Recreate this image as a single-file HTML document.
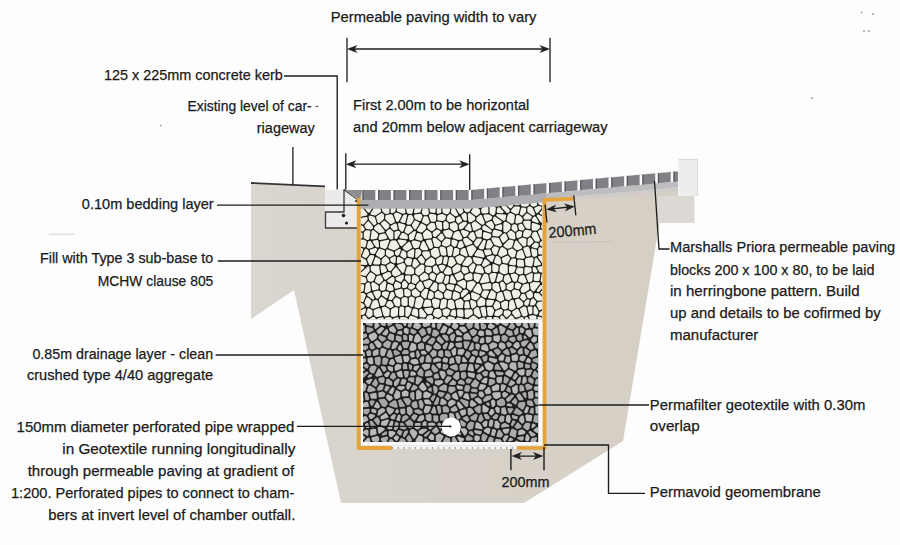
<!DOCTYPE html><html><head><meta charset="utf-8"><style>html,body{margin:0;padding:0;background:#fff;width:900px;height:545px;overflow:hidden}</style></head><body><svg width="900" height="545" viewBox="0 0 900 545" style="display:block"><defs><linearGradient id="gstone" x1="0" y1="0" x2="0.3" y2="1"><stop offset="0" stop-color="#c4c4c4"/><stop offset="1" stop-color="#9c9c9c"/></linearGradient><linearGradient id="gground" gradientUnits="userSpaceOnUse" x1="250" y1="0" x2="700" y2="0"><stop offset="0" stop-color="#dad6d0"/><stop offset="0.3" stop-color="#d8d3cb"/><stop offset="1" stop-color="#d5cec3"/></linearGradient></defs><rect width="900" height="545" fill="#fdfdfd"/><polygon fill="url(#gground)" points="251,183 325,186.3 325,190 362,190 470,190 678,171 678,196 694,196 694,223 659.5,223 623,441 524,503 341,503 294,290 251,319"/><polyline points="251,183 325,186.3" stroke="#333" stroke-width="1.8" fill="none"/><rect x="325" y="190" width="34" height="38" fill="#ecebea"/><polyline points="345.8,190 344,190 344,212 325.5,212 325.5,228 358,228" stroke="#3a3a3a" stroke-width="1.3" fill="none"/><polygon points="344,190 362,190 360,200" fill="#8d8d90"/><polyline points="344,190 358,200" stroke="#333" stroke-width="1" fill="none"/><circle cx="343.5" cy="215.5" r="1.8" fill="#222"/><circle cx="346.5" cy="223" r="1.6" fill="#222"/><circle cx="356.5" cy="201" r="1.3" fill="#222"/><clipPath id="csb"><rect x="361" y="199" width="181" height="120.5"/></clipPath><g clip-path="url(#csb)"><rect x="361" y="199" width="181" height="120.5" fill="#1e1e1e"/><path fill="#f1f0e6" d="M366.3 194.4 365.8 193.8 365.1 193.6 359.4 193.6 358.6 193.9 358.2 194.8 358.2 195.9 358.4 196.7 359 197.1 363.1 198.3 364.2 198.1 366.2 196.6 366.6 196 366.6 195.2ZM369.7 193.6 368.9 193.9 368.5 194.7 368.7 195.5 369.5 196 370.3 196.1 370.9 196.1 371.4 195.9 372.1 195.4 372.2 194.6 371.8 193.9 371 193.6ZM373.9 194.6 374 195.5 374.7 196.1 377.2 196.9 378.2 196.8 379.8 195.8 380.3 195 380 194 379.1 193.6 375.1 193.6 374.3 193.9 373.9 194.5ZM387.7 195 387.6 195.8 387.9 196.5 388.6 196.8 393.2 197.3 394.1 197 394.4 196.8 394.8 196 394.9 194.9 394.6 194 393.7 193.6 389.2 193.6 388.2 194.2ZM403.7 194.4 403.3 193.8 402.6 193.6 397.3 193.6 396.5 193.9 396.1 194.7 396.1 195.3 396.3 196.1 397 196.6 400.2 197.3 400.7 197.3 403.2 196.8 404 196.1 404.1 195.1ZM407.5 197.3 408.6 197.2 411 195.8 411.6 195 411.3 194 410.4 193.6 406.5 193.6 405.5 194.1 405.4 195.2 405.7 196 406.3 196.7ZM415.6 193.6 414.8 193.9 414.4 194.6 414.6 195.4 415.2 195.9 415.7 196.1 416.5 196.2 417.4 196 418.1 195.5 418.3 194.7 417.9 193.9 417.1 193.6ZM424 193.6 423.2 193.9 422.8 194.7 423.1 195.6 423.9 196 424 196 424.9 195.7 425.3 194.8 425.3 194.8 425 193.9 424.1 193.6ZM432.9 195.3 433 194.5 432.5 193.9 431.8 193.6 427.7 193.6 426.9 194 426.5 194.8 426.5 195.1 426.8 195.7 427.4 196.2 430 197 430.6 197.1 431.6 196.9 432.4 196.2ZM433.7 196.3 433.6 197.1 434.1 197.7 437.9 200.7 438.6 201 439.3 200.8 441.9 199.1 442.3 198.6 442.6 197.9 442.5 196.9 440.8 194.2 439.8 193.6 435.8 193.6 434.7 194.3ZM443 195.5 443.8 196.1 444.7 195.9 444.8 195.8 445.4 195 445.2 194 444.2 193.6 444 193.6 443.2 193.9 442.8 194.6 443 195.4ZM452 193.6 451.3 193.9 450.9 194.6 451 195.4 453.1 199.1 454 199.7 454.9 199.4 459 195.7 459.4 194.8 459.1 194 458.2 193.6ZM467.9 198.5 468.8 198.9 469.6 198.5 471.2 196.8 471.4 195.5 471 194.4 470.6 193.8 469.9 193.6 467.5 193.6 466.6 194 465.8 194.9 465.5 195.8 465.9 196.6ZM475.3 193.6 474.5 193.9 474.1 194.8 474.4 195.6 475.2 196 476.3 196.1 477.1 195.8 477.6 195 477.6 195 477.3 194 476.4 193.6ZM478.6 196.1 478.8 197 479.5 197.4 483.1 198.4 483.8 198.3 484.4 197.8 485.8 195.4 485.9 194.6 485.5 193.9 484.8 193.6 480 193.6 479.2 193.9 478.8 194.6ZM493.4 196.7 494.7 196.9 496.8 196.1 497.4 195.6 497.6 194.8 497.2 194.1 497 193.9 496.2 193.6 493.2 193.6 492.3 194 492 194.8 492.4 195.7ZM501.3 194.7 501.3 195.6 501.8 196.3 506.7 198.9 507.7 199 508.9 198.6 509.5 198.1 509.7 197.3 509.2 194.6 508.8 193.9 508.1 193.6 502.6 193.6 501.5 194.3ZM510.9 197.5 511.6 198.3 512.6 198.4 516.8 196.4 517.4 195.8 517.4 195 517.3 194.5 516.8 193.8 516.1 193.6 511.7 193.6 510.8 194 510.5 195ZM518.8 195.3 519.4 196.1 520.5 196.6 521.3 196.7 524.2 196 525 195.5 525.2 194.7 524.8 193.9 524 193.6 519.9 193.6 518.9 194.1 518.7 195.1ZM526.8 195.1 527.3 196.2 529.5 197.6 530.5 197.7 531.3 197.1 532.1 195.3 532.2 194.5 531.8 193.9 531 193.6 528 193.6 527.2 193.9 526.8 194.8ZM532.8 196.7 532.8 197.8 533.8 198.4 535.4 198.6 535.9 198.5 539.4 197.4 540 196.9 540.2 196.2 540.2 194.8 539.9 194 539 193.6 535 193.6 534 194.3ZM541.4 196.6 541.9 197.6 544 199.2 544.9 199.5 545.7 199 547.1 197.3 547.4 196.5 547.4 194.8 547 194 546.2 193.6 542.6 193.6 541.8 193.9 541.4 194.8ZM358.1 198.1 357.2 198.2 357 198.3 356.4 199.4 356.5 204.1 357.1 205.1 359.8 206.8 360.8 206.9 362 206.5 362.7 206 363 205.4 363.2 204.8 363.2 200.5 363 199.7 362.3 199.3ZM364.9 199 364.4 200 364.4 203.5 364.7 204.3 365.6 204.7 369.7 204.6 370.6 204.2 370.9 203.3 370.2 198.2 369.9 197.5 369.3 197.2 368.2 197 367.3 197.2ZM372.3 204.5 372.6 205.2 373.5 206.1 374.5 206.5 377.3 206.2 378.2 205.7 378.4 204.8 377.4 198.9 376.6 198 373.2 196.9 372.5 196.9 372.3 196.9 371.6 197.4 371.4 198.2ZM379.8 205.5 380.1 206.2 380.9 206.5 381.6 206.2 384.7 204.1 385.2 203.4 386.5 198 386.2 197 386.2 196.9 385.7 196.6 383.3 195.6 382.2 195.7 379.1 197.6 378.7 198.2 378.6 198.8ZM386.6 202.7 386.7 203.6 387.4 204.1 389.4 204.8 390.1 204.8 392.9 204.1 393.5 203.6 393.7 202.8 393.4 199.5 393.1 198.8 392.4 198.4 388.8 198 388 198.2 387.5 199ZM396 197.6 395 197.8 395 197.9 394.6 198.9 395 203.5 395.4 204.3 396.5 205.4 397.7 205.7 398.4 205.5 399.2 204.5 399.7 199.5 399.5 198.7 398.8 198.2ZM401.8 198.3 401.2 198.7 400.9 199.3 400.5 203.9 400.7 204.8 401.6 205.2 404.1 205.4 405.1 205 407 202.6 407.3 201.9 407.4 199.4 406.8 198.3 405.7 197.7 404.9 197.6ZM408.5 201.5 409 202.6 413.8 205.8 415 205.9 416.5 205.1 417 204.6 417.1 203.8 415.7 198 415 197.1 413.2 196.4 412.2 196.5 409.2 198.3 408.6 199.3ZM423.8 198.6 423.7 197.6 422.8 197.1 419.8 196.7 419.3 196.7 417.9 197.1 417.2 197.6 417.1 198.5 418.3 203.8 419.2 204.7 420.5 205.1 421.4 205 421.9 204.3ZM423 204.9 423.1 205.9 424 206.5 427.1 207 428 206.7 428.5 205.9 429.5 199.2 429.3 198.3 428.6 197.8 426.8 197.2 425.9 197.3 425.3 198ZM437.9 202.9 437.5 201.9 432.8 198.3 431.9 198 431.7 198.1 431 198.4 430.7 199.1 429.8 205.1 430.1 206.1 431.1 206.5 435.8 205.9 436.5 205.6 437.5 204.5 437.9 203.7ZM441.5 206.3 442.3 206.6 448.3 206.6 449.2 206.1 449.5 205.2 449 204.4 443.3 200.5 442 200.5 439.7 202 439.1 203 439.1 203.6 439.5 204.6ZM444.3 197.5 443.8 198.2 443.7 198.2 443.7 199 444.2 199.6 450.9 204.2 451.7 204.4 452.4 204.1 452.8 203.4 453 201.9 452.9 201.1 449.8 195.7 449.1 195.2 448.2 195.3ZM454 203.6 454.2 204.5 455 205 460 205.4 461 205.1 461.3 204.2 461.2 198 460.8 197.2 460 196.9 459.2 197.2 454.6 201.4 454.2 202.1ZM462.5 203.6 462.8 204.3 463.5 204.7 464.3 204.6 467.8 202.5 468.3 202 468.4 201.3 468.3 200.9 468 200.2 464.4 196.8 463.5 196.5 462.7 196.8 462.4 197.7ZM469.6 201.6 470.1 202.4 473.2 204.5 474.2 204.6 475 204 477.3 199 477.2 197.9 476.3 197.3 473.2 197 472.2 197.4 469.8 200 469.5 201ZM479.6 207.8 480.3 207.9 481 207.6 484.9 204.4 485.3 203.7 485.2 203 484 200.4 483.3 199.7 479.8 198.8 478.9 198.8 478.4 199.4 476.1 204.4 476 205.2 476.6 205.9ZM489.4 194.5 488.4 194.2 487.5 194.8 485.2 198.8 485.2 199.9 486.5 202.9 487.3 203.6 488.6 203.9 489.1 203.9 490.7 203.6 491.7 202.8 492.9 198.8 492.6 197.6ZM498.2 206.1 499 205.1 500 198.1 499.8 197.3 499.1 196.8 498.3 196.8 494.9 198.2 494.2 198.9 492.9 202.9 492.9 203.7 493.4 204.3 496.3 206.3 497.4 206.4ZM500.4 203.6 500.5 204.4 501.1 204.9 501.9 205 504.6 204.2 505.4 203.4 506.1 201.1 506.1 200.3 505.6 199.7 502.8 198.2 501.7 198.1 501 199ZM510.9 199.4 510.1 199.4 508.2 200.1 507.4 200.9 506.6 203.7 506.8 204.9 509.6 208 510.5 208.4 511.4 208 513 206.2 513.2 205 511.8 200.3 511.1 199.5ZM514.3 204.4 514.7 205 515.4 205.2 518.5 205.3 519.4 205 519.8 204.2 520.1 198.6 519.9 197.9 519.4 197.4 518.9 197.2 517.9 197.2 513.8 199.1 513.2 199.7 513.2 200.5ZM520.9 204.9 521.2 205.8 522 206.2 526 206.7 526.9 206.5 528.7 205.2 529.2 204.4 529.8 200 529.3 198.9 526.5 197.1 525.6 196.9 522.2 197.7 521.6 198.1 521.3 198.8ZM532.3 199.5 531.4 199.7 531 200.5 530.4 204.2 530.9 205.4 532.6 206.6 533.8 206.7 536.6 205.5 537.3 204.8 537.2 203.9 535.6 200.4 534.6 199.7ZM544.6 201.5 544.1 200.8 541.2 198.6 540.1 198.4 537.8 199.1 537.1 199.8 537.1 200.8 538.7 204.3 539.5 205 543.4 206 544.1 205.9 544.3 205.9 544.8 205.5 544.9 205.3 545.2 204.3ZM355.6 210.5 356 211.4 357.1 211.7 357.9 211 358.9 208.9 359 208 358.5 207.4 357.4 206.7 356.6 206.5 355.9 206.9 355.6 207.7ZM363.1 208.3 362.5 207.9 361.8 207.8 361.1 208.1 360.4 208.7 357.8 213.9 357.7 214.7 358.2 215.4 360 216.6 360.9 216.7 366.5 215.6 367.2 215.2 367.5 214.5 367.3 213.7ZM365.2 205.9 364.4 206.2 364 207 364.3 207.8 367.7 212.3 368.7 212.8 369.7 212.2 372.4 208 372.6 207.3 372.2 206.5 371.8 206.2 371 205.8ZM374.6 215.6 375.5 215.4 380.6 212.2 381.1 211.6 381.1 210.9 380.4 208.4 379.9 207.7 379.5 207.5 378.8 207.3 374.6 207.6 373.7 208.2 370.7 212.9 370.5 214 371.4 214.7ZM388.6 213.4 389.3 212.9 389.5 212.1 389.2 206.8 389 206.1 388.4 205.7 386.3 205 385.3 205.2 382.2 207.3 381.8 207.9 381.7 208.6 382.5 211.4 382.9 211.9 384.7 213.6 385.7 213.9ZM395.1 211.5 395.5 210.8 396.1 207.4 395.8 206.4 394.8 205.4 393.7 205.1 391.3 205.7 390.6 206.2 390.4 207 390.7 212.1 391.1 212.9 391.8 213.3 392.3 213.3 393.2 213.1ZM402.6 213.7 403.4 213.7 404.6 213.3 405.3 212.8 405.5 212 404.7 207.6 404.3 206.9 403.6 206.6 400 206.3 399.5 206.4 398.1 206.8 397.3 207.8 396.8 210.3 396.9 211.1 397.5 211.6ZM411.3 213.9 412.1 213.6 412.5 212.9 413.5 208 413 206.7 408.9 204 408 203.8 407.3 204.2 406 205.8 405.7 206.8 406.8 212.5 407.4 213.3 407.9 213.6 408.5 213.8ZM421.7 207.9 421.6 207 420.9 206.4 418.5 205.8 417.6 205.9 415.4 207.1 414.7 207.9 414 211.9 414.3 213 415.3 213.3 419.7 212.6 420.6 211.7ZM421.7 212.2 422 213.3 423.2 214.7 424.2 215.2 427.1 214.9 428 214.4 428.7 213.4 428.9 212.4 428.1 209.1 427.8 208.5 427.1 208.2 424.1 207.7 423.3 207.9 422.7 208.6ZM430.4 207.8 429.6 208.3 429.4 209.2 430 211.7 430.3 212.3 431 212.6 434.2 213.1 435.1 212.8 435.5 212 435.7 208.6 435.4 207.6 434.4 207.3ZM436.7 212.5 437.1 213.5 438.2 213.7 440.5 213 441.2 212.5 441.4 211.8 441.1 208 440.7 207.2 439.3 206 438.5 205.7 437.7 206.1 437.4 206.4 437 207.2ZM446.1 214.3 447.4 214.2 449 213 449.5 212.2 450.2 209.2 449.9 208.2 449 207.8 443.6 207.8 442.7 208.2 442.4 209.1 442.6 212 443.3 213.1ZM454.1 207.1 453.5 206.5 452.7 206.5 452.1 207 451.9 207.2 451.7 207.6 450.8 212 451.2 213.2 455.2 216.2 456.4 216.3 457.5 215.7 458.2 215 458 214ZM459.1 213.5 460 214.1 460.9 213.9 462.9 212.2 463.3 211.6 463.3 210.9 462.1 207.5 461.1 206.7 457.3 206.4 456.4 206.6 456 207.3 456.1 208.2ZM469.7 203.6 468.5 203.5 464 206.2 463.4 206.8 463.4 207.6 464.6 210.9 465.3 211.6 466.7 212.3 467.5 212.3 469 211.9 469.7 211.3 472.5 206.8 472.6 205.9 472.1 205.2ZM475.4 206.6 474.5 206.5 473.8 207 471.2 211.2 471.1 212 471.5 212.8 475.5 215.8 476.2 216 477 215.8 479.8 213.6 480.3 212.4 479.9 209.9 479.3 209ZM481.5 212.3 481.9 213.1 482.7 213.4 487.2 213.3 488 212.9 488.4 212 488.3 206 488 205.2 487.3 204.8 487.1 204.8 486 205 481.5 208.8 481.1 209.8ZM492.7 215.2 493.6 215.3 494.3 214.8 495.1 213.4 495.3 213 495.9 208.3 495.4 207.1 492.2 204.9 491.3 204.7 490.5 204.9 489.8 205.3 489.5 206.1 489.6 212.8 490.2 213.8ZM499.8 207.5 498.5 207.2 497.9 207.5 497.1 208.4 496.7 211.5 496.9 212.5 497.8 212.9 502.4 213.2 503.2 212.9 503.6 212 503.3 211.2ZM502.5 206 501.8 206.5 501.6 207.3 501.9 208 506.5 212.8 507.3 213.1 508.1 212.9 509.2 212 509.7 211.2 509.8 210.7 509.5 209.7 506 205.8 504.8 205.4ZM511.3 209.9 511 210.5 511 210.9 511.1 211.6 511.6 212.1 515.5 214.1 516.2 214.2 517.6 214 518.6 213.1 520 208 519.8 207 518.8 206.5 514.9 206.4 514 206.8ZM526.1 208.9 525.8 208.1 525 207.7 522.4 207.4 521.6 207.6 521.1 208.3 519.8 213.3 519.8 214.1 520.3 214.7 521.5 215.5 522.3 215.6 523 215.3 525.9 212.3 526.2 211.4ZM532.7 208.3 532.3 207.8 530.4 206.4 529.7 206.2 529 206.4 527.8 207.3 527.3 208.3 527.4 211.2 527.9 212.2 532.5 215.4 533.8 215.5 534.5 215.1 535.1 214.4 535 213.5ZM535.9 212.5 536.4 213.1 537.2 213.2 537.9 212.8 541.5 208.5 541.8 207.8 541.6 207 540.9 206.6 539 206.1 538.2 206.1 535 207.5 534.4 208.1 534.4 209ZM545.1 209 544.6 208.3 543.8 208.1 543 208.6 539.9 212.4 539.6 213.4 540.3 214.2 543.7 215.8 544.9 215.7 545.9 215 546.4 214.4 546.4 213.7ZM357.4 216.3 356.6 216.2 355.9 216.6 355.6 217.4 355.6 221.9 356 222.8 357.6 224.1 358.9 224.2 359 224.1 359.7 223.1 359.7 218.4 359.1 217.4ZM361.9 217.8 361.2 218.2 360.9 218.9 360.9 223.1 361.6 224.1 362.4 224.5 363.1 224.6 363.8 224.2 367.4 219.9 367.7 219 367.5 218 367 217.1 366.1 216.9ZM370.1 215.6 369.3 215.7 368.7 216.2 368.6 216.9 368.9 219.1 369.1 219.7 373.2 224.8 374 225.2 374.9 225 376.1 224.1 376.5 223.5 376.5 222.8 374.9 217.5 374 216.7ZM383.5 219.5 383.9 218.7 384.2 215.5 383.9 214.5 382.7 213.4 382 213.1 381.2 213.3 376.7 216.1 376.2 216.7 376.1 217.5 377.5 222.1 378 222.8 378.8 223 379 223 379.7 222.7ZM394.2 222.6 394.8 221.9 394.8 221.1 392.8 215.3 391.8 214.5 390.5 214.3 390.1 214.3 386.4 215 385.7 215.4 385.4 216.1 385.1 218.6 385.5 219.6 390 223.8 390.6 224.1 391.4 224ZM396.1 221.1 396.7 221.8 397.6 221.9 398 221.8 398.7 221.2 401.5 215.9 401.5 215 400.9 214.3 396.7 212.5 395.5 212.7 394.3 213.7 393.9 214.3 394 215ZM400.5 220.5 400.4 221.5 401.2 222.2 404 223 404.9 222.9 405.5 222.1 407 215.8 406.9 214.9 406.4 214.4 405.5 214.3 403.8 214.8 403.1 215.4ZM406.5 223 406.7 224 407.5 224.5 409.8 224.8 411 224.2 413.6 219.9 413.7 218.9 412.6 215.9 411.5 215.1 409.5 215 408.7 215.2 408.2 215.9ZM414.9 214.6 414.1 215.2 414 216.2 414.8 218.5 415.5 219.2 419.4 220.9 420.4 220.9 421 220.2 422.4 216.6 422.2 215.4 421.1 214.1 420 213.7ZM422 220.9 422 221.8 422.6 222.4 426 224.3 426.6 224.5 427.3 224.2 429.2 222.7 429.6 222.1 429.5 221.4 427.9 216.9 427.4 216.4 426.7 216.2 424.5 216.3 423.5 217.1ZM430.7 213.8 429.5 214.3 429 215 428.9 216.1 430.7 221 431.1 221.6 431.8 221.8 434.3 221.8 435 221.5 435.8 220.9 436.2 220 436.2 215.6 435.9 214.8 435.2 214.4ZM437.4 219.3 437.7 220 438.4 220.5 442.1 221.1 442.8 220.9 444.8 220 445.5 219.1 446 216.6 445.9 215.8 445.3 215.3 442.4 214 441.6 213.9 438.3 215 437.7 215.4 437.4 216.1ZM450.7 214.3 449.9 214.1 449.2 214.3 447.8 215.4 447.3 216.1 446.7 219.2 447 220.4 449 222.1 450.1 222.3 454 221.2 454.6 220.8 454.9 220.2 455 218.2 454.5 217.2ZM456.9 217.4 456.2 218.4 456 220.8 456.3 221.6 457.5 223 458.3 223.4 459.1 223.2 461.6 221.5 462.1 220.8 462 220 460.3 216.9 459.6 216.4 458.7 216.4ZM463.4 220 464.3 220.6 465.6 220.8 466.6 220.5 467 219.5 466.6 214.2 465.8 213.2 465.1 212.9 463.8 213 461.7 214.8 461.3 215.5 461.4 216.3ZM474.4 220.3 474.9 219.6 475.3 218.1 475.3 217.4 474.9 216.8 470.2 213.3 469.1 213.1 468.7 213.2 468 213.7 467.8 214.5 468.3 220.9 468.7 221.7 468.8 221.8 469.3 222.1 470.1 222.3 471 222.2ZM481.9 215.4 481.1 214.7 480.1 214.9 477.1 217.2 476.7 217.8 476.2 219.4 476.6 220.7 481.4 224.6 482.1 224.8 482.8 224.7 483.9 224 484.4 223.5 484.6 223.1 484.6 222.1ZM491.1 219.5 491.7 218.8 492.2 217.5 492.2 216.6 491.6 216 489.1 214.6 488.5 214.4 484.6 214.5 483.6 215.1 483.5 216.2 485.3 220.7 486 221.4 487 221.3ZM495.3 216.8 494.2 216.6 493.5 217.4 492.8 219.2 492.9 220.1 494.8 223.9 495.4 224.5 496.3 224.5 500.9 222.9 501.6 222.3 501.7 221.5 501.2 220.8ZM497.4 214.1 496.5 214.5 496.2 215.4 496.7 216.3 503.2 220.7 504.3 220.8 504.7 220.6 505.4 219.8 506.2 216 506 215.1 505.1 214.6ZM511 223.6 512.1 223.7 513.2 223.3 514 222.4 514.9 216.1 514.8 215.4 514.3 214.8 510.9 213.1 509.6 213.2 508.1 214.3 507.7 215 506.6 219.7 506.7 220.4 507.1 221ZM522.7 220.5 522.8 219.6 522 217.5 521.6 217 519.1 215.3 518.3 215.1 517.1 215.3 516.4 215.6 516.1 216.3 515.3 222.1 515.4 222.9 516.1 223.4 517 223.6 517.7 223.6 521.4 222.4 522 221.8ZM529.8 219.6 530.8 219 531.7 217.7 531.8 216.8 531.3 216.1 527.7 213.5 526.9 213.3 526.2 213.7 523.6 216.4 523.3 217.6 523.8 218.7 524.2 219.3 524.9 219.5ZM531.9 219.6 531.8 220.6 532.5 221.3 537.2 222.9 538.1 222.9 538.7 222.1 538.6 221.2 535.9 217 535.1 216.5 534.3 216.6 533.8 216.8 533.3 217.3ZM538.4 214.6 537.4 214.6 536.8 215.4 536.9 216.4 540.7 222.2 541.4 222.7 542.4 222.5 542.8 222.2 543.3 221.3 543.6 218 543.5 217.3 542.9 216.8ZM545.4 216.8 544.9 217.7 544.6 220.5 544.8 221.4 545.6 221.9 546 221.9 547 221.6 547.4 220.7 547.4 217.7 547.1 216.9 546.3 216.5 545.5 216.7ZM356.3 229.2 356.1 230 356.5 230.7 357.2 231 362.4 231.4 363.4 231.1 364.3 230.1 364.7 229.4 364.5 228.6 363.1 226.4 362.6 225.9 360.8 225.1 359.8 225.1 358.8 225.6 358.3 226ZM372.2 228.9 372.7 228.2 373 227.3 372.8 226.2 369.3 221.8 368.3 221.3 367.4 221.7 364.7 225 364.4 225.7 364.5 226.4 365.8 228.4 366.7 229 370.7 229.4 371.5 229.3ZM379.8 224.6 378.7 224.2 378 224.3 377.4 224.6 374.7 226.7 374.3 227.3 374 228 374 228.8 374.4 229.4 378.7 232.8 379.7 233.1 383.7 232.3 384.4 231.9 384.7 231.1 384.4 230.4ZM385.2 221 384.4 220.7 383.6 220.9 381.4 222.8 381 223.6 381.2 224.5 385.1 229.3 385.9 229.7 386.8 229.4 388.9 227.5 389.2 227.1 389.5 226 389.2 224.8ZM390.6 226.7 390.6 227.4 390.9 228 393.5 230.2 394.6 230.4 396.9 229.8 397.6 229.2 397.7 228.3 396.7 224.3 396.1 223.5 395 223.5 391.4 225.3 390.8 226ZM399.5 222.9 398.7 223 398.1 223.5 398 224.4 399.2 229.2 399.5 229.8 401.2 231.5 402.3 231.8 402.4 231.7 403.3 231 405.3 226 405.3 225 404.6 224.4ZM412.5 230.8 413 230 412.8 229.1 410.9 226.5 410 226 407.7 225.8 406.9 225.9 406.4 226.5 404.6 231 404.6 231.8 405.1 232.4 407.3 233.8 408 234 408.7 233.7ZM414.1 228.9 414.7 229.4 415.5 229.4 416.1 228.9 419.3 223.6 419.4 222.6 418.7 221.9 415.7 220.6 414.9 220.6 414.2 221.1 412 224.8 412.1 226.1ZM417.1 229.6 417 230.6 417.7 231.3 421 232.6 422.3 232.3 425.7 228.9 426.1 228 426.1 226.5 425.5 225.4 422.1 223.5 421.2 223.4 420.5 223.9ZM431.1 231.1 431.8 231.3 432.5 231 435.3 228.7 435.7 227.5 434.7 223.9 434.3 223.3 433.5 223 431.2 223 430.4 223.3 427.8 225.4 427.3 226.3 427.3 227.8 427.8 228.8ZM442 223.2 441.7 222.5 441 222.1 437.5 221.5 436.5 221.8 436.2 222.1 435.8 223.4 436.9 227.5 437.5 228.3 440.5 229.8 441.3 229.9 442 229.4 442.2 228.7ZM448.7 224 448.3 223.1 446.4 221.4 445.7 221.1 445.1 221.2 443.9 221.8 443.2 222.9 443.4 228.1 443.9 229.1 444.9 229.3 447.8 228.5 448.4 228.1 448.7 227.3ZM453.2 230.8 454.4 231 457.1 229.9 457.6 229.4 457.8 228.7 457.6 225.2 457.3 224.5 455.7 222.7 454.4 222.3 450.8 223.4 450.1 223.8 449.9 224.5 449.9 227.8 450.4 228.8ZM459 228.3 459.5 229.3 460.5 229.4 462.5 228.8 463 228.4 466.7 224 467 223.2 466.7 222.4 465.9 222 463.9 221.8 463.1 222 459.3 224.5 458.8 225.6ZM470.4 224.5 469.9 223.8 469 223.6 468.3 224 465.2 227.7 465 228.7 465.7 229.6 470 231.2 470.9 231.2 471.1 231.1 471.7 230.5 471.8 229.7ZM473 229.9 473.7 230.7 474.7 230.7 480.3 228.1 480.9 227.3 481.1 226.8 481.1 226.1 480.7 225.5 475.9 221.7 475.2 221.4 474.5 221.6 472.1 222.9 471.6 223.5 471.6 224.3ZM482.9 226 482.4 226.7 482.1 227.7 482.2 228.7 482.8 229.8 483.5 230.3 490.1 232.5 491 232.4 491.6 231.7 491.7 231.3 491.7 230.6 491.3 230.1 485.3 225.5 484.6 225.2 483.9 225.4ZM486.7 222.8 486.1 223.4 486 224.2 486.4 224.8 491.7 228.9 492.8 229.1 493.6 228.3 494.2 226.1 494.1 225.2 492.2 221.5 491.6 220.9 490.7 221ZM500.6 230.1 501.7 229.8 502.1 228.9 502.2 225.4 501.7 224.4 500.6 224.3 496.1 225.8 495.3 226.6 495.1 227.3 495.2 228.3 496 228.8ZM509.8 229.5 510.2 228.7 510.7 225.6 510.1 224.4 506.2 221.8 505.1 221.7 504.4 222.1 503.9 222.5 503.6 222.8 503.4 223.4 503.3 230.7 503.5 231.4 503.6 231.6 504.4 232.1 505.6 232.4 506.7 232.2ZM514.6 231.5 515.4 231.7 516.1 231.4 517.3 230.4 517.7 229.2 517 225.5 516.1 224.6 514.8 224.3 514.1 224.3 512.7 224.8 511.8 225.7 511.5 228.5 511.9 229.6ZM519.1 224.4 518.4 224.9 518.3 225.8 518.9 229 519.7 229.9 522.1 230.6 523.2 230.4 524.2 229.6 524.6 228.9 524.4 228.1 522.4 224.3 521.8 223.8 521 223.8ZM525.8 228 526.7 228.6 529.1 229 530 228.7 530.4 227.8 530.7 222 530.3 221.1 529.5 220.8 524.7 220.7 523.6 221.4 523.2 222.1 523.2 223.3ZM531.6 229.1 532 230 532.4 230.4 533.3 230.8 536.3 230.6 537 230.4 539.4 228.6 539.8 227.8 540 226.2 539.9 225.4 539.3 224.9 533.4 222.9 532.3 223.1 531.8 224ZM544.4 222.9 543.5 223.1 541.9 224.3 541.5 224.8 541.5 224.9 541.4 225.2 541.1 227.3 541.2 228.1 541.8 228.6 545.7 230.4 546.5 230.5 547.1 230 547.4 229.3 547.4 224.4 547.1 223.6 546.4 223.2ZM355.8 237 356.6 237.9 359.5 238.7 360.1 238.7 361.6 238.4 362.3 238 362.5 237.2 362.6 233.8 362.3 232.9 361.5 232.5 356.9 232.2 356 232.5 355.6 233.4 355.6 236.2 355.6 236.4ZM370.4 231.9 370.1 230.9 369.3 230.5 366.6 230.2 365.6 230.5 364.1 232 363.8 232.8 363.7 237.5 364.4 238.6 367.1 240 368.2 240 368.6 239.8 369.3 238.9ZM370.6 238.2 371 239.2 372 239.5 376.5 238.7 377.4 237.8 378.2 234.8 377.7 233.6 373.6 230.3 372.9 230 372.1 230.3 371.7 231.1ZM378.5 238.4 378.7 239.4 379 239.7 380.2 240.1 386.3 238.8 387.1 238.2 387.1 237.1 385.4 234 384.9 233.5 384.1 233.4 380.3 234.2 379.3 235.1ZM386.6 231.3 386.3 231.7 386.1 232 386.2 233 389.1 238.3 389.4 238.7 390 239.2 391 239.5 392.4 239.3 393.1 238.9 393.4 238.1 393.3 232.1 392.9 231.2 390.4 229.2 389.6 228.9 388.8 229.2ZM394.6 238 394.9 238.8 395.7 239.1 396.5 238.9 397.1 238.4 397.3 238.1 400.2 233.5 400.4 232.7 400 232 399 231 397.9 230.7 395.4 231.5 394.7 231.9 394.5 232.6ZM407.6 235.9 407.1 235 403.8 233 402.9 232.9 402.4 233 401.6 233.5 399.7 236.6 399.5 237.4 399.8 238.1 400.5 238.5 406.6 239.2 407.6 238.8 407.9 237.8ZM409.4 239.3 410 240.2 411 240.3 413.2 239.4 413.9 238.7 415.9 232.6 415.9 231.6 415.1 231 415 231 413.9 231.2 409.3 234.8 408.8 235.9ZM422.4 240 422.8 238.7 421.6 234.6 420.8 233.8 418.4 232.9 417.5 232.9 416.9 233.6 415.3 238 415.4 239 416.2 239.6 420.7 240.8 421.8 240.5ZM423.9 238.2 424.4 238.9 425.2 239.1 430.9 238.3 431.7 237.9 431.8 237.8 432.1 236.8 431.4 233.2 430.9 232.4 427.6 230.1 426.8 229.9 426 230.3 423.1 233.2 422.8 234.4ZM435.3 236.9 436.1 236.5 440.1 232.7 440.5 231.7 439.8 230.8 437.3 229.5 436 229.7 433.1 232.1 432.6 233.3 433.1 235.9 433.6 236.6 434.4 236.9ZM440.6 240.6 441.4 240.8 442.3 240.4 444.2 238.3 444.5 237.6 444.3 236.9 442.6 234 441.8 233.4 440.8 233.7 437.9 236.5 437.5 237.4 437.9 238.3ZM443.9 230.8 443.1 231.5 443.2 232.5 445.6 236.7 446.5 237.3 450 237.7 450.8 237.5 451.3 236.9 452.7 233 452.7 232.2 452.2 231.6 449.6 229.7 448.6 229.5ZM459.3 231.5 458.6 230.9 457.8 230.9 454.7 232.2 454 232.9 452.6 236.8 452.6 237.7 453.3 238.3 458.5 240.1 459.2 240.1 461.3 239.6 462.1 238.9 462.3 238.4 462.3 237.4ZM461.6 230.3 460.9 231 460.9 232 463.1 236.3 463.7 236.9 464.5 237 466.3 236.5 467 236.1 468.7 233.6 468.9 232.6 468.2 231.8 463.5 230 462.7 230ZM471.2 232.4 470.7 232.8 468.5 236 468.3 236.8 468.7 237.6 472.3 240.6 473.3 240.9 474.1 240.4 475.5 238.3 475.7 237.2 473.9 232.6 473.2 231.9 472.2 231.9ZM475.9 231.4 475.3 232.1 475.3 232.9 476.7 236.5 477.8 237.3 480.4 237.3 481.3 237 481.7 236.2 482 231.2 481.9 230.5 481.6 230 480.9 229.5 480 229.5ZM484.7 232 483.6 232.1 483.1 233 482.8 237 483.3 238.1 483.5 238.3 483.9 238.4 486.6 239.3 487.3 239.3 489.6 238.6 490.3 238 491.1 236.6 491.3 235.9 491.2 234.8 490.3 233.8ZM501.8 233.4 502.1 232.7 501.9 231.9 501.2 231.5 494.9 229.8 493.7 230.1 493.4 230.4 493.1 230.9 492.3 233.4 492.3 233.9 492.4 234.9 492.7 235.7 493.4 236 498.2 236.5 499.2 236.1ZM507.6 239.2 507.9 238.6 507.8 237.9 506.2 234.3 505.4 233.6 504.4 233.3 503.2 233.7 500.4 236.7 500 237.3 500.2 238 502.3 242.3 503.1 242.9 504.2 242.6ZM509.1 237.7 509.9 238.4 514.1 239.4 515.2 239.1 515.5 238 514.9 233.6 514.4 232.8 511.5 230.8 510.8 230.5 510 230.8 507.8 232.8 507.4 233.5 507.5 234.2ZM516.6 237.2 517.3 238.1 518.4 238.1 521.1 236.7 521.7 235.8 522.1 232.9 521.9 232.1 521.3 231.6 519.3 231 518.2 231.2 516.6 232.6 516.2 233.7ZM523.8 231.5 523.4 232.2 523 235.4 523.2 236.2 523.8 236.7 526.5 237.6 527.5 237.5 529.9 236 530.4 235.5 531.6 232.3 531.3 231 531 230.7 530.3 230.4 526.4 229.8 525.4 230.1ZM531.6 235.5 531.8 236.7 534.8 240.9 535.7 241.4 538.3 241.7 539.3 241.4 539.7 240.9 539.9 239.6 536.9 232.6 536.4 232 535.7 231.8 533.8 231.9 532.7 232.7ZM541.1 229.6 539.8 229.7 538.4 230.8 538 231.4 538 232.2 541 239 541.5 239.6 542.2 239.7 543.9 239.5 544.8 238.8 547.2 233.7 547.3 232.8 546.7 232.1ZM357.1 239.3 356.1 239.5 355.6 240.5 355.6 245.7 356.1 246.7 357.1 246.8 358.2 246.5 358.8 246.1 359.1 245.4 359.1 240.8 358.9 240.1 358.3 239.6ZM363.5 239.5 362.6 239.4 361.3 239.7 360.6 240.1 360.3 240.8 360.3 245.4 360.5 246.1 361.1 246.6 364 247.5 364.9 247.4 365.5 246.7 366.7 242.2 366.6 241.4 366.1 240.8ZM368.6 241.1 368 241.9 366.8 246.7 366.8 247.4 367.3 247.9 368.1 248.5 369.2 248.7 373 247.4 373.7 246.7 373.6 245.6 370.8 241.3 370.1 240.8 369.3 240.9ZM375.5 246.5 376.2 246.9 377.4 247.4 378.2 247.4 378.8 246.9 379 246.1 378.6 241.5 378.4 240.9 377.9 240.3 376.8 239.9 373.6 240.4 372.7 241.2 372.8 242.3ZM380.9 241.2 380.1 241.7 379.9 242.5 380.2 246.7 380.5 247.4 381.1 247.8 384.8 248.9 385.8 248.7 386.3 248.3 386.8 247.8 389.2 241.3 389.2 240.5 388.7 239.8 387.9 239.7ZM391.4 240.7 390.5 241.4 388.3 247.1 388.4 248 389 248.6 393.4 250.3 394.5 250.2 398.8 247.8 399.4 247 399.3 246.1 396.2 240.9 395.3 240.4 394.2 240.2 393.8 240.2ZM399 239.5 398.1 239.7 397.6 240.4 397.8 241.3 400.4 245.7 401.3 246.3 402.2 246 406.2 242.4 406.6 241.6 406.4 240.7 405.6 240.3ZM403 246.9 402.6 247.9 403.1 248.8 406 250.7 407.3 250.8 411.4 248.4 412 247.8 412 246.9 410.2 242.6 409.4 241.8 408.3 242.1ZM420.3 243.2 420.2 242.3 419.4 241.7 414.6 240.4 413.8 240.4 412.2 241.1 411.6 241.7 411.6 242.6 413.3 247.2 414 247.9 414.8 248.2 415.4 248.2 418 247.8 419 247ZM424.5 241.7 423.7 241.1 422.7 241.4 422.2 241.7 421.9 242.3 420.1 247.3 420.4 248.6 421.9 250 422.8 250.3 427 250.2 427.7 249.9 428.1 249.2 428 248.4ZM432.7 247.6 433.1 246.3 431.5 240.5 431 239.8 430.2 239.6 426.8 240.1 425.9 240.7 425.9 241.8 429.3 248.4 430.1 249 431.1 248.8ZM433.7 238.1 432.7 238.6 432.5 239.6 434.2 245.9 434.6 246.5 435.3 246.8 437.9 246.9 438.7 246.7 440.3 245.5 440.8 244.6 440.9 243 440.5 242 436.1 238.3 435.3 238.1ZM445.7 246.4 446.6 246.4 449.6 245 450.2 244 450.5 240.1 450.3 239.3 449.5 238.9 446.4 238.5 445.4 238.8 442.4 242 442.1 242.8 442 244.2 442.2 244.9 442.8 245.4ZM453.3 239.6 452.2 239.7 451.7 240.6 451.4 244.2 451.9 245.2 453.6 246.6 454.5 246.8 455.2 246.7 456.2 246 457.6 242.4 457.5 241.4 456.8 240.8ZM462.4 241.6 461.8 241 461 240.9 459.9 241.2 459 241.9 457.5 245.9 457.5 246.8 458.1 247.4 459.6 248.2 460.7 248.2 463.4 246.8 464 246.2 463.9 245.3ZM465.1 245 465.8 245.7 466.6 245.7 471.7 244 472.4 243.5 472.5 242.7 472.1 242 467.4 238 466.3 237.8 464.2 238.3 463.4 238.9 463.2 239.4 463.2 240.4ZM477.5 238.5 476.5 239 474.3 242.3 474 242.9 474 243.4 474.3 244.3 476.1 246.4 477.1 246.8 478 246.3 481.7 240.4 481.9 239.6 481.5 238.9 480.8 238.5ZM478.9 247.1 478.8 248.2 479.6 248.9 482.3 249.5 483.4 249.2 483.7 249 484 248.4 485.9 241.6 485.8 240.7 485.1 240.1 484.5 239.9 483.7 239.9 483.1 240.4ZM492.7 245.8 493 245.1 492.9 244.4 490.6 240.5 490 240 489.2 239.9 488.1 240.3 487.3 241.1 485.7 246.9 485.9 248 486.9 248.4 489.9 248.4 490.8 248ZM499 238.3 498 237.7 493 237.2 491.8 237.7 491.5 238.3 491.5 239.5 494.2 244.4 494.9 244.9 499.6 246.5 500.5 246.5 501.4 246 502 245.3 502 244.4ZM503.8 244.7 503.4 245.6 503.9 246.5 506.8 248.6 508 248.8 511.5 247.5 512.2 246.7 513.7 241.8 513.6 240.9 512.9 240.3 509.7 239.6 508.6 239.9ZM517.2 241.1 516.4 240.6 515.6 240.8 515.1 241.5 513.4 246.7 513.5 247.4 513.9 248 516.6 250.1 517.8 250.2 521.4 248.7 522.1 247.9 521.9 246.8ZM522.8 237.6 521.8 237.7 519 239.1 518.4 240 518.6 241 522.8 246 523.4 246.4 524.2 246.4 525.6 245.8 526.3 244.7 526.5 239.8 526.3 239.1 525.7 238.6ZM528.2 238.5 527.7 239.5 527.5 244.4 527.8 245.2 528.4 245.6 528.7 245.7 529.8 245.5 533.2 242.6 533.6 241.8 533.4 241 531.2 238 530.5 237.5 529.6 237.6ZM532 245.2 531.6 245.9 531.8 246.7 532.4 247.2 536.2 248.4 537 248.3 537.6 247.8 538.6 246 538.7 245.3 538.6 244 538.3 243.2 537.5 242.9 535.5 242.6 534.6 242.9ZM545.1 241 544.2 240.7 541.7 241 540.9 241.4 540.1 242.3 539.8 243.2 539.9 244.8 540.5 245.7 544.4 247.9 545.1 248 545.8 247.7 547 246.5 547.4 245.7 547.4 243.6 547 242.7ZM356.6 248.3 355.9 248.8 355.7 249.6 356.6 255 357.3 255.9 358 256.2 358.7 256.3 359.9 256.1 360.8 255.4 363.1 249.9 363.1 248.9 362.4 248.3 360 247.5 359.3 247.5ZM366.4 248.8 365.4 248.7 364.7 249.4 362.2 255.2 362.1 256.1 362.7 256.7 365.2 258 366 258.1 366.6 257.7 369.1 254.6 369.3 253.4 368.1 250.3 367.7 249.7ZM370.5 253 371.4 253.7 373.8 254.1 374.5 254 375 253.5 377 250 377.1 249 376.3 248.3 375.8 248.1 375 248.1 370.5 249.5 369.8 250.1 369.7 251.1ZM376.1 254 376 254.9 376.6 255.6 380.3 257.9 381.1 258.1 381.8 257.7 384.4 255.2 384.8 254.4 384.8 251 384.6 250.3 383.9 249.9 380.1 248.8 379.3 248.8 378.7 249.3ZM388.6 257 389.2 257.3 389.9 257.2 393.4 255.3 393.9 254.7 394 254 393.6 252.2 392.9 251.4 387.8 249.4 386.7 249.6 386.5 249.7 386 250.6 386 254.3 386.4 255.2ZM400.8 250.5 400.8 249.5 400.1 248.9 399.1 249 395.5 251 395 251.6 394.9 252.3 395.3 254.4 395.7 255.1 396.3 255.6 397.4 255.8 398.1 255.6 398.9 254.9ZM403.9 258.3 404.7 258.4 405.4 258.1 406.2 257.2 406.5 256.3 406.1 252.7 405.6 251.9 403.6 250.6 402.6 250.4 401.8 251.1 400.3 254.8 400.3 255.6 400.8 256.3ZM407.7 255.8 408 256.4 408.6 256.8 412.4 257.8 413.4 257.6 413.9 256.7 414.3 250.3 414.1 249.5 413.4 249 412.5 249.2 408 251.8 407.4 252.9ZM415.1 256.6 415.4 257.4 416.3 257.8 417.2 257.5 420.6 254.2 421 253.5 421.3 251.8 420.9 250.7 419.4 249.3 418.4 249 416.5 249.2 415.8 249.6 415.5 250.4ZM425.2 258.4 426 258.9 426.9 258.7 429.8 256.5 430.3 255.2 429.5 252.2 429.1 251.6 428.3 251.3 423.5 251.5 422.8 251.8 422.4 252.5 422.2 253.5 422.4 254.4ZM431 250.4 430.6 251.6 431.5 255.4 432.1 256.1 434.8 257.8 436 257.8 439.1 255.9 439.6 255.3 439.7 254.6 438.3 249 437.9 248.4 437.2 248.1 434.6 247.9 433.8 248.2ZM445.4 255.6 446.2 255.1 446.5 254.2 445.7 248.4 445 247.4 442.1 246.4 440.9 246.5 439.8 247.4 439.4 247.9 439.4 248.6 440.9 254.5 441.8 255.3 443.4 255.7 443.7 255.7ZM448.6 255.9 449.2 256.1 450.7 255.9 451.4 255.6 451.8 255 453 248.5 452.6 247.3 451.3 246.2 450 246.1 447.6 247.2 447.1 247.7 447 248.5 447.8 255 448.5 255.9ZM453 255 453.1 255.9 453.9 256.4 454.7 256.3 458.5 254.2 459.1 253.3 459.4 250.3 459.3 249.6 458.8 249.1 456.6 248 455.9 247.9 455.2 247.9 454.5 248.3 454.1 248.9ZM461.3 249.3 460.7 250.2 460.3 253.1 460.5 253.8 461 254.3 465.8 256.4 466.6 256.5 466.9 256.4 467.6 255.8 467.6 254.9 465.5 248.6 464.8 247.9 463.8 248ZM469 255.3 469.9 256.1 470.8 256.3 471.9 256 472.1 255.9 472.3 255.6 476.2 249.7 476.3 249 476.1 248.3 473.7 245.4 473.1 245.1 472.4 245.1 467.4 246.7 466.7 247.3 466.6 248.2ZM482.9 251.4 482 250.7 478.4 249.8 477.7 249.9 477.2 250.3 474.6 254.2 474.4 255 474.7 255.7 475.4 256.1 483.1 257.5 483.9 257.4 484.4 256.7 484.5 255.9ZM485.2 249.7 484.2 250.2 484.1 251.3 485.3 254.7 485.9 255.4 486.7 255.5 490.8 254.4 491.6 253.8 491.6 252.8 490.6 250.3 490.2 249.8 489.5 249.6ZM495.2 254.7 496 254.7 496.2 254.7 496.9 254 498.8 248.8 498.8 247.9 498.1 247.3 495 246.2 493.7 246.5 491.9 248.5 491.7 249.8 493.2 253.5 493.9 254.2ZM503 247.3 501.8 247.2 501 247.6 500.3 248.2 498.2 253.9 498.2 254.7 498.7 255.3 500.5 256.7 501.7 256.8 506.4 254.6 507 254.1 507.1 253.3 506.8 250.5 506.3 249.7ZM508.4 253.9 508.7 254.6 511 257 511.9 257.4 514 257.2 514.6 256.9 515 256.3 516.2 252.2 516.2 251.5 515.7 250.9 512.9 248.8 511.8 248.6 508.8 249.7 508.2 250.2 508 251ZM516.7 258 517.3 258.3 523.3 258.7 524.3 258.3 524.7 257.9 524.9 256.7 522.6 250.8 522 250.1 521 250.1 518.1 251.4 517.4 252.2 516.2 256.7 516.6 258ZM524 247.7 523.4 248.3 523.4 248.4 523.3 249.4 525.9 255.9 526.4 256.5 527.2 256.7 529.8 256.3 530.6 255.8 530.8 254.9 529.4 247.9 528.6 246.9 527.3 246.6 526.6 246.7ZM532.6 248.5 531.8 248.6 531.2 249.1 531.1 249.9 532.1 255.5 532.9 256.4 534.1 256.7 534.8 256.7 536.1 256.3 536.6 256 537 255.6 537.3 254.7 537 250.6 536.7 250 536.1 249.6ZM538.4 253.4 538.9 254.3 539.8 254.5 543.3 254 543.9 253.6 544.3 252.9 544.5 250.2 544.4 249.5 543.9 249 540.7 247.2 539.7 247.1 539 247.7 538.2 249.2 538.1 249.8ZM366.1 265 366.9 264.7 367.3 264.1 367.3 263.3 365.9 260 365.3 259.4 361.2 257.3 360.5 257.2 359.8 257.3 359.1 257.7 358.8 258.4 358.6 263.6 358.9 264.4 359.7 264.8ZM369 264.3 369.6 265 370.5 265 370.7 264.9 371.4 264.2 374.2 256.8 374.1 255.8 373.2 255.2 371.2 254.9 370.1 255.3 367.3 258.7 367.2 259.9ZM378.9 264.5 379.7 264.2 380.1 263.5 380.5 260.2 379.9 259.1 376.8 257.2 375.8 257.1 375.1 257.8 373.2 263 373.3 264.1 374.3 264.6ZM384.8 264.6 385.6 264.4 388.9 262.6 389.5 261.9 389.5 261.1 388.7 259 388.4 258.4 386.2 256.6 385.4 256.3 384.6 256.7 382.1 259.1 381.8 259.8 381.4 262.7 381.6 263.6 382.3 264.1ZM393.8 263.2 394.9 263.2 395.5 262.3 395.9 257.5 395.5 256.5 395.4 256.4 394.7 256.2 394 256.3 390.8 258.1 390.2 258.7 390.2 259.5 390.8 261.4 391.5 262.1ZM403.8 260.7 403.8 259.9 403.3 259.3 399.5 256.9 398.6 256.8 398 256.9 397.4 257.3 397.1 258 396.7 262.2 396.9 262.9 397.5 263.4 398.3 263.4 402.9 261.9 403.7 261.1ZM406.6 264.8 407.6 265.3 410 265.3 410.7 265.1 411.2 264.4 412.1 260.2 412 259.3 411.3 258.8 408.1 257.9 406.9 258.2 405.6 259.6 405.3 260.1 404.9 261.5 405 262.5ZM414.9 259 414 259.1 413.4 259.9 412.3 265 412.6 266.2 414 267.4 414.8 267.7 415.6 267.4 418.9 264.6 419.3 263.8 419 263 416.5 259.7 415.9 259.3ZM418.2 258.2 417.8 259 418.1 259.8 420.6 263 421.4 263.4 422.7 263.6 423.5 263.4 424 262.9 424.8 260.9 424.7 259.7 422.2 256.2 421.3 255.7 420.4 256ZM425 263.6 425.1 264.8 425.2 264.9 426 265.4 431.6 266 432.3 265.8 434.7 264.3 435.2 263.2 434.9 259.8 434.3 258.9 431.9 257.4 431.2 257.2 430.5 257.5 426.5 260.4 426.2 260.9ZM437 264.2 437.9 264.4 440.9 263.7 441.8 262.7 442.6 257.9 442.4 257.1 441.7 256.6 441.1 256.4 440.3 256.6 436.7 258.8 436.1 259.9 436.4 263.3 437 264.2ZM445.3 264.4 446.3 264.3 446.9 263.5 447.9 258.1 447.6 257 446.6 256.7 444.9 256.8 444.2 257.1 443.9 257.8 443 262.5 443.2 263.4 443.8 263.9ZM447.9 264.4 448 265.2 448.6 265.7 450.8 266.7 452 266.5 455.5 263.8 455.9 263.1 455.8 262.3 453.9 258.2 453.3 257.6 452.3 257.1 451.7 257 450.2 257.2 449.5 257.5 449.1 258.1ZM460.1 255.2 459.1 255.3 455.9 257 455.3 257.7 455.4 258.6 457.2 262.5 457.8 263.1 459.8 263.9 460.7 263.9 461.3 263.5 464.5 258.7 464.6 257.7 464 256.9ZM462.6 263.7 462.4 264.5 462.7 265.2 463.4 265.6 467.1 266.1 468.1 265.9 472 262.5 472.4 261.9 472.3 261.2 471.3 258.2 470.5 257.4 469.1 257.1 468.5 257.1 466.9 257.6 466.3 258.1ZM474.1 257.1 473.3 257.2 472.8 257.8 472.7 258.6 473.7 261.5 474.1 262 476.4 264 477.1 264.2 479.8 264.3 481 263.7 482.7 260.2 482.7 259.1 481.9 258.5ZM486.1 259.4 485.1 259.1 484.3 259.8 482.1 264.2 481.9 264.8 482.2 265.5 483 266.4 483.7 266.8 484.5 266.7 489.2 264 489.9 263 489.4 262ZM487.5 256.5 486.8 257 486.7 257.9 487.1 258.6 491.1 261.8 492.1 262 492.9 261.2 494.4 257 494.4 256.1 493.7 255.5 493.2 255.3 492.5 255.2ZM497.7 256.1 496.6 255.9 495.8 256.6 494.1 261.4 494.2 262.3 494.8 262.9 498.5 264.6 499.8 264.5 500.9 263.5 501.3 262.4 500.6 258.6 500.1 257.8ZM508.3 255.9 507.7 255.6 506.9 255.7 502.5 257.7 502 258.3 501.9 259 502.5 262 502.8 262.6 503.4 262.9 506.6 263.5 507.3 263.4 507.8 262.9 510 258.9 510.1 258.1 509.8 257.5ZM509.1 263.1 509.1 264.2 510 264.8 514.5 265.4 515.5 265.1 515.9 264.2 516.1 259.8 515.6 258.8 515.4 258.6 514.6 258.4 512.2 258.5 511.2 259.2ZM517 265.1 517.3 266 518.2 266.4 523 266.7 523.9 266.3 524.2 265.4 523.7 260.9 523.4 260.2 522.6 259.9 518.5 259.6 517.6 259.9 517.2 260.7ZM531.1 266.4 532 266.2 532.1 266.1 532.5 265.3 533.6 258.9 533.4 258.1 532.8 257.6 531.9 257.3 531.4 257.3 526.6 258 525.9 258.4 525.1 259.2 524.9 260.1 525.4 264.8 525.7 265.5 526.4 265.8ZM537 258.2 536.4 257.7 535.7 257.7 535.7 257.7 534.8 258.7 533.9 264.5 534.1 265.4 534.8 265.9 535.3 266 535.8 266 540 265.1 540.7 264.7 541 264 540.7 263.2ZM539 255.9 538.3 256.2 538 257 538.2 257.8 543.1 264.4 543.5 264.8 543.6 264.8 544.9 264.7 546.5 263.5 546.9 262.8 547.4 260.1 547.4 259.9 547.4 257.3 546.8 256.3 545 255.2 544.2 255ZM358.3 271.8 359.2 272.2 360 271.9 364 268.2 364.4 267.3 364 266.5 363.2 266.1 358.7 266 357.8 266.4 356.4 267.8 356.1 269.1 356.4 269.7 356.6 270.1ZM360.7 272.9 360.4 273.6 360.5 274.4 361.2 274.9 365 276 365.7 276 366.3 275.6 369.5 271.2 369.7 270.4 369.4 267.4 369 266.6 368.2 266.3 367.4 266.7ZM372 265.8 371.6 265.9 371.4 266 370.8 266.5 370.6 267.2 370.9 270.2 371.4 271 376.1 274.5 377.1 274.7 379.2 274.2 379.9 273.7 380.1 272.9 379.2 266.8 378.8 266 378 265.7ZM381.2 272.2 381.8 273.1 382.9 273.1 386.3 271.4 386.9 270.7 386.8 269.8 385.2 266.4 384.3 265.7 381.8 265.2 380.8 265.5 380.4 266.5ZM388.3 270.2 389.1 270.8 389.9 271 390.6 271 391.2 270.6 394.4 266.5 394.6 265.4 393.9 264.6 391.1 263.3 390 263.3 387.1 265 386.5 265.7 386.6 266.6ZM392 271.5 391.8 272.7 392.6 275 393.1 275.6 394.4 276.3 395.5 276.4 400.1 274.4 400.7 273.5 400.5 272.5 396.8 267.7 395.8 267.3 394.9 267.8ZM398 264.8 397.2 265.6 397.5 266.7 402 272.5 402.8 272.9 403.6 272.8 404.1 272.1 405.8 266.5 405.6 265.5 404.3 263.6 403.7 263.1 402.9 263.1ZM405.2 272.7 405.3 273.7 406.3 274.2 411.3 274.5 411.8 274.4 413.3 273.9 413.9 273.4 414.1 272.8 414.2 269.7 413.8 268.7 411.5 266.8 410.8 266.5 408 266.5 407.3 266.7 406.8 267.3ZM415.8 268.8 415.4 269.7 415.3 273 415.9 274 417.9 275.3 418.6 275.4 419.3 275.2 423.6 271.8 424 271 424.5 266.5 424.3 265.7 424 265.3 423.1 264.8 421.3 264.6 420.4 264.9ZM426.9 266.7 426 266.9 425.6 267.8 425.3 270.8 425.8 271.9 427.8 273.2 429.2 273.2 431.3 271.8 431.8 270.7 431.6 268.2 431.3 267.5 430.6 267.1ZM433.3 266.6 432.8 267.7 433 270.8 433.5 271.7 436.2 273.6 436.9 273.8 437.5 273.6 439 272.5 439.5 271.8 439.5 271 437 265.9 436.6 265.4 436.6 265.3 435.3 265.4ZM440.8 271 441.4 271.6 442.2 271.6 442.9 271.1 445.4 267.2 445.5 266.2 444.7 265.5 442.5 264.7 441.8 264.7 439.6 265.2 438.8 265.8 438.8 266.9ZM449.8 274.7 450.2 274.6 451 274.3 451.7 273.8 451.8 273 451.1 268.8 450.4 267.9 448.3 266.9 447.4 266.8 446.8 267.3 444 271.6 443.8 272.4 444.1 273.1 445.2 274.2 446 274.6ZM453 272.4 453.6 273.2 454.6 273.3 459.7 270.9 460.4 270 460.8 266.5 460.6 265.8 460 265.3 457.7 264.3 456.5 264.5 452.8 267.5 452.3 268.6ZM463.2 266.8 462.3 267 461.8 267.8 461.5 270.3 461.8 271.3 463.7 273.4 464.3 273.8 465.1 273.8 468.1 272.5 468.7 271.8 468.7 270.9 467.6 268.1 466.7 267.3ZM472 272.4 472.9 272.3 473.5 271.6 475.5 265.8 475.5 265.1 475.1 264.5 474.1 263.6 473.3 263.3 472.5 263.6 469.2 266.5 468.8 267.1 468.8 267.8 470.1 271.3 470.9 272ZM483 268.4 482.8 268 481 266 480.2 265.5 477.8 265.5 477.1 265.7 476.6 266.3 475 270.9 475.1 271.9 476 272.4 482.2 273.6 483.1 273.4 483.6 273.1 484 272.5 484 271.7ZM491.2 266.3 490.9 265.6 490.2 265.1 489.4 265.3 485 267.7 484.5 268.3 484.5 269.1 485.3 271.8 486 272.6 488 273.2 489 273.2 490.4 272.4 491.1 271.4ZM494.1 263.9 493.4 263.8 492.7 264.2 492.4 265 492.3 270.7 492.7 271.5 493.5 271.9 497 271.9 497.8 271.6 498.2 270.8 498.6 266.9 498.4 266.2 497.9 265.7ZM507.7 265.9 507.4 265.1 506.7 264.7 502.8 264.1 501.9 264.3 500.3 265.6 499.8 266.5 499.4 271.1 500 272.2 503.6 274.2 504.6 274.3 507 273.5 507.6 273.1 507.8 272.4ZM509 272 509.5 272.9 510.5 273.2 513.7 272.4 514.5 271.6 515.8 268.2 515.7 267.1 514.8 266.6 510.2 266.1 509.3 266.4 508.9 267.3ZM515.8 271.5 515.9 272.4 516.4 273 518.8 274.3 519.6 274.5 522.1 273.9 522.8 273.5 523.1 272.8 523.3 269.1 523 268.3 522.2 267.9 518.2 267.6 517.5 267.8 517 268.4ZM524.3 273.1 524.5 273.9 525.2 274.3 526 274.2 530.9 271.9 531.5 271.4 531.6 270.7 531.4 268.6 531 267.9 530.3 267.5 525.9 267 525 267.2 524.6 268.1ZM534 266.9 532.9 267.2 532.5 268.3 532.9 271.2 533.2 271.9 533.5 272.2 534.5 272.6 536.4 272.5 537.1 272.2 537.5 271.4 537.3 270.6 535.5 267.6 534.7 267.1ZM543.2 271.1 543.7 270.2 543.7 267.1 543.3 266.1 542.3 265.9 538.2 266.7 537.4 267.5 537.4 268.6 539.6 272 540.3 272.5 540.5 272.6 541.5 272.4ZM547.4 266.7 547.1 265.9 546.3 265.6 545.5 265.8 545.4 265.9 544.9 266.8 544.9 270.1 545.5 271.1 545.6 271.2 546.4 271.3 547.1 270.9 547.4 270.1ZM355.6 276.3 356 277.3 357 277.5 357.8 277 358.8 275.5 358.9 274.4 358.7 274.1 358.5 273.7 357.7 272.9 356.8 272.5 356 272.9 355.6 273.7ZM356.8 280.9 356.6 281.7 357 282.4 357.7 282.7 364.3 283.2 365.2 282.9 366.3 281.8 366.7 280.6 365.8 278.1 365 277.3 360.9 276 360.1 276.1 359.5 276.5ZM367.1 276.6 366.9 277.7 367.9 280.4 368.6 281.2 370.1 281.7 370.8 281.7 372.9 281.2 373.7 280.5 375.3 276.6 375.4 275.8 374.9 275.1 371.5 272.6 370.6 272.4 369.8 272.8ZM377.4 275.9 376.6 276.6 375 280.4 375 281.2 375.4 281.9 378.2 283.8 379 284 379.7 283.7 382.8 280.7 383.2 280 383.1 279.2 381.2 275.9 380.6 275.3 379.9 275.3ZM384.4 279.2 385.1 279.8 385.2 279.8 386.2 279.6 390.8 276.1 391.3 275.5 391.3 274.7 390.7 273 389.8 272.3 388.6 271.9 387.8 272 383.1 274.3 382.5 275 382.6 275.9ZM391.8 283.8 392.7 283.8 393.3 283.2 394.5 280.7 394.6 280 394.4 278.2 393.8 277.3 393 276.9 391.7 277 387.6 280 387.1 280.8 387.3 281.7 387.4 281.7 387.9 282.1ZM403.8 275.9 403.6 275.2 402.9 274.7 402.1 274.8 396.4 277.3 395.8 277.8 395.6 278.5 395.8 279.4 396.5 280.3 400.3 282 401.1 282.1 401.7 281.6 403.4 279.1 403.7 278.5ZM404.9 278.3 405.2 279.2 408.3 282.6 409 282.9 409.7 282.9 409.8 282.8 410.5 281.8 410.9 276.9 410.6 276 409.8 275.6 406.2 275.4 405.4 275.8 405 276.6ZM412.9 275.3 412.2 276.3 411.7 281.7 411.9 282.4 412.5 282.9 414.9 283.9 416.2 283.6 418.9 280.8 419.2 279.6 418.3 277.2 417.8 276.6 415.1 275 414.1 274.9ZM425.3 273 424.6 272.8 423.9 273.1 420.1 276.1 419.7 276.7 419.7 277.4 420.4 279.6 421 280.2 421.8 280.7 422.7 280.7 427.8 279.1 428.5 278.6 428.6 277.7 428.1 275.2 427.6 274.5ZM429.9 274.2 429.4 274.7 429.3 275.4 429.9 278.2 430.6 279 433.1 280.3 434.1 280.4 434.8 279.6 435.9 275.8 435.9 275.1 435.4 274.5 433.2 272.9 432.5 272.7 431.8 272.9ZM435.9 280.2 435.9 281 436.4 281.6 438 282.6 438.8 282.8 441.4 282.5 442.4 281.7 444.4 276 444.1 274.8 442.7 273.3 442 273 441.3 272.9 440.4 273.1 437.7 274.9 437.2 275.5ZM443.7 281.8 443.7 282.6 444.2 283.2 445.1 283.8 446.1 283.9 447.7 283.3 448.4 282.4 449.2 277.2 448.9 276.2 448 275.8 446.6 275.8 445.9 276 445.4 276.6ZM449.7 281.8 450 282.7 450.8 283.2 454.7 283.7 455.5 283.6 456 282.9 456.3 282.2 456.2 281.2 453.2 275.9 452.6 275.3 451.8 275.3 451.3 275.5 450.5 276.5ZM456.9 280 457.5 280.5 458.4 280.5 462.5 278.8 463.3 277.8 463.4 275.5 463.2 274.7 461.3 272.5 460.6 272.1 459.9 272.2 455.2 274.3 454.6 275 454.7 276ZM472.4 274.6 472.2 273.9 471.6 273.5 470.3 273.1 469.5 273.2 465.3 274.9 464.6 276 464.5 278.1 464.9 279.1 466.4 280.3 467.5 280.6 471.6 279.7 472.3 279.2 472.6 278.5ZM475 273.5 474 273.8 473.6 274.7 473.8 279.1 474.3 280 476.9 282.1 477.6 282.3 477.7 282.3 478.8 281.6 481.3 276.2 481.3 275.1 480.5 274.5ZM480.1 281.5 480.1 282.4 480.6 283.1 481.4 283.2 488.5 282 489.3 281.4 489.4 280.5 488.2 275.2 487.4 274.3 485.7 273.7 484.6 273.8 483.6 274.5 483.2 275ZM490.1 274 489.5 274.5 489.4 275.3 490.9 281.5 491.3 282.1 491.5 282.3 492.7 282.6 494 282.1 494.7 281.3 496.6 274.6 496.4 273.6 495.5 273.1 492.1 273.1 491.6 273.2ZM496.3 280.4 496.4 281.4 497.3 281.9 498.4 282 499 281.8 501.8 280.3 502.4 279.5 503.2 276.3 503.1 275.6 502.6 275 499.7 273.5 498.7 273.4 498 274.2ZM505.6 283.1 506.3 283.6 507.2 283.4 510.6 281.6 511.2 280.9 511.1 280.1 509.2 275.2 508.6 274.6 507.7 274.6 505.2 275.4 504.4 276.3 503.6 279.8 503.8 280.8ZM512.7 280.6 513.1 281.1 514.1 281.7 515.2 281.8 516.1 281.5 516.9 280.7 518.1 276.4 518.1 275.6 517.5 275 515.1 273.6 514.2 273.5 511.5 274.1 510.7 274.8 510.7 275.8ZM518.2 280.4 518.3 281.2 518.9 281.8 522.4 283.3 523.2 283.4 525.9 282.6 526.6 282 526.7 281 524.5 276 524.2 275.6 523.9 275.3 522.9 275 520.3 275.6 519.4 276.4ZM528.2 281.7 528.9 282.3 529.9 282.3 531.7 281.4 532.3 280.4 533 274.3 532.8 273.5 532.1 273 531.3 273.1 526.7 275.2 526.1 275.8 526.2 276.7ZM540.3 274.9 540 273.9 539.1 273.5 535.3 273.8 534.5 274.1 534.1 274.8 533.6 279.6 533.9 280.5 534.8 280.9 538.3 281 539.1 280.7 539.5 280ZM541.4 282.2 542.6 282.4 546.1 281.2 546.9 280.2 547.4 277 547.4 276.8 547.4 274.3 546.8 273.3 545 272.2 543.7 272.3 542.1 273.4 541.6 274.2 540.6 280.7 541 281.8ZM362.4 291.8 363.2 291.5 363.6 290.7 364.2 285.6 364 284.7 363.1 284.3 357.9 283.9 356.9 284.3 356.6 285.3 357.4 290 358.1 291 359.9 291.7 360.3 291.8ZM368.4 282.4 367.2 282.6 366 283.8 365.6 284.6 364.7 291.4 365.3 292.5 365.7 292.8 366.8 292.9 370.3 291.3 370.8 290.8 370.9 290.1 370 283.6 369.2 282.6ZM372.1 289.4 372.5 290.2 373.5 290.4 377.8 289.6 378.5 289.1 378.8 288.3 378.6 286 378.1 285.2 374.2 282.5 373.2 282.3 372.1 282.6 371.4 283.1 371.2 283.9ZM385.7 281.5 384.9 281 383.9 281.3 380.1 285 379.8 285.9 380.1 289.1 380.4 289.9 381.1 290.5 382.2 290.8 384.5 290.2 385.4 289.3 386.4 283.1 386.3 282.2ZM386.6 288.9 386.8 289.8 387.6 290.3 390 290.9 390.5 290.9 392.7 290.5 393.5 289.9 393.6 289 392.8 286 392.1 285.3 389 283.9 388 284 387.4 284.8ZM394.6 288 395.2 288.7 396.1 288.8 400 287.8 400.6 287.3 400.8 286.6 400.8 284.3 400.1 283.3 396.7 281.7 395.7 281.7 395.1 282.3 394 284.7 393.9 285.5ZM403 288.1 403.9 288.2 406 287.7 406.8 287 407.8 284.7 407.5 283.5 405.3 281.1 404.3 280.7 403.4 281.2 402.2 283 402 283.7 402.1 286.9 402.7 287.9ZM415.1 286.2 414.9 285.4 414.3 284.9 411.5 283.8 410.6 283.8 409.7 284.2 409 284.8 408.2 286.9 408.2 287.7 408.7 288.4 410.4 289.5 411.7 289.5 414.5 287.7 415 286.8ZM421.9 282.4 421.4 281.8 421 281.6 420.3 281.5 419.6 281.8 416.7 284.8 416.4 285.5 416.2 286.9 416.6 287.9 419.7 290.9 420.6 291.2 421.4 290.9 423.7 288.4 423.9 287.1ZM424.3 281.5 423.5 282.1 423.5 283.1 425.1 286.8 426 287.5 427.8 287.9 429 287.4 432.3 282.8 432.5 281.8 431.9 281 429.9 280.1 429 280ZM430.3 287.7 430.1 288.6 430.6 289.4 433.6 291.3 434.3 291.5 434.9 291.3 436.8 289.9 437.3 289 437.6 284.5 437 283.4 435.5 282.4 434.6 282.2 433.8 282.7ZM442.9 283.8 442.1 283.6 439.8 283.9 439.1 284.3 438.7 285 438.5 288.9 439 289.9 442.2 292 443.1 292.2 443.8 291.7 445.4 289.5 445.6 288.6 445.1 285.7 444.5 284.9ZM451.9 290.3 452.8 290.2 453.4 289.5 454.4 286.3 454.3 285.3 453.4 284.8 449.3 284.2 448.7 284.2 447.1 284.8 446.5 285.3 446.4 286.1 446.7 288.1 447.6 289ZM457.6 285.5 456.5 285.3 455.7 286.1 454.8 289.1 454.9 289.9 455.5 290.5 459.2 292.1 460 292.2 460.6 291.8 461.9 290.3 462.1 289.3 461.6 288.5ZM464.3 280.1 463.1 279.9 458.1 281.9 457.4 282.6 457.3 282.8 457.3 283.5 457.8 284.2 463.3 288.2 464.2 288.5 464.7 288.4 465.4 288 465.7 287.3 466.1 282.2 465.6 281.2ZM469.8 290.5 470.7 290.7 471.5 290.2 475.6 284 475.8 283.1 475.3 282.4 473.5 280.9 472.5 280.7 468.2 281.7 467.5 282 467.2 282.7 466.9 287.8 467.4 288.8ZM473.3 289.6 473.1 290.6 473.8 291.4 479.1 293.7 480 293.7 480.7 293.1 481.8 290.5 481.9 289.6 480 284.7 479.6 284.2 479 283.7 478.2 283.5 478 283.5 477 284ZM482.8 288.6 483.2 289.2 484 289.4 490.1 289.2 490.9 288.9 491.3 288 491.3 284.3 490.9 283.4 490.7 283.3 489.7 283 482.6 284.2 481.8 284.8 481.7 285.8ZM492.5 288.3 493 289.3 496.3 291.8 497.4 292 499.4 291.3 500.1 290.7 500.2 289.9 498.6 284 498.2 283.4 497.5 283.1 495.4 283 494.9 283 493.3 283.7 492.7 284.1 492.5 284.8ZM500.4 282.5 499.9 283 499.8 283.8 501.4 289.7 502.1 290.5 503.1 290.4 504.8 289.6 505.5 288.5 505.5 285.3 505.2 284.6 503.3 282 502.6 281.6 501.8 281.7ZM506.7 288.3 506.9 289 507.5 289.5 510 290.3 511.2 290.2 513.1 288.7 513.5 287.8 513.9 283.8 513.3 282.7 512.9 282.4 511.7 282.4 507.3 284.7 506.7 285.8ZM515.8 282.9 515.1 283.9 514.8 287.2 515 288 515.7 288.5 518.3 289.2 519.1 289.2 519.7 288.6 521.3 285.6 521.4 284.6 520.7 283.9 517.6 282.6 516.7 282.5ZM528.8 284.5 528.3 283.6 527.3 283.5 523.6 284.5 522.9 285.1 520.5 289.7 520.6 290.8 521.3 292.1 522.5 292.7 524.6 292.5 525.1 292.3 528.9 289.8 529.4 288.6ZM532.9 291.2 533.8 291.5 534.6 291 539.8 284.1 540.1 283.3 539.7 282.5 538.9 282.2 533.3 282.1 532.7 282.2 530.7 283.2 530.1 283.8 530 284.5 530.7 288.9 531.1 289.7ZM538.4 292 539.3 291.6 542.4 288.1 542.7 286.9 542.3 285.9 541.8 285.3 540.9 285.1 540.2 285.6 536.9 290 536.6 290.8 537 291.6 537.8 291.9ZM547.4 283.7 546.9 282.7 545.8 282.5 543.9 283.2 543.2 283.8 543.2 284.8 544 287.1 544.4 287.6 545.4 288.5 546.3 288.7 547.1 288.4 547.4 287.5ZM355.6 299.5 355.9 300.3 356.7 300.7 357.5 300.5 358 299.8 359.1 293.7 359 292.9 358.4 292.4 357.5 292 356.5 292.1 356.2 292.3 355.6 293.3ZM365.7 294.7 365.2 293.9 364.1 293.2 363.5 293 361.5 293 360.7 293.3 360.3 294 359.1 300.3 359.3 301.2 360.1 301.7 362.3 302 363.1 301.9 363.6 301.3 365.7 296 365.8 295.3ZM367.8 293.8 367.2 294.4 367.1 295.2 367.6 295.8 372.1 299.3 373.2 299.5 373.6 299.4 374.3 298.7 374.3 297.7 372 293.1 371.3 292.5 370.4 292.6ZM375.9 298.1 376.8 298.8 377 298.8 378.1 298.4 380.4 295.6 380.6 294.9 380.8 292.4 380.4 291.5 379.8 290.9 378.7 290.6 374.2 291.5 373.4 292.1 373.4 293.2ZM382.9 291.9 382.2 292.3 382 293 381.9 294.6 382.4 295.6 385.8 298.1 386.8 298.2 387.6 297.5 389 293.2 389 292.3 388.2 291.7 386 291.2 385.5 291.2ZM388.6 298.3 388.7 299.4 389.6 299.9 391.1 300 392.1 299.6 394.6 296.6 394.8 295.4 393.8 292.5 393.3 291.9 392.5 291.7 391.4 291.9 390.5 292.7ZM395.6 290.2 394.9 290.8 394.8 291.7 396.1 295.3 396.7 296 399.9 297.6 401.2 297.6 402.9 296.4 403.4 295.3 402.8 290 402.2 289 401.8 288.8 400.9 288.7ZM407.7 296.5 408.5 296.4 410.1 295.7 410.6 295.2 410.7 294.5 410.5 291.5 410 290.6 407.4 289 406.5 288.8 405 289.2 404.3 289.7 404.1 290.5 404.5 294.9 404.8 295.6 405.4 296ZM419 295.7 419.8 294.7 419.9 293.4 419.6 292.4 416.1 289.2 415.4 288.8 414.7 289 412.3 290.5 411.7 291.6 412 294.6 412.7 295.6 415.1 296.7 416 296.8ZM428.2 290.5 428.1 289.5 427.3 289 425.8 288.7 424.7 289.1 421.5 292.5 421.1 293.3 421 295 421.5 296 424.2 298.3 425.1 298.5 425.5 298.5 426.1 298.2 426.5 297.6ZM430.4 299 431.3 298.9 433 297.8 433.6 296.8 433.7 293.5 433.1 292.4 431 291.1 429.9 291 429.2 291.8 427.8 297.2 427.9 298.1 428.7 298.7ZM435.4 292.4 434.9 293.4 434.8 296.4 435 297.2 435.7 297.6 440.2 298.8 441 298.7 442.4 298 442.9 297.6 443 296.9 442.8 294.4 442.3 293.5 438.5 291.1 437.8 290.9 437.2 291.1ZM447.4 290.2 446.7 290.2 446.1 290.6 444.2 293.2 444 294.1 444.2 296.9 445 297.9 447.4 298.8 448 298.9 450.2 298.5 450.9 298.2 451.2 297.5 452 292.7 451.8 291.9 451.2 291.4ZM454.9 291.6 453.8 291.6 453.2 292.5 452.4 297.8 452.5 298.5 453 299 454 299.6 455.1 299.7 459.1 298.1 459.6 297.6 459.8 296.9 459.7 294.3 458.9 293.3ZM461 296.1 461.3 296.9 462.1 297.3 463 297 468 292.5 468.4 291.6 467.9 290.7 466.5 289.7 465.6 289.4 464.3 289.7 463.6 290.1 461.1 293 460.9 293.8ZM470 295 469.6 294.2 468.8 293.9 468 294.2 463.7 297.9 463.3 298.8 463.6 299.7 464.1 300.1 465.1 300.5 468.6 300 469.3 299.7 469.8 299.2 470.2 298.3ZM472.8 292.3 472 292.2 471.3 292.7 471.1 293.4 471.4 297.9 472.2 299 475.6 300.2 476.3 300.3 476.9 299.9 479.6 296.9 479.8 295.9 479.2 295ZM481.3 295.5 481.8 296.2 484.9 297.9 485.8 298 486.5 297.3 488.9 292.2 489 291.4 488.6 290.7 487.8 290.5 483.8 290.6 482.8 291.3 481.3 294.6 481.2 295.4ZM492.7 290.5 491.6 290.3 490.8 291 488.1 296.8 488.1 298 489.1 298.5 494 298.9 494.8 298.6 495.3 297.9 495.9 293.8 495.5 292.7ZM496.4 298.5 496.5 299.2 496.9 299.7 499.7 301.4 500.9 301.5 503.6 300.1 504.2 299.5 504.3 298.7 502.4 292.9 501.8 292.1 500.9 292.1 497.9 293.1 497.1 294ZM510.4 292.3 509.7 291.5 506.6 290.4 505.6 290.5 504.2 291.2 503.6 291.8 503.6 292.7 505.6 298.8 506.5 299.6 508.3 300 509.1 299.9 511.2 298.8 511.8 298.2 511.8 297.4ZM513.1 297.4 513.6 298.2 514.5 298.3 518.2 297.4 518.9 296.8 520.4 294 520.3 292.9 519.4 291.2 518.7 290.6 514.8 289.5 513.7 289.7 512.1 291 511.7 292.2ZM525 294.6 524.5 294 523.8 293.8 522.4 293.9 521.4 294.6 520.2 296.8 520.1 297.6 520.5 298.3 522.7 300.4 523.5 300.8 524.3 300.5 525.9 299.1 526.3 298.5 526.2 297.8ZM530.8 291 530.1 290.7 529.4 290.9 526.6 292.8 526.1 293.4 526.2 294.2 527.4 297.4 527.8 297.9 528.5 298.2 530.3 298.2 530.9 298.1 532.2 297.4 532.9 296.4 532.9 293.4 532.5 292.5ZM535.4 293 534.5 293.4 534.1 294.2 534.1 296.8 534.4 297.6 537 300.4 538 300.8 542.8 300.3 543.5 299.9 543.8 299.1 543.5 298.3 539.2 293.6 538.4 293.2ZM544.1 297.1 544.9 297.5 545.8 297.2 546.2 296.4 546.3 291.4 545.9 290.4 544.5 289.3 543.7 289 542.9 289.4 540.7 291.8 540.4 292.6 540.7 293.4ZM363.6 303.9 362.7 303.3 358.5 302.6 357.9 302.7 356.5 303.1 355.8 303.6 355.6 304.3 355.6 307.4 355.9 308.2 357.5 309.8 358.1 310.2 358.9 310.1 364.1 307.3 364.7 306.5 364.6 305.6ZM367.3 306.9 367.9 307 368.2 307 368.9 306.8 369.3 306.3 371.4 301.4 371.5 300.6 371 300 368 297.6 366.9 297.4 366.1 298.2 364.5 302.2 364.6 303.3 366.4 306.2 366.8 306.6ZM373.5 300.6 372.8 301.3 370.6 306.4 370.6 307.3 371.1 307.9 372.5 308.7 373.5 308.8 378.5 307 379.2 306.4 379.2 305.5 377.7 300.8 376.7 300 376.1 299.9 375.6 300ZM380.4 305.4 381 306.1 381.9 306.1 384 305.5 384.7 304.9 386.5 301.3 386.6 300.5 386.1 299.8 382.2 297 381.4 296.8 380.6 297.2 379 299.2 378.8 300.3ZM386.2 304.6 386.1 305.5 386.7 306.2 389.7 308 390.9 308 393.1 306.7 393.6 306 393.6 305.1 391.9 301.9 390.9 301.2 388.8 301 388.1 301.2 387.6 301.7ZM396.7 297.4 396 297.3 395.3 297.7 393.2 300.1 393.1 301.4 395 305.3 395.8 306 398.2 306.4 399.1 306.2 399.8 305.7 400.3 304.7 400.1 299.7 399.4 298.7ZM401.5 304.3 401.8 305 402.5 305.4 404.6 305.9 405 305.9 406.7 305.7 407.4 305.3 407.7 304.5 407.6 298.6 407.3 297.9 406.7 297.5 404.7 297 403.7 297.2 401.8 298.6 401.3 299.6ZM411.7 306.9 412.8 306.8 413.4 306 414.7 298.9 414.6 298.1 414 297.6 411.9 296.6 410.9 296.6 409.5 297.3 408.8 298.4 409 305 409.7 306.1ZM420.8 297 419.6 296.8 416.7 297.8 415.9 298.7 414.6 306.2 414.7 307 415.5 307.5 418.1 308.2 418.8 308.2 420.8 307.6 421.6 306.8 423.5 300.2 423.1 298.9ZM423.2 305.6 423.4 306.7 424.5 307.1 430.5 306.5 431.3 306 431.5 305.1 430.7 301.1 429.8 300.1 426.9 299.5 426.5 299.5 425.6 299.7 424.7 300.5ZM433 306.3 433.3 306.8 434 307.6 435.1 308 437.7 307.6 438.4 307.3 438.7 306.7 439.8 301.1 439.6 300.3 438.9 299.7 434.8 298.6 433.8 298.7 432.4 299.6 431.9 300.2 431.9 300.9ZM439.9 307 440.4 308.2 441 308.7 442.2 308.8 445.5 307.4 446.2 306.4 446.9 300.9 446.7 300.1 446.1 299.6 444.3 298.9 443.3 298.9 441.7 299.7 441.1 300.6ZM454.3 308.3 454.9 307.8 455 306.9 454 301.5 453.5 300.7 451.9 299.8 451.1 299.6 449.1 299.9 448.4 300.3 448.1 301 447.4 306.4 447.6 307.1 448.1 307.6 450.8 309.1 451.8 309.2ZM456.3 307.1 456.7 307.8 457.4 308.1 461.8 308.2 462.6 307.9 463 307.1 463.6 302 463.2 301 461.7 299.4 461.3 299.1 460.9 299 460 299 456.1 300.6 455.5 301.1 455.3 301.9ZM464.2 307.1 464.5 308.1 465.5 308.4 468.8 308.2 469.7 307.8 469.9 306.8 469 302.3 468.5 301.6 467.7 301.3 465.7 301.6 465 302 464.7 302.7ZM471.7 300 470.5 300.3 470.4 300.3 470.1 301.4 471.3 307.6 472 308.5 472.1 308.5 473.3 308.4 475.9 306.4 476.4 305.3 476 302.4 475.3 301.4ZM485.3 300.3 484.7 299.2 481.8 297.6 481.1 297.5 480.4 297.8 477.5 301 477.2 301.9 477.5 305 478.4 306.1 479.1 306.3 479.6 306.3 484.1 305.6 484.8 305.2 485.1 304.5ZM486.3 304.5 486.6 305.4 487.5 305.8 491.3 305.7 492.3 305 493.9 301.7 493.9 300.6 492.9 300 487.8 299.7 486.9 300 486.5 300.8ZM499.5 308.1 500.1 307.6 500.2 306.8 499.8 303.4 499.2 302.5 497 301.2 496 301.1 495.3 301.7 493.4 305.6 493.4 306.8 494.8 308.9 495.4 309.4 496.2 309.4ZM508.1 302.3 507.8 301.4 507.1 301 505.8 300.7 505 300.8 501.7 302.4 501.2 302.9 501 303.7 501.5 307.3 502 308.1 503.5 309.2 504.3 309.4 506.6 309.1 507.3 308.7 507.7 308ZM513.7 300.5 513 299.7 512 299.7 510 300.8 509.3 301.8 508.8 308.4 509.4 309.6 510.8 310.3 512 310.3 515.1 308.5 515.6 307.9 515.6 307.1ZM516.9 307.1 517.8 307.9 518.3 308 519.1 307.8 522.7 305.5 523.2 305 523.3 304.3 523 302.7 522.6 302 519.4 298.9 518.3 298.6 515.9 299.2 515.1 299.8 515 300.7ZM529.6 300.9 529.4 299.8 528.4 299.4 527.9 299.3 527.1 299.6 524.6 301.8 524.2 302.9 524.5 304.4 525.2 305.3 526.3 305.8 527.2 305.8 527.8 305.6 528.5 304.8ZM531.8 299 531.1 299.8 530 303.8 530.2 304.9 531.1 305.4 532.7 305.4 533.2 305.3 534.6 304.7 535.2 304.1 536.1 302.3 536.2 301.7 535.9 301 534 298.9 533.3 298.5 532.5 298.6ZM538.2 302 537.2 302.7 536.4 304.4 536.5 305.5 539 309.7 539.7 310.3 540.6 310.1 543.2 308.5 543.8 307.4 543.5 302.7 543.1 301.9 542.2 301.6ZM547.4 301.2 547 300.3 546.2 300 545.3 300.3 545 300.7 544.7 301.6 545 307 545.4 307.8 546.2 308.1 547.1 307.8 547.4 306.9ZM359.3 311.2 358.6 312.3 358.7 312.9 359.3 313.9 361 314.8 361.8 314.9 364 314.4 364.9 313.6 366 310 366 309 365.3 308.5 364.3 308.5ZM366 314 366.3 315.1 368.1 317.2 368.8 317.6 369.6 317.4 372.2 315.8 372.7 314.7 372.4 310.6 371.8 309.7 369.5 308.4 368.9 308.2 368.8 308.2 368 308.5 367.6 309.1ZM374.4 309.8 373.8 310.2 373.6 311 373.9 314.8 374.4 315.7 376.2 316.9 377.1 317.1 381.2 316.3 382 315.7 382.2 314.8 380.5 308.9 379.9 308.2 379 308.1ZM382.5 307.2 381.8 307.8 381.7 308.7 383.6 315.6 384.2 316.3 384.2 316.4 385.1 316.5 388.4 315.9 389.1 315.5 389.4 314.8 389.7 310.1 389.1 309 385.3 306.8 384.4 306.6ZM398.1 308.6 397.9 307.8 397.1 307.4 395.4 307.1 394.6 307.2 391.5 309.1 390.9 310 390.6 315.2 391.2 316.3 392.2 316.8 393 317 397 316 397.6 315.6 397.9 314.9ZM399.1 314.7 399.4 315.6 400.3 316 402.9 315.9 403.7 315.6 404.1 314.7 404.2 308 403.9 307.2 403.2 306.8 401.6 306.4 400.7 306.6 399.9 307.1 399.4 308ZM408.6 306.9 408 306.8 406.4 307 405.7 307.4 405.4 308.2 405.3 315.2 405.5 315.9 406.1 316.4 407 316.7 407.8 316.8 408.4 316.3 409.8 314.5 410 314.2 411.6 309.4 411.6 308.5 411 307.9ZM411.6 313.2 411.6 314.1 412.3 314.7 416.6 316.4 417.4 316.5 418 316 418.2 315.3 417.9 310.3 417.7 309.6 417.1 309.2 414.4 308.5 413.5 308.6 412.9 309.3ZM422.3 309.2 421.7 308.8 421 308.8 420 309.1 419.4 309.6 419.1 310.3 419.5 316.1 419.8 316.9 420.6 317.2 424.4 317.4 425.5 316.9 426.2 315.7 426.4 315 426.2 314.3ZM427.2 313.7 428.4 314.2 430.9 313.8 431.8 313 433.2 309.6 433 308.3 432.7 308 431.7 307.6 425.4 308.3 424.6 308.6 424.3 309.4 424.6 310.2ZM441.5 315.9 441.9 314.7 441.1 310.6 440.6 309.8 439.3 308.9 438.4 308.7 435.3 309.2 434.4 309.9 432.9 313.5 433.1 314.7 434.3 316.3 434.8 316.7 438 317.7 439.1 317.6ZM447.2 308.5 446.1 308.4 443.1 309.7 442.5 310.3 442.4 311.1 443.2 314.7 443.9 315.5 445.9 316.3 447 316.1 448.3 315.2 448.7 314.7 450.1 311.3 450.1 310.4 449.5 309.8ZM455.8 310.7 455.3 309.7 454.2 309.6 452.2 310.3 451.5 311 450.4 313.8 450.4 314.7 451.1 315.3 454.5 316.4 455.6 316.2 456 315.2ZM458.2 309.3 457.4 309.6 457 310.5 457.2 315.2 457.6 316 458.3 316.4 462.2 317 463.2 316.7 463.6 315.7 463.3 310.5 462.9 309.7 462.1 309.4ZM464.9 316.5 465.2 317.3 466 317.6 467.1 317.7 467.8 317.5 472.3 314.6 472.9 313.4 472.4 310.6 471.6 309.6 471.1 309.4 470.5 309.3 465.6 309.6 464.8 310 464.5 310.9ZM479 308.1 478.2 307.2 477.8 307.1 476.7 307.3 474.1 309.3 473.6 310.4 474.1 313.7 474.6 314.4 478.3 317.1 479.4 317.3 480.3 317 480.9 316.4 481 315.5ZM485.6 307.8 485.1 307 484.2 306.8 481.4 307.2 480.5 307.8 480.4 308.7 482.3 315.5 482.7 316.1 483.4 316.4 485.2 316.4 486.1 316 486.4 315ZM491.4 315.9 492.1 315.7 492.6 315.2 494.2 311.1 494.1 310 492.4 307.5 491.4 306.9 488 307 487.2 307.4 486.9 308.3 487.6 314.7 487.9 315.4 488.7 315.7ZM498.2 316.2 499 316 501.8 314 502.2 313.4 502.8 311.2 502.8 310.4 502.4 309.9 501.5 309.2 500.3 309.1 496 310.7 495.3 311.4 494.3 314.2 494.3 315.2 495.2 315.8ZM508.4 310.3 507.6 310.2 505 310.5 504.3 310.8 504 311.4 503.5 313.5 503.7 314.5 505.6 317 506.5 317.5 507.4 317.1 510.6 313.9 510.9 312.9 510.9 312.3 510.3 311.4ZM512.2 313.1 512.4 313.7 515.1 317.2 515.7 317.6 516.5 317.6 520 316.4 520.7 315.7 520.7 314.8 518.7 309.9 517.8 309.1 517.1 309 516.3 309.2 512.7 311.3 512.1 312.5ZM524.7 306.4 523.6 306.4 520.5 308.4 519.9 309.1 520 309.9 522.3 315.4 522.9 316 523.8 316.4 524.7 316.4 527 315.4 527.6 314.8 527.7 314 526.3 307.6 525.7 306.8ZM528.4 306.6 527.8 307.2 527.6 308 528.8 313.3 529.2 314 530.1 314.2 531.2 314.1 532 313.7 532.3 313 532.4 307.8 532.1 306.9 531.3 306.6 529.2 306.5 528.7 306.5ZM535.9 306.9 535.1 306.3 534.1 306.6 533.6 307.5 533.5 313.1 533.7 313.9 534.4 314.3 536.2 314.8 537.1 314.7 537.6 314.1 538.4 312.2 538.4 311.1ZM545.6 310.2 544.9 309.5 543.8 309.6 540.2 311.8 539.7 312.3 539 313.9 539 314.8 539.7 315.5 545.5 317.7 546.8 317.5 547 317.3 547.4 316.4 547.4 315.6 547.3 315.2ZM355.9 317.1 355.6 317.9 355.6 318.3 355.8 318.9 358.4 323.3 359 323.8 360.4 324.3 361.2 324.3 361.8 323.8 362 323 360.9 316.6 360.2 315.8 359 315.1 358.3 315 357.6 315.4ZM363.1 315.8 362.4 316.3 362.2 317.2 363.2 323.2 363.6 323.9 364.4 324.2 365.2 323.9 366.4 322.8 366.8 322.3 367.7 319.6 367.5 318.4 365.4 316 364.2 315.6ZM374.1 323.7 375 323.5 375.5 322.6 375.8 318.8 375.3 317.8 374.1 316.9 372.7 316.9 369.5 319 369 319.6 368.4 321.2 368.5 322.2 369.3 322.8ZM376.6 323.6 376.9 324.5 377.8 324.9 381.9 324.9 382.7 324.6 383.1 323.8 383.7 318.6 383.4 317.6 382.3 317.3 377.9 318.2 377.3 318.6 377 319.3ZM391.7 323.9 392 323.2 391.9 318.7 391.3 317.7 390.2 317.1 389.4 317 385.9 317.6 385.3 318 384.9 318.6 384.3 323.6 384.6 324.5 385.5 324.9 390.4 324.9 391.3 324.5ZM398.7 318.1 398.2 317.3 397.2 317.2 394 317.9 393.4 318.4 393.1 319.1 393.2 322.6 393.4 323.2 393.9 323.7 396.9 324.8 397.3 324.9 398.6 324.9 399.5 324.5 399.8 323.5ZM408.3 322.7 408.6 321.5 407.8 318.8 407.1 318 404.8 317.2 404.3 317.1 401.2 317.1 400.2 317.6 400 318.6 401.1 323.9 401.5 324.6 402.2 324.9 405.4 324.9 406.2 324.6ZM414.4 323.4 415.3 323.4 415.9 322.8 417.4 319.4 417.4 318.5 416.8 317.8 411.5 315.7 410.7 315.7 410.1 316.1 409.1 317.4 408.9 318.5 409.8 321.3 410.6 322.1ZM420 318.4 419.3 318.6 418.9 319.1 417.3 322.5 417.3 323.4 417.9 324.1 419.3 324.8 419.9 324.9 423.1 324.9 423.5 324.8 425.2 324.3 425.8 323.7 425.9 322.8 425.1 319.5 424.8 318.9 424 318.6ZM428.4 324.4 429.3 324.4 430 323.8 433.1 317.8 433 316.5 432.1 315.4 431 315 428.3 315.4 427.5 315.9 426.3 317.8 426.2 318.7 427.3 323.3 427.9 324.1ZM437.1 324.9 438 324.5 438.3 323.6 438.1 319.8 437.9 319.2 437.3 318.8 435.4 318.1 434.6 318.2 434 318.7 431.7 323.2 431.6 324 432 324.6 432.8 324.9ZM439.5 323.8 439.9 324.6 440.7 324.9 443.6 324.9 444.5 324.5 446.8 321.8 447 320.7 446.3 318.2 445.6 317.5 443.5 316.6 442.3 316.8 439.8 318.5 439.3 319.6ZM454.9 318.9 454.8 318.1 454.1 317.5 449.8 316.2 448.7 316.4 448 316.9 447.5 317.5 447.5 318.3 448.2 320.5 448.9 321.2 452.5 322.7 453 322.8 453 322.8 453.7 322.6 454.1 321.9ZM457.7 317.5 456.8 317.6 456.3 318.4 455.3 322.4 455.7 323.6 456.9 324.6 458.1 324.8 461.4 323.6 462.1 322.9 463.2 319.8 463.1 318.8 462.3 318.2ZM467.6 319.4 466.8 318.9 465.8 318.8 465.1 319 464.6 319.6 463.4 323 463.6 324.3 463.9 324.5 464.7 324.9 468.5 324.9 469.4 324.5 469.8 324.1 470.2 323.4 469.9 322.6ZM476.6 321.4 477.2 320.7 477.7 319.3 477.8 318.5 477.3 317.9 474.3 315.7 473.6 315.5 472.9 315.7 469.6 317.8 469 318.6 469.2 319.6 471.3 322.5 472.1 323 472.5 323 473.2 322.9ZM485.3 318.7 484.9 317.9 484.1 317.6 482.4 317.6 481.9 317.7 479.8 318.5 479 319.2 478.3 321.1 478.4 322 479.4 324.2 480.5 324.9 484.3 324.9 485.1 324.5 485.5 323.7ZM487.8 316.9 486.8 317.2 486.5 318.1 486.7 323.7 487 324.6 487.9 324.9 492.4 324.9 493.4 324.4 493.6 323.4 492 317.9 491.6 317.3 490.9 317.1ZM494.7 316.9 493.9 317.1 493.4 317.7 493.4 318.5 494.9 323.5 495.6 324.3 496.5 324.3 500 322.7 500.7 322 500.6 321 498.7 317.9 497.8 317.3ZM503.2 315.9 502.5 315.4 501.6 315.6 500.5 316.4 500 317.1 500.2 318 502.2 321.4 503 322 504.1 322.2 505 321.9 505.5 321.1 505.7 319.7 505.5 318.8ZM507.2 319 506.9 319.7 506.8 320.6 507 321.4 507.7 321.9 511.5 322.8 512.3 322.7 513.5 322.1 514.1 321.3 514.6 319.3 514.4 318.3 512.4 315.7 511.5 315.2 510.6 315.6ZM518.3 324.6 519.2 324.9 522.2 324.6 523 324.2 523.3 323.4 523.6 318.5 523.4 317.8 522.8 317.3 522.4 317.1 521.6 317.1 516.6 318.9 515.8 319.7 515.4 321.3 515.8 322.5ZM524.5 323.6 524.8 324.5 525.7 324.9 527.8 324.9 528.5 324.7 529.9 323.7 530.4 323 530.3 322.2 528 317.5 527.3 316.9 526.4 316.9 525.5 317.3 524.8 318.4ZM530.1 315.4 529.1 316 529.1 317.2 531.6 322 532.6 322.7 534.7 322.8 535.6 322.5 536 321.7 536.5 317.1 536.3 316.3 535.6 315.8 533 315.2 532.6 315.2ZM539.3 316.6 538.2 316.7 537.6 317.6 537.1 322.6 537.6 323.7 539.1 324.7 539.8 324.9 542.7 324.9 543.4 324.6 545.1 323.2 545.5 322.3 545.7 319.9 545.5 319.2 544.9 318.8ZM448.6 324.9 449.5 324.4 449.7 323.4 449.1 322.6 448.9 322.5 448.1 322.5 447.5 322.8 447.4 322.9 447.2 323.8 447.5 324.6 448.4 324.9Z"/></g><polygon fill="#adadb2" points="360,199.6 375.5,199.6 391,199.6 406.5,199.6 422,199.6 437.5,199.6 453,199.6 468.5,199.6 470,199.6 484,198.3 499.5,197 515,195.6 530.5,194.2 546,192.8 546,202 530.5,203.4 515,204.8 499.5,206.2 484,207.5 470,208.8 468.5,208.8 453,208.8 437.5,208.8 422,208.8 406.5,208.8 391,208.8 375.5,208.8 360,208.8"/><polygon fill="#bdbdc0" points="546,192.8 557,191.8 568,190.8 579,189.8 590,188.9 601,187.9 612,186.9 623,185.9 634,184.9 645,183.9 656,183 667,182 678,181 678,187.5 667,188.5 656,189.5 645,190.4 634,191.4 623,192.4 612,193.4 601,194.4 590,195.4 579,196.3 568,197.3 557,198.3 546,199.3"/><polygon fill="#cfcccb" points="546,198.8 557,197.8 568,196.8 579,195.8 590,194.9 601,193.9 612,192.9 623,191.9 634,190.9 645,189.9 656,189 667,188 678,187 678,190.5 667,191.5 656,192.5 645,193.4 634,194.4 623,195.4 612,196.4 601,197.4 590,198.4 579,199.3 568,200.3 557,201.3 546,202.3"/><polygon fill="#fafafa" points="362,190 388.3,190 414.7,190 441,190 467.3,190 470,190 493.7,187.9 520,185.5 546.3,183.2 572.7,180.8 599,178.5 625.3,176.1 651.7,173.7 678,171.4 678,181.5 651.7,183.8 625.3,186.2 599,188.6 572.7,190.9 546.3,193.3 520,195.6 493.7,198 470,200.1 467.3,200.1 441,200.1 414.7,200.1 388.3,200.1 362,200.1"/><path fill="#808086" d="M362.5 190L375.3 190L375.3 200.1L362.5 200.1ZM378.1 190L390.9 190L390.9 200.1L378.1 200.1ZM393.6 190L406.4 190L406.4 200.1L393.6 200.1ZM409.2 190L422 190L422 200.1L409.2 200.1ZM424.7 190L437.5 190L437.5 200.1L424.7 200.1ZM440.3 190L453.1 190L453.1 200.1L440.3 200.1ZM455.8 190L468.6 190L468.6 200.1L455.8 200.1ZM471.4 189.9L484.2 188.7L484.2 198.8L471.4 200ZM486.9 188.5L499.7 187.3L499.7 197.4L486.9 198.6ZM502.5 187.1L515.3 186L515.3 196.1L502.5 197.2ZM518 185.7L530.8 184.6L530.8 194.7L518 195.8ZM533.6 184.3L546.4 183.2L546.4 193.3L533.6 194.4ZM549.1 182.9L561.9 181.8L561.9 191.9L549.1 193ZM564.6 181.5L577.4 180.4L577.4 190.5L564.6 191.6ZM580.2 180.1L593 179L593 189.1L580.2 190.2ZM595.7 178.7L608.5 177.6L608.5 187.7L595.7 188.8ZM611.3 177.4L624.1 176.2L624.1 186.3L611.3 187.5ZM626.8 176L639.6 174.8L639.6 184.9L626.8 186.1ZM642.4 174.6L655.2 173.4L655.2 183.5L642.4 184.7ZM657.9 173.2L670.7 172L670.7 182.1L657.9 183.3ZM673.5 171.8L678 171.4L678 181.5L673.5 181.9Z"/><path stroke="#55555c" stroke-width="1.2" d="M363.1 190V200.1M378.7 190V200.1M394.2 190V200.1M409.8 190V200.1M425.3 190V200.1M440.9 190V200.1M456.4 190V200.1M472 189.9V200M487.5 188.5V198.6M503.1 187.1V197.2M518.6 185.7V195.8M534.2 184.3V194.4M549.7 182.9V193M565.2 181.5V191.6M580.8 180.1V190.2M596.3 178.7V188.8M611.9 177.4V187.5M627.4 176V186.1M643 174.6V184.7M658.5 173.2V183.3M674.1 171.8V181.9"/><clipPath id="cdr"><rect x="363" y="323" width="175.5" height="119"/></clipPath><g clip-path="url(#cdr)"><rect x="363" y="323" width="175.5" height="119" fill="#1e1e1e"/><path fill="#acacac" d="M363.9 317.9 363.2 318.1 362.9 318.7 363 319.4 364 320.8 364.6 321.2 365.2 321.1 368.2 319.8 368.8 319.1 368.6 318.2 367.8 317.9ZM372.6 317.9 371.8 318.2 371.6 319.1 372.1 319.7 373.3 320.4 374.1 320.4 374.7 319.9 375 319.3 375 318.6 374.7 318.1 374.1 317.9ZM429.1 317.9 428.3 318.2 428.1 319 428.6 319.7 430.8 321 431.7 321.1 432.3 320.4 432.6 319.1 432.4 318.2 431.6 317.9ZM442.1 320.4 442.8 320.9 443.7 320.5 444.6 319.5 444.9 318.8 444.6 318.1 443.9 317.9 442.3 317.9 441.7 318.1 441.3 318.7 441.5 319.4ZM488.7 318.6 488.3 318.1 487.7 317.9 484.6 317.9 484 318 483.7 318.6 483.1 320.3 483.1 321 483.6 321.5 486.5 323.2 487.1 323.3 487.7 323.1 488.9 321.8 489.2 320.9ZM511.8 319.4 511.9 320 512.3 320.4 513.3 321 514.1 321.1 517.9 319.8 518.4 319.4 518.6 318.7 518.2 318.1 517.6 317.9 512.9 317.9 512.3 318.1 512 318.6ZM387.6 325.2 388.1 325.9 389 325.9 392 324.5 392.5 323.8 392.3 323 390.2 320.5 389.6 320.1 388.9 320.3 387.6 321.1 387.2 322ZM437.8 323.5 437.2 323.9 437 324.6 437.2 328.1 437.6 328.9 438.2 329.3 439 329.5 439.6 329 442 324.6 442 323.9 441.6 323.3 441 323.1ZM465.8 321.2 465.8 320.5 465.4 320 462.6 318 462 317.9 461.8 317.9 460.9 318.5 459.2 322.5 459.2 323.3 459.7 324.5 460.1 324.9 460.7 325.1 463.8 324.7 464.6 324.1ZM530.4 327.4 530.8 327.9 531.4 328.1 532 327.9 533.2 326.9 533.5 326.3 534.1 323.6 534 322.8 533.3 322.4 530.2 321.7 529.5 321.8 529 322.3 529 322.9ZM541 327.8 541.8 327.6 543.1 326.6 543.4 325.6 543.1 323.1 542.8 322.5 542.2 322.3 537.1 321.8 536.4 322.1 536.3 322.2 536 322.7 535.4 325.5 535.5 326.3 536.2 326.7ZM428.1 333.1 428.6 333.7 429.1 333.9 430 333.9 430.5 333.2 431.4 329.2 431.1 328.3 430.5 327.7 429.5 327.5 427.2 328.3 426.7 328.8 426.7 329.6ZM470 330.6 469.6 331.2 469.7 332 471.9 335.7 472.5 336.1 473.3 336 475.8 334.4 476.2 333.9 476.9 331.6 476.9 331 476.5 330.5 473.9 328.9 472.8 328.9ZM506 332.8 506 333.4 506.4 333.9 508.8 335.7 509.6 335.9 512.1 335.4 512.7 334.9 512.9 334.1 512.2 331.7 511.6 331 508.4 329.7 507.6 329.7 507.1 330.3ZM514.7 334.4 515 334.9 515.7 335.1 516.3 334.9 518.1 333.5 518.5 332.7 518.4 328.8 518.1 328.1 517.6 327.8 517.3 327.8 516.4 328.1 514.2 330.4 513.9 331.4ZM359.1 336.2 359.1 337 360 338.9 360.6 339.4 361.3 339.4 366.5 336.9 367.1 336 367.1 335.1 366.7 334.3 365.9 333.6 365.1 333.4 360.5 334 359.7 334.6ZM362 341 361.4 341.7 361.7 342.5 362.5 343.4 363.2 343.7 367.8 343.8 368.6 343.4 369.4 342.4 369.6 341.8 369.5 341.2 368.1 339 367.5 338.6 366.8 338.6ZM394.1 335.5 393.9 335 393.5 334.6 390.6 333.5 389.9 333.5 389.4 333.9 387.7 336.9 387.6 337.5 387.7 338.3 388.3 339 391.9 340.8 392.8 340.8 393.4 340.5 394 339.6ZM397 335.6 396.2 335.7 395.8 336.5 395.7 339.5 395.9 340.1 396.4 340.4 399.6 341.7 400.6 341.6 401.4 341 401.8 340 401.4 337.3 401.2 336.8 400.7 336.5ZM422.5 340.4 422.7 340.9 423.1 341.4 424.3 342 425 342 425.5 341.7 429.5 337.4 429.8 336.5 429.2 335.8 428.1 335.3 427.2 335.4 423.1 338 422.7 338.8ZM440.2 336.7 439.5 336.3 438.8 336.6 437.1 338 436.8 338.8 436.8 339.9 437.2 340.6 440.9 343.7 441.6 343.9 442.2 343.7 443.8 342.3 444.1 341.6 443.9 340.9ZM443 334.8 442.4 335.1 442.1 335.8 442.3 336.5 445.7 340.5 446.6 340.8 447.8 340.7 448.5 340.3 448.7 339.5 448.1 336.5 447.6 335.9 445.7 334.8 445.1 334.7ZM450.2 335.6 449.8 336.6 450.6 340 451.3 340.8 452.5 341.1 453.3 341 453.7 340.4 455.2 336.3 455.2 335.5 454.6 334 453.9 333.4 453.1 333.6ZM540.2 337 539.5 336.9 538.9 337.2 538.7 337.8 538.5 340.9 538.8 341.8 539.7 342.5 540.5 342.7 541.2 342.2 541.8 341.1 541.8 340.3 540.8 337.6 540.4 337.1ZM368 346.4 367.6 345.7 367 345.5 364.1 345.5 363.4 345.7 363.1 346.4 362.9 348.8 363 349.4 363.5 349.8 364.5 350.2 365.5 350.2 367.7 348.6 368.1 347.7ZM372.5 343.3 371.7 342.9 370.9 343.2 369.8 344.6 369.6 345.3 369.8 347.8 370.2 348.5 371.5 349.5 372.6 349.5 374.6 348.4 375 347.8 374.9 347ZM387.8 340.6 386.7 340.8 383.6 343.3 383.2 344.1 383.2 345.5 383.8 346.5 387.8 348.2 388.4 348.3 389 348.2 389.7 347.5 391 343.2 391 342.5 390.5 342ZM418.1 348.1 418.6 348.9 419.1 349.2 419.7 349.4 423.2 349 423.9 348.7 424.1 348 424.1 344.4 423.6 343.5 422 342.7 421.2 342.7 418.4 344.2 417.9 344.6 417.8 345.1ZM440.4 348.7 440.9 348.3 441.1 347.7 440.8 346.2 440.5 345.6 437 342.7 436.3 342.5 435.6 342.9 433.5 345.8 433.3 346.4 433.5 347.5 434.1 348.4 437.3 349.6 438 349.6ZM446.4 342.5 445.8 342.8 442.9 345.4 442.6 346.2 442.8 348.1 443.3 348.8 443.7 349.1 444.5 349.2 445.7 348.9 446.4 348.3 448 343.8 448 343.2 447.6 342.7 447 342.5ZM461.9 343.2 461.5 342.5 460.7 342.4 456.3 343.1 455.6 343.5 455.4 344.3 455.7 345.7 456 346.2 457.3 347.3 458 347.6 461.3 347.4 462 347 462.2 346.3ZM473 342.6 472.2 342.5 471.5 343 468.7 348.7 468.7 349.5 469.2 350.1 469.9 350.4 470.8 350.4 473.3 349.3 473.8 348.9 473.9 348.3 473.6 343.5 473.2 342.7ZM506.8 342.8 506.5 343.9 507.5 346.6 508 347.2 508.8 347.1 510.8 346.2 511.3 345.7 511.8 344.6 511.8 343.9 511.3 343.3 508.8 341.9 508.2 341.8 507.6 342.1ZM521.3 342.1 520.9 342.6 520.9 343.2 521.6 345.6 522.2 346.2 523 346.5 523.5 346.6 524.6 346.5 525.3 346.1 528.6 341.8 528.8 341 528.4 340.4 527.7 340.2 523.6 340.8 523.2 340.9ZM535.6 348.1 536.2 348.6 536.3 348.7 537.2 348.6 539.3 347.4 539.8 346.7 540 345.6 539.6 344.7 538 343.3 537.4 343 536.9 343.1 535 344.1 534.5 344.6 534.5 345.4ZM541.6 346.2 541.8 346.9 542.3 347.3 542.4 347.3 543.3 347.2 543.6 346.4 543.6 345.8 543.4 345.1 542.7 344.8 542 345 541.7 345.6ZM367 355.5 367.4 356.1 368.2 356.2 370.4 355.7 370.9 355.3 371.1 354.7 371.1 351.8 370.7 351 369.6 350.2 369 350 368.4 350.2 366.6 351.4 366.3 351.9 366.2 352.5ZM389.2 349.9 388.4 350.5 386.6 355.3 386.6 356 387.1 356.5 389.5 357.7 390.2 357.8 392.2 357.3 392.8 356.8 392.9 356 391.3 350.9 390.9 350.4 390.4 350 389.6 349.8ZM419.8 355.8 420 354.8 418.6 351.2 418.2 350.7 418.1 350.6 417.5 350.5 416.9 350.8 416.4 351.3 416.1 352.1 416.5 356.7 417 357.6 417.3 357.7 417.9 357.7 418.5 357.4ZM433.6 350 433 350 432.5 350.3 430.3 352.9 430 353.5 430.2 354.1 432.2 356.8 432.8 357.2 433.4 357.1 435.8 356 436.4 355.2 436.7 352 436.6 351.4 436.1 351ZM438.1 355 438.3 355.7 438.8 356.1 441.4 357.1 442.4 356.9 443 356.5 443.3 355.6 443.1 351.2 442.6 350.4 442.4 350.3 441.5 350.2 439.1 351.1 438.4 351.9ZM475.2 350.6 474.5 350.6 472.4 351.6 471.8 352.2 471.9 352.9 472.1 353.5 472.6 354 476.1 355.8 477 355.8 477.5 355 477.8 352.3 477.7 351.6 477.2 351.2ZM503.4 351.2 502.9 352 503.4 352.9 505.8 354.6 506.3 354.7 508.6 354.9 509.3 354.8 509.7 354.2 509.7 353.6 508.1 349.6 507.4 349 506.6 349.1ZM522.4 348.7 522.1 348 521.4 347.8 520.7 348.1 518.2 350.4 517.9 351 517.7 352.3 517.9 353.2 519 354.3 519.9 354.6 522.2 354.1 522.8 353.7 523 353ZM531.1 357.6 532 357.7 536.4 356.1 537 355.6 537.1 354.9 536.2 350.9 535.6 350.2 535.5 350.2 534.8 350.2 531.6 351.5 531.1 351.9 529.3 355.4 529.2 356.1 529.6 356.7ZM420.4 362.5 420.9 363 421.7 363 422.9 362.5 423.5 361.8 424.4 357.4 424.1 356.6 423.3 356.2 422 356.3 421.3 356.7 419.5 358.8 419.4 359.8ZM429 355.3 428.4 354.9 427.6 355 426.8 355.6 426.3 356.2 425.4 361 425.6 361.8 426.3 362.2 430.3 362.4 431 362.1 431.3 361.5 431.5 359.2 431.3 358.5ZM360.2 372 360.8 372.3 361.4 372.2 364.3 370.8 364.8 370.3 364.9 369.7 364.5 369.1 361.6 367 360.8 366.9 360.1 367.4 359 369.8 359.2 370.9ZM367.1 363.9 366.5 363.6 365.9 363.7 363.9 364.8 363.4 365.3 363.4 365.9 363.8 366.5 366.4 368.4 367.3 368.6 367.9 368 368.7 366.3 368.8 365.7 368.5 365.2ZM371.1 366.1 370.4 366.7 369.1 369.6 369.2 370.6 370.1 372 370.5 372.4 372.9 373.5 373.7 373.5 374.2 373 376.7 367.8 376.8 367 376.3 366.5 374.7 365.6 374 365.5ZM402.9 368.1 403.1 368.9 403.8 369.2 406.4 369.2 407.2 368.9 407.4 368.1 406.9 364.6 406.5 364 405.9 363.7 404 363.8 403.4 364 403.3 364.2 402.9 364.9ZM410.3 364.4 409.6 364.2 408.9 364.6 408.7 365.3 409.3 369.1 409.8 369.8 410.7 369.8 411.2 369.6 411.7 368.9 412.2 366.5 411.8 365.5ZM457.1 370.3 457.7 370 457.9 369.3 457.5 365.8 457.2 365.1 456.3 364.4 455.4 364.3 450.5 365.9 449.8 366.7 449.7 366.8 449.8 367.5 450.3 367.9 455.6 370.5 456.3 370.6ZM519 362 518.4 362 517.9 362.4 517.7 363 518.3 367.2 518.7 367.9 519.5 368 522.5 367.4 523 367.1 523.3 366.4 523.2 364 523 363.4 522.5 363ZM540.6 365.8 539.8 365.3 539 365.8 537 369 536.8 369.6 537.1 370.2 540 373.5 540.7 373.8 541.5 373.5 543.4 371.5 543.6 370.8 543.6 370.2 543.5 369.6ZM359.8 374.3 359.4 373.7 358.7 373.6 358.1 373.9 357.9 374.6 357.9 376.7 358.3 377.6 359.2 377.7 359.6 377.5 360.2 377.1 360.3 376.4ZM404.7 376.8 405.3 377.6 405.8 377.8 406.9 377.6 407.9 376.5 408.2 376 408.9 372.2 408.7 371.4 407.9 371 404.8 370.9 404 371.2 403.8 372.1ZM430.5 370.6 429.9 370.2 429.3 370.2 425.9 371.5 425.2 372.4 424.9 375.4 425.2 376.3 426.1 376.5 431.4 375.7 432.2 375.2 432.5 374.4 432.4 373.4ZM433.7 376 433.7 376.8 434.3 378.2 434.8 378.6 435.3 378.7 438.5 378.4 439.3 377.9 439.3 377 438.1 374.1 437.5 373.6 436.8 373.6 434.8 374.3 434.2 374.9ZM459.2 372.8 458.8 372 458 371.9 456.6 372.2 456.1 372.5 453.1 375.7 452.9 376.8 453.2 377.5 453.6 378 456.4 379.9 457 380 457.6 379.8 459.1 378.4 459.4 377.6ZM478.7 380 479.4 380.2 480.1 379.9 482.1 377.8 482.4 377.1 482.1 376.5 480.3 374.3 479.3 374 477.4 374.4 476.8 374.7 476.6 375.2 476.3 377.3 476.6 378.2ZM487.9 372.7 487.9 372.1 487.4 371.6 486 370.9 485 370.9 482.5 372.5 482 373.2 482.3 374.1 483.9 375.9 484.8 376.2 486.7 375.9 487.3 375.6 487.6 375.1ZM503.5 373.3 503.3 372.5 502.6 372.2 496.9 371.5 496.2 371.6 495.8 372.2 495.8 372.9 496.8 374.8 497.8 375.3 502.4 375 503.1 374.6 503.2 374.5 503.4 374ZM531.2 369.6 530.6 369.5 527.2 370 526.6 370.3 526.3 370.9 526 374.5 526.5 375.5 527.1 375.9 527.8 376 529.7 375.6 530.4 375 532.1 371.1 532.2 370.4 531.7 369.8ZM383 383 383.7 382.8 384.1 382.2 384.8 379 384.4 378 383.5 377.3 382.6 377.1 379 378 378.4 378.5 378.3 379.3 379.5 382.2 380.4 382.8ZM385.6 383 385.8 383.8 386.4 384.2 391.1 385.3 391.9 385.2 392.3 384.4 392.3 382.2 391.9 381.4 388.6 378.8 387.8 378.6 387.2 378.7 386.4 379.4ZM398.2 378.5 397.3 378.7 394.4 381.3 394 382.1 394 385.2 394.4 386 394.7 386.2 395.3 386.4 395.9 386.2 397.8 384.7 398.2 384.3 399.8 380 399.7 379.2 399.1 378.7ZM417.6 376.6 416.7 376.7 416.2 377.4 415.6 382.9 415.7 383.4 416.1 383.9 417.2 384.5 417.9 384.6 418.5 384.3 421.8 380.3 422 380 422.2 379.5 422.2 378.8 421.6 378.2ZM427.5 382.6 426.8 382.4 426.2 382.7 425.9 383.3 426 384 427.4 386 428.1 386.4 428.9 386.3 429.5 385.8 429.9 385 429.5 384.2ZM451.3 378.7 451.5 377.7 451.3 377.3 450.5 376.7 448 376.3 447.4 376.3 447 376.7 444.8 380.4 444.7 381.1 444.9 382.1 445.4 382.8 446.3 383.3 447 383.5 447.6 383.1ZM449.6 383.3 449.4 384 449.7 384.7 450.4 385 454.4 385.1 455.3 384.7 455.7 384 455.9 383.6 456.1 382.4 455.6 381.4 453.6 380 452.9 379.9 452.2 380.2ZM464.6 384.2 464.9 383.7 464.8 383.1 463.8 381.2 463.4 380.8 461.1 379.7 460.5 379.6 460 379.9 458.1 381.6 457.8 382.2 457.8 382.5 457.9 383.2 458.5 383.7 463.4 384.8 464.3 384.5ZM471.6 386.2 472.4 386.7 476.3 387.4 477 387.3 477.4 386.8 478.9 383.2 478.9 382.6 478.6 382.1 475.7 379.7 475 379.5 474.3 379.9 471.2 384.1 471.1 385.1ZM508.5 383.9 508.4 384.7 508.9 385.3 510.3 386.1 511.3 386 514.5 384 515 383.5 515 382.8 514.7 382.2 514.3 381.7 512 380.2 511.3 380 510.6 380.5ZM536.1 379.5 535.6 380.2 535 383.4 535.2 384.3 536 384.6 540.7 384.6 541.4 384.4 541.7 383.7 542.1 379.4 541.9 378.7 541 377.6 540.4 377.3 539.7 377.4ZM370.6 385.7 369.9 385.6 369.2 385.7 368.4 386.3 367.1 390.4 367.1 391 367.6 391.5 368.6 392.1 369.3 392.3 374.8 391.1 375.5 390.6 375.6 389.9 375.4 389.2 375 388.6ZM377.4 389.9 377.8 390.5 378.5 390.7 382 390 382.7 389.3 383.8 386 383.7 385.1 382.9 384.7 380.2 384.5 379.3 384.9 377.2 388.1 377.1 388.9ZM385.8 391.5 386.5 391.6 387.2 391.3 389.5 388.1 389.7 387.5 389.5 386.9 388.9 386.6 386.5 386 385.8 386.1 385.4 386.7 384.4 389.6 384.4 390.2 384.8 390.7ZM411 389.1 411 389.9 411.4 390.5 412.1 390.6 414.7 390 415 389.8 417.1 388.4 417.5 387.5 417.4 387 416.9 386.3 414.4 384.9 414.1 384.8 414.1 384.8 413.5 384.9 413 385.3ZM434.6 385.8 433.9 385.7 433.3 386.1 433.1 386.8 433.7 392.5 434 393.2 434.7 393.4 435.5 393.5 436.4 392.9 437.5 390.7 437.6 390.2 437.6 388 437.1 387.1ZM445.5 391.1 446.3 390.9 446.7 390.2 447 386.4 446.5 385.5 444.8 384.4 443.7 384.4 439.7 387.1 439.3 387.9 439.3 389.1 439.5 389.8 440.1 390.1ZM455.1 387.5 454.7 387 454.2 386.8 449.6 386.6 448.9 386.9 448.6 387.5 448.3 390.9 448.7 391.8 450.4 393 451 393.2 451.5 393 455.3 390.6 455.7 390 455.7 389.4ZM519.5 390.7 519.9 391.5 520.7 391.6 524 390.7 524.6 390.2 524.6 389.4 523.4 386 522.7 385.4 521.4 385 520.8 385 520.1 385.3 519.6 385.6 519.4 386.2ZM383.4 391.8 382.6 391.6 379 392.3 378.4 392.7 378.2 393.4 378.5 396.6 378.8 397.3 379.5 397.5 383.6 397.1 384.5 396.4 385.3 394.1 385.3 393.5 384.9 393ZM414.4 393.1 414 392.3 413.2 392.1 411 392.6 410.5 392.9 410.3 393.5 410 396.3 410.2 397 412.2 399.6 413.2 399.9 413.7 399.8 414.2 399.5 414.4 398.8ZM483.4 401 483.9 401.7 484.7 401.7 489.1 400.1 489.4 399.9 491.3 398.5 491.7 397.9 491.6 397.3 491.1 396 490.7 395.6 490 395.5 486.3 396.1 485.7 396.4 483.4 399 483.2 399.8ZM511.1 394.8 510.7 395 506.4 398.6 506 399.2 506.1 399.8 506.7 401.2 507.1 401.6 507.7 401.8 508.9 401.7 509.6 401.3 513.7 396.6 514 395.7 513.4 395 512.6 394.6 511.8 394.6ZM516.9 394.9 516.5 395.5 516.6 396.2 518.7 400 519.6 400.5 522.6 400.2 523.3 399.9 523.5 399.3 523.4 398.6 520 393.9 519.3 393.5 518.6 393.7ZM526.3 393 525.8 392.3 525 392.2 522.9 392.8 522.2 393.4 522.4 394.3 524.8 397.7 525.5 398.1 526.3 397.8 526.6 397ZM531.7 398.8 532.4 398.5 533.3 397.7 533.6 396.9 533.2 391.7 533.1 391.3 532.8 390.9 532.3 390.5 531.7 390.5 528.6 391.7 528.1 392.1 527.9 392.7 528.4 397.9 528.7 398.5 529.4 398.8ZM416.9 407.8 417.6 407.4 417.8 406.7 416.9 402 416.6 401.4 416 401.2 415.5 401.1 415.2 401.2 413.3 401.7 412.6 402.2 411.4 404.6 411.6 405.7 413.3 407.8 414.2 408.2ZM422.2 400.7 421.7 400.2 421 400.1 419.3 400.6 418.8 401.1 418.6 401.8 419.6 407.4 420.1 408.1 421.3 408.7 422.1 408.8 422.7 408.2 423.7 405.2 423.7 404.5ZM489.3 403.1 488.8 402.4 488 402.3 486.8 402.8 486.2 403.3 486.1 403.9 486.5 404.5 488.1 405.7 488.9 405.9 489.5 405.5 489.7 404.7ZM404.8 413.6 405.2 413.2 405.4 412.6 405.1 409.4 404.8 408.7 404.1 408.4 401.1 408.7 400.4 409 400.2 409.7 400.3 412.6 400.6 413.2 401.6 414.3 402.1 414.6 402.8 414.5ZM407.4 407.3 406.9 407.7 406.8 408.3 407.1 413 407.5 413.7 409.2 415.2 409.9 415.4 410.6 415.1 412.5 413 412.7 412.3 412.5 409.8 412.3 409.2 410.3 406.9 409.8 406.6 409.2 406.6ZM431 411.7 431 412.5 431.5 413 432.3 413.4 432.7 413.5 435.3 413.6 436.2 413.3 436.4 412.4 435.1 407.2 434.3 406.4 434.2 406.4 433.6 406.5 433.1 407ZM457.2 410.7 457.7 410.1 457.7 409.3 456.1 406.4 455.5 405.9 454.7 406 451.1 408.3 450.6 409.2 450.7 410.4 451 410.9 451.5 411.3 453.8 411.8 454.4 411.8ZM472.2 409 471.7 408.6 469.5 407.8 468.6 407.9 468 408.3 467.5 409.2 467.8 414 468.1 414.7 468.6 415.1 469.2 415.4 469.8 415.2 473.6 412.9 474.1 412.3 473.9 411.5ZM358.6 414.9 358.1 415.2 357.9 415.8 357.9 420 358.2 420.7 359 421 359.7 420.5 362.4 415.7 362.5 415 362 414.4 361.3 414.3ZM411.4 416.7 411.2 417.4 411.4 418.1 413.5 420.3 414.3 420.6 415.1 420.1 417.3 416.6 417.4 415.8 416.8 415.1 414.5 414.2 413.9 414.2 413.4 414.5ZM427.5 420.8 428.3 421.1 430.7 420.9 431.4 420.6 431.6 419.9 431.5 415.5 430.9 414.6 429.8 414.1 429.1 414 426.3 414.8 425.8 415.2 425.6 415.9 426 419 426.3 419.5ZM438.2 416.3 437.9 415.7 437.2 415.4 434.3 415.3 433.5 415.6 433.2 416.3 433.4 420.3 433.5 420.9 434 421.2 436.2 422 437.1 421.9 438.1 421.1 438.4 420.3ZM456.1 413 455.6 413.5 455.5 414.2 456.9 418.6 457.7 419.3 458.2 419.4 458.8 419.2 460.1 418.3 460.4 417.9 460.5 417.9 460.5 416.9 458.4 413 457.9 412.5 457.2 412.5ZM501.2 415.6 500.6 415.7 500.2 416.2 498.8 419.1 498.9 420.2 500.5 422.1 501.1 422.4 501.7 422.3 503.5 421.4 504 420.7 504.5 417 504.3 416.3 503.7 415.9ZM513 414.9 512.3 415 511.8 415.5 511.8 416.2 512.4 418 513.2 418.7 516.3 419.3 517 419.3 517.4 418.8 517.9 417.6 517.9 416.8 517.3 416.2ZM358 427.8 358.4 428.8 360.5 430.2 361.1 430.4 361.6 430.3 363.9 428.8 364.3 428.2 364.2 427.5 362.9 424.9 362.3 424.4 359.8 423.8 359 423.9 358.6 424.6ZM396.2 422.1 395.4 422.2 395 422.9 393.9 428.8 394 429.4 394.4 429.8 395.2 430.2 395.8 430.3 396.3 430 397.7 428.6 398 428 398.5 423.6 398.3 422.9 397.7 422.5ZM464.4 426.5 465 426.3 465.3 425.8 465.9 424.2 465.9 423.6 465.5 423.1 461.6 420.2 461 420 460.4 420.2 460.4 420.2 460 420.7 460 421.3 461.6 425.9 462 426.3 462.6 426.5ZM501.1 426.5 501.4 427.4 502.3 427.7 508.5 426.8 509.2 426.4 509.3 425.6 508.8 425 505.2 423 504.3 423 502 424.1 501.5 424.8ZM530.2 424.3 530.1 423.5 529.4 423.1 526.4 422.7 525.5 423.1 523.5 425.7 523.3 426.2 523.2 427.2 523.7 428.1 526.4 430.1 527.4 430.2 528.6 429.7 529.2 429ZM382.2 433.8 381.8 434.4 381.9 435.1 382.4 435.5 383 435.6 386.2 434.7 386.7 434.4 386.9 433.8 386.9 432.2 386.7 431.6 386 431.2 385.3 431.4ZM403.9 437.1 404.5 437.2 405.1 436.7 407.9 432.5 408 432.1 408.1 431.4 408 430.8 407.5 430.4 406.8 430.4 405 431 404.4 431.6 402.8 435.6 402.9 436.4 403.4 436.9ZM432.3 430.3 432 431.1 432.3 431.8 434.4 433.6 435 433.9 435.6 433.8 438.3 432.3 438.8 431.5 438.8 430.9 438.7 430.3 437 427.4 436.3 426.9 435.4 427.2ZM453.8 434.6 454.1 434.3 454.1 434.3 454.2 433.9 454.5 431.4 454.1 430.5 451.4 428.2 450.8 428 450.1 428.2 448.7 429.3 448.4 429.7 446.8 434.3 446.9 435 447.4 435.5 450.2 436.6 451.2 436.5ZM459.2 430.8 458.7 430.4 458 430.4 456.8 430.9 456.1 431.7 456 433 456.2 433.6 456.7 434 459.9 435.1 460.7 435.1 461.2 434.4 461 433.6ZM500.2 430.2 499.6 429.8 499 429.9 498.5 430 497.9 430.7 496.5 435.8 496.6 436.6 497.2 437.1 500.5 437.6 501.6 437.2 502.9 435.1 503 434.6 502.9 434ZM512.8 428.7 512 428.7 511.4 429.2 509.6 433.8 509.7 434.8 510.1 435.4 510.5 435.7 514.3 437.6 515.1 437.7 515.7 437.1 516 436.2 516.1 435.9 516.7 431.2 516.6 430.6 516.1 430.2ZM529.2 431.3 528.6 431.9 528.7 432.8 530.9 436 531.3 436.4 531.9 436.4 534.9 435.7 535.5 435.3 535.6 434.6 535.2 433.9 531.1 431.3 530.8 431.1 530.2 431 529.6 431.1ZM358.2 439.7 358 440.3 358 440.6 358.2 441.3 358.8 441.6 359.4 441.8 359.8 441.8 361.3 441.6 361.9 441.3 365 438 365.3 437.2 364.9 436.5 362.6 435 361.8 434.8 361.2 435.3ZM381.1 440.3 381.5 440.9 384.1 442.8 384.9 443 385.7 442.8 386.5 442.3 388.2 438.6 388.2 437.7 387.7 436.8 387.2 436.4 386.6 436.4 381.6 437.7 381.1 438.1 380.9 438.8ZM398.3 442.5 398.2 443.2 398.5 443.8 399.1 444 404.1 444.4 404.9 444.1 406 443 406.3 442.4 406.2 441.8 404.6 439.4 404.1 439.1 401.9 438.1 401.2 438.1 400.6 438.5ZM426.7 438.7 426.1 438.4 425.5 438.4 424.8 438.6 424.4 439.2 424 442.5 424.3 443.4 424.6 443.6 425.2 443.9 425.9 443.7 428.2 441.6 428.6 440.9 428.3 440.2ZM446.4 436.9 445.7 436.9 445.1 437.4 443.1 441.2 443 442 443.7 442.6 447 443.5 447.6 443.5 449.7 442.7 450.2 442.3 450.3 441.7 450.1 439 449.5 438.2ZM452.5 442.8 453.1 443 456.6 442.9 457.2 442.6 457.5 442.1 457.4 441.4 454.9 437.2 454.3 436.8 453.5 436.9 452.2 437.9 451.8 438.8 452.1 442.1 452.5 442.8ZM490.5 436.8 489.8 436.8 489.3 437.3 487.7 440.3 487.7 441.2 488.3 441.7 490.4 442.3 490.9 442.3 492.5 441.9 493.2 441.2 493.7 439 493.7 438.3 493.1 437.8ZM520.5 440.6 521.2 440.7 522.7 440.4 523.3 440.1 523.5 439.6 523.8 437.4 523.6 436.5 522.7 436.3 518.1 436.9 517.3 437.6 517.2 437.8 517.2 438.5 517.7 439ZM530.5 440.8 530.5 441.5 530.9 442 532.9 443.3 533.9 443.3 535.4 442.5 536 442 537.1 438.5 537.1 437.8 536.6 437.3 535.9 437.2 532 438.1 531.3 438.8ZM446.5 445.9 446.3 445.3 445.8 444.9 441.7 443.8 441 443.9 440.6 444.1 440.1 445 440.2 446.2 440.5 446.9 441.2 447.1 445.5 447.1 446.2 446.9 446.5 446.1ZM459.5 445.5 459.2 444.8 458.5 444.5 454.3 444.7 453.6 445 453.3 445.7 453.3 446.1 453.6 446.9 454.3 447.1 458.5 447.1 459.3 446.8 459.5 446.1ZM466.5 442.6 466.1 442.1 465.6 441.8 464.6 441.9 461.6 444 461.2 444.8 461.2 446.2 461.5 446.9 462.2 447.1 466.7 447.1 467.5 446.7 467.7 445.8ZM502.9 445.2 502.3 445.9 502.5 446.8 503.3 447.1 503.7 447.1 504.4 446.9 504.7 446.3 504.6 445.7 504.5 445.5 504 445.1 503.2 445.1ZM514.3 446 514.5 446.8 515.3 447.1 518.4 447.1 519.1 446.9 519.4 446.2 519.8 442.8 519.3 441.8 516.8 440.5 516 440.4 515.4 440.8 515.3 441.1 515.1 441.4ZM525.7 443.4 525.6 442.8 525.2 442.4 524.4 442 523.7 441.9 522.2 442.2 521.7 442.6 521.5 443.1 521.2 446.1 521.4 446.8 522.2 447.1 524.4 447.1 525.1 446.9 525.4 446.3ZM532.3 445.6 531.9 444.6 529.3 443 528.7 442.8 528.3 442.9 527.7 443.2 527.4 443.8 527.1 446 527.4 446.8 528.1 447.1 531.2 447.1 531.9 446.9 532.2 446.3Z"/><path fill="#bababa" d="M378.4 321.5 379 321.5 379.5 321.2 380.8 319.5 381 318.8 380.7 318.1 380 317.9 378.2 317.9 377.3 318.4 376.6 319.7 376.6 320.6 377.2 321.1ZM471 317.9 470.3 318.1 470 318.7 470.1 319.3 470.6 319.8 473.5 321 474.4 320.9 474.6 320.8 475.1 320 475.3 319 475 318.2 474.3 317.9ZM530 317.9 529.3 318.1 529 318.7 529.1 319.4 529.7 319.8 534 320.8 534.6 320.7 535.1 320.2 535.2 319.6 535 318.6 534.6 318.1 534 317.9ZM536.9 319.4 537.2 320 537.8 320.2 542.2 320.6 542.9 320.4 543.3 319.9 543.3 319.2 543 318.5 542.6 318 542.1 317.9 537.8 317.9 537 318.2 536.8 319.1ZM362.5 323.4 363 322.7 362.8 322 361.3 319.9 360.8 319.5 360.2 319.5 358.6 319.9 358.1 320.2 357.9 320.8 357.9 324.7 358.1 325.4 358.7 325.7 359.4 325.5ZM375.9 322.5 375 322.6 374.6 323.3 374.2 327 374.3 327.6 374.7 328.4 375.4 328.9 376.2 328.7 379.2 326.2 379.5 325.7 379.5 325 378.9 323.8 378.3 323.3ZM417.2 329.3 418.3 329.2 420.7 327.1 421 326.2 420.9 325.2 420.5 324.5 418.1 322.8 417.3 322.7 414.7 323.3 413.9 324 413.2 326.5 413.2 327.2 413.7 327.7ZM433.5 322.9 432.7 322.9 432.2 323.5 431.5 325.4 431.7 326.5 432.7 327.4 433.2 327.7 434.2 327.8 435 327.6 435.4 326.8 435.2 324.1 434.6 323.3ZM457 328.3 457.4 328 458.2 326.4 458.3 325.5 457.7 324.1 457 323.5 454.2 322.8 453.5 322.8 453.1 323.3 451.8 326.1 451.7 326.7 452 327.3 454.3 329.1 455.4 329.2ZM491.1 323.2 490.4 323.1 489.8 323.3 488.4 324.8 488.1 325.4 487.9 327 488 327.5 488.5 328 490.9 329.1 491.9 329 494.6 327.1 495 326.2 494.6 325.4ZM493.6 321 493.1 321.5 493.1 322.2 493.5 322.7 497 324.9 497.6 325.1 498.1 324.8 499.1 324.1 499.5 323.4 499.7 321.1 499.4 320.3 498.5 319.4 497.9 319.1 497.3 319.2ZM501.2 323.1 501.3 323.7 501.7 324.1 505.8 326.2 506.5 326.3 507.1 325.9 509.5 322 509.6 321.3 509.3 320.7 508.7 320.5 503 320.3 502.5 320.4 501.9 320.7 501.4 321.5ZM516.1 322.2 515.5 322.9 515.6 323.7 516.8 325.6 517.4 326.1 518.8 326.3 519.4 326.2 520.3 325.8 520.8 325.2 521.9 321.9 521.8 321.2 521.3 320.7 520.6 320.7ZM526.7 321.4 526.3 320.8 525.6 320.7 524.5 320.9 523.7 321.6 522.6 325.2 522.6 325.9 523 326.3 525.7 328.2 526.4 328.4 527.6 328.2 528.3 327.8 528.5 326.9ZM376.8 330.4 376.4 331.1 376.7 331.8 378.1 333.5 379 333.9 379.6 333.8 380.2 333.4 383.9 329.1 384.2 328.5 384 327.9 383.4 327.5 381.5 327 380.6 327.2ZM393.9 332.9 394.6 333 395.1 332.6 396.1 331.1 396.1 330 394 326.5 393.4 326 392.7 326.1 389.5 327.6 389 328.1 389 328.9 389.9 331 390.5 331.6ZM408.7 329.6 408.5 329 408 328.7 406.3 328 405.9 328 405.2 328.1 404.4 328.5 403.8 329.3 403.7 330 404 332.1 404.6 332.9 407.1 333.9 407.7 333.9 408.2 333.6 408.4 333.3 408.6 332.7ZM440.4 331 440.3 331.7 440.5 332.4 440.8 333 441.5 333.2 444.5 333 445.3 332.4 447.2 328.2 447.3 327.5 446.8 326.9 444.6 325.5 443.8 325.4 443.2 325.9ZM450.5 328.2 449.6 328 448.9 328.6 447.1 332.6 447.1 333.3 447.5 333.9 448.1 334.2 449.2 334.2 452.8 331.7 453.2 330.9 452.8 330.1ZM456 330.8 455.6 331.3 455.6 332 456.6 334.5 457.4 335.1 461 335.5 461.6 335.4 462 334.9 462.1 334.7 462.2 334 461.9 333.5 458.3 330.3 457.7 330.1 457.1 330.2ZM463.1 332.3 463.6 332.5 464.2 332.4 466.5 331.3 467 330.6 466.9 329.8 464.9 326.9 463.9 326.4 460.5 326.8 459.7 327.3 459.3 328 459.2 328.6 459.6 329.2ZM483.2 335.8 483.9 335.5 484.1 334.7 483.8 331.9 483.6 331.3 483 331 480.6 330.6 480.1 330.7 479.3 331 478.7 331.6 478 333.7 478.1 334.3 478.5 334.8 480.1 335.9 480.8 336.1ZM523 332.7 523.5 332.2 524.4 330.4 524.5 329.7 524.1 329.2 521.8 327.6 520.8 327.5 520.7 327.5 520.2 327.9 520.1 328.5 520.2 332 520.4 332.6 521 332.9 521.9 333 522.4 333ZM529.1 337.2 529.9 337.5 530.6 337.2 531.8 335.8 532 334.8 530.9 330.5 530.3 329.8 530 329.7 529.5 329.7 526.9 330 526.2 330.6 525.3 332.4 525.2 333 525.5 333.6ZM375.2 332.7 374.7 332.4 374 332.4 369.4 334.5 368.8 335.4 368.8 336.6 368.9 337.2 371.1 340.6 371.9 341.1 372.1 341.1 372.6 340.9 376.4 338.5 376.8 337.8 377.2 335.6 376.9 334.8ZM413.1 336.8 413 336.1 412.5 335.7 410.4 334.7 409.8 334.7 409.2 335 409.2 335.1 408.9 335.8 409.1 339.9 409.6 340.7 410.6 341.3 411.2 341.4 411.2 341.4 411.8 341.1 412.1 340.6ZM416.4 342.8 417.3 342.8 420.3 341.3 420.8 340.5 421 338.4 420.8 337.8 418.4 334.2 417.7 333.8 416.9 334.1 415.2 335.8 415 336.2 413.8 340.8 413.9 341.5 414.4 341.9ZM494.3 335.7 493.6 336.1 493.5 336.3 493.3 336.9 493.4 339.8 493.5 340.4 494 340.7 497.4 342 498.4 341.9 499.5 340.9 499.9 340.2 499.9 336.3 499.6 335.6 498.8 335.3ZM536.2 341.5 536.8 340.7 536.9 337.8 536.7 337.1 536.1 336.7 534 336.5 533.1 336.9 531.3 339 531.1 339.8 531.1 340.2 531.3 340.7 532.8 342.4 533.4 342.8 534 342.7ZM378.8 347.9 379.6 347.7 381.1 346.6 381.5 345.8 381.5 344 381.2 343.3 378 340.4 377.4 340.1 376.8 340.3 374.6 341.6 374.2 342.3 374.3 343 377 347.1 377.6 347.6ZM397.9 348.1 397.8 348.8 398.2 349.4 400 350.6 400.8 350.8 401.4 350.3 401.9 349.5 402 348.6 400.9 345.8 400.4 345.3 399.7 345.3 399.1 345.8ZM411.9 343 411.1 343.6 409.3 348.5 409.3 349.3 410 350.4 410.9 350.9 414.4 350.5 415 350.2 416.1 349.1 416.4 348.3 416.1 345.1 415.5 344.3 412.7 343.1 412.2 343ZM448.3 348 448.3 348.8 448.9 349.3 449.4 349.4 450.4 349.2 453.6 346.5 454 345.5 453.6 343.7 452.8 342.9 451.2 342.5 450.5 342.6 450 343.1ZM486.9 351.2 487.5 351.2 487.9 350.9 488.5 350.2 488.6 349.3 487.4 345.4 486.9 344.8 485.7 344.2 485 344.2 482.3 345 481.6 345.7 481.1 348.5 481.2 349.2 481.8 349.7ZM513.2 345.6 513.2 346.3 513.6 346.8 516.4 348.7 517.1 348.9 517.6 348.6 519.6 346.8 519.9 345.7 519 343.1 518.6 342.5 517.5 341.9 517 341.8 516.4 342 514.1 343.8 513.8 344.2ZM358.6 355.8 358.9 356.5 359.6 356.8 364.3 356.6 365 356.2 365.2 355.4 364.5 352.5 363.9 351.9 362.4 351.2 361.5 351.2 359.2 352.4 358.7 353.2ZM414.5 353.2 414.1 352.5 413.4 352.3 411.1 352.6 410.3 353.3 409.9 354.4 410 355.1 410.8 357 411.2 357.5 411.9 357.6 413.9 357.3 414.5 356.9 414.7 356.2ZM421.5 353.9 421.9 354.4 422.4 354.6 425.1 354.4 425.6 354.3 426.2 353.9 426.7 353.2 426.4 352.4 425 350.9 424.2 350.6 421.6 350.9 420.9 351.4 420.8 352.2ZM452.9 355.2 453.6 355.7 454.4 355.6 455.4 354.9 455.9 354.2 456.3 349.3 456 348.5 455.7 348.2 455 347.9 454.3 348.1 451.7 350.3 451.4 350.8 451.4 351.5ZM463.3 349.2 462.6 349 458.9 349.3 458.3 349.5 458 350.2 457.6 353.5 457.9 354.2 458.5 354.5 461.5 354.9 462 354.9 462.6 354.6 463.1 354.1 464.6 351.2 464.7 350.5 464.3 349.9ZM490.7 350.9 489.8 351.3 488.8 352.6 488.6 353 488.5 353.4 488.6 353.9 488.9 355 489.7 355.6 494 356.6 494.8 356.4 495.2 355.7 495 355 491.6 351.2 490.9 350.9ZM372.7 358 372.3 357.3 371.5 357.2 368.3 357.9 367.8 358.3 367.6 358.9 367.6 361.5 367.9 362.2 369.9 364.2 370.8 364.4 372.6 364.1 373.3 363.7 373.4 362.9ZM407.1 362 407.5 361.9 407.9 361.7 408.4 361.3 409.4 359.1 409.5 358.2 408.6 356.4 408.2 355.9 407.7 355.8 404 356 403.3 356.4 403.1 357.2 403.9 361.3 404.3 361.8 404.9 362.1ZM417.8 363.8 418.5 363.3 418.6 362.5 417.7 360.1 417.2 359.5 415.9 358.9 415.3 358.8 411.7 359.4 410.9 359.9 410.3 361.2 410.2 361.9 410.6 362.5 413.2 364.3 413.9 364.5ZM464.2 357.2 463.6 356.9 462.9 357.1 462.5 357.8 462.1 361 462.4 361.8 463.1 362.2 466.2 362 466.9 361.7 467.2 361.1 466.9 360.4ZM477.7 357.5 477.2 358 475.8 361.3 475.8 362.1 476.5 362.7 481.1 363.6 481.8 363.5 482.3 362.9 482.2 362.2 480.1 358.2 479.6 357.7 478.7 357.3 477.9 357.4ZM499 357.3 498.8 357.7 498.7 358.2 498.7 358.6 498.8 359.7 499.1 360.3 499.7 360.6 502.4 360.8 503.1 360.7 503.5 360.1 504.5 356.6 504.5 356 504.1 355.5 502.6 354.4 501.9 354.2 501.3 354.6ZM512.2 355.5 511.7 355.9 511.5 356.6 511.9 359.8 512.1 360.4 512.7 360.7 516.2 361 516.8 360.9 517.2 360.6 517.7 359.9 518.1 356.4 517.9 355.6 516.9 354.5 515.8 354.3ZM525.9 361 525.7 361.6 526 362.2 526.6 362.5 529.5 362.9 530.1 362.8 530.5 362.4 530.8 361.9 530.9 361.2 530.7 359.8 530.3 359.1 528.7 358.1 528 358 527.3 358.5ZM540.9 357.5 540.2 357.9 540.1 358.6 540.5 362 540.9 362.7 541.8 362.8 542.9 362.5 543.4 362.1 543.6 361.5 543.6 358.2 543.3 357.5 542.5 357.3ZM394.8 369.9 395.3 370.6 396.2 370.7 400.5 368.9 401.2 368 401.2 365.6 401 365 400.4 364.6 397.1 364.1 396.2 364.5 394.8 366.3 394.6 366.9ZM419.1 367.1 419.3 366.3 418.9 365.6 418.1 365.5 414.7 366.1 413.9 366.9 413.5 368.8 413.5 369.4 414 369.9 415.4 370.6 416 370.7 416.6 370.4ZM472.9 371.4 473.6 371.3 474 370.8 474.1 370.2 472.9 365 472.6 364.5 472 364.2 470.2 364 469.6 364.1 469.1 364.7 467.6 369.3 467.7 370.1 468.4 370.6ZM477.4 370.8 477.2 371.6 477.5 372.3 478.3 372.5 479.7 372.2 480.1 372.1 483.7 369.8 484.1 369.2 484.1 368.5 483.3 366.7 482.9 366.2 482.2 366.1 481.7 366.4ZM484.8 363.8 484.4 364.3 484.4 365 486 368.7 486.5 369.2 488.6 370.3 489.5 370.4 491.9 369.4 492.5 368.8 493.4 365.6 493.4 364.9 492.9 364.4 488.5 362.2 487.5 362.2ZM500.9 362.4 500.2 362.6 499.8 363.2 499.9 363.9 503.7 370 504.4 370.4 505.2 370.2 507.4 368.3 507.8 367.6 507.8 365.1 507.2 364.2 503.8 362.7 503.5 362.6ZM385.7 376.9 386.5 377.1 387.5 376.9 388.2 376.4 389.8 373.7 389.9 372.9 389.4 372.3 388.3 371.7 387.8 371.5 387.2 371.8 384.6 373.9 384.2 374.6 384.2 375.1 384.6 376ZM402 371.5 401.5 370.8 400.6 370.8 397.1 372.2 396.6 372.7 396.6 373.5 397.9 376.3 398.5 376.8 401.2 377.5 401.6 377.5 402.1 377.4 402.7 377 402.9 376.3ZM412.8 371.2 411.8 371.2 411.1 371.5 410.6 372.3 410.2 374.5 410.4 375.4 411.3 375.7 414.9 375.4 415.7 375 415.9 374.2 415.7 373.2 415.2 372.5ZM468.8 372.4 468.1 372.5 467.7 373 467.6 373.6 468.2 375.8 468.8 376.5 473.3 377.9 474.1 377.8 474.6 377.1 474.9 374.5 474.8 373.7 474.1 373.3ZM489.2 375.8 489.4 376.5 490 376.9 494.1 377.9 494.7 377.8 495.2 377.4 495.5 376.8 495.5 375.9 493.3 371.7 492.7 371.2 492 371.2 490.3 371.9 489.7 372.7ZM509.8 377 510.5 377.1 511.2 376.6 513.2 372.9 513.3 372.1 512.8 371.5 509.3 369.7 508.8 369.6 508.2 369.9 505.6 372.1 505.2 372.8 505.2 373.5 505.6 374.5ZM519.4 374.6 519.9 374.9 521.8 375.5 522.4 375.5 523.6 375.1 524.1 374.8 524.4 374.3 524.7 370.2 524.4 369.4 524.2 369.2 523.3 369 518.6 370 518 370.3 517.5 371 517.2 371.6 517.5 372.2ZM357.9 383.9 358.1 384.6 358.8 384.9 359.5 384.7 362.8 381.6 363.1 381.1 363 380.4 362.8 380 362.5 379.7 361.7 379.1 360.8 378.9 358.5 379.7 358 380.1 357.9 380.7ZM481.6 380.7 481.4 381.4 481.5 382 482.1 382.4 485.7 383.4 486.5 383.3 487 382.6 487.5 378.8 487.3 378 486.4 377.7 484.7 377.9 484.1 378.2ZM397.6 387 397.2 387.9 397.7 388.7 400.5 390.3 401.4 390.3 404.2 388.8 404.7 387.9 404.7 387.2 404.4 386.6 403.8 386.2 399.4 386 398.7 386.2ZM423.3 383.1 422.6 382.7 421.7 383 419.3 385.9 419.1 386.7 419.2 387.7 419.5 388.3 422.3 390.8 423.4 391 425.7 390 426.2 389.5 426.6 388.7 426.5 387.7ZM457.7 385.2 457.1 385.3 456.7 385.7 456.6 385.7 456.5 386.6 457.2 388.6 457.6 389 458.1 389.2 461.6 389.4 462.3 389.2 462.7 388.6 462.9 387.4 462.8 386.7 462.2 386.2ZM478.8 389.2 479.7 389.8 482.4 389.8 483.2 389.5 485.9 386.7 486.1 386.1 485.9 385.5 485.4 385.1 481.4 384 480.7 384 480.2 384.5 478.7 388.1 478.7 388.8ZM492 386.7 491.6 387.2 491.6 387.9 492.3 390.2 492.7 390.7 493.4 390.9 498.2 390.4 498.8 390.1 499.1 389.4 499.2 385.7 499 385.1 498.4 384.7 496.8 384.3 496.1 384.4ZM512.9 392.5 513.4 393.1 514.7 393.8 515.7 393.7 517.4 392.4 517.8 391.6 517.7 386.1 517.1 385.2 516.8 385.1 515.9 385.2 512.4 387.3 512 387.8 512 388.4ZM535.2 386.3 534.6 386.5 534.2 387.1 533.8 388.6 533.9 389.5 534.3 390 535 390.4 539.8 391.1 540.5 390.9 540.9 390.3 541.5 387.5 541.3 386.7 540.5 386.3ZM360.9 401.7 361.5 402 362.1 401.9 363.3 401.1 363.7 400.1 362.8 394 362.5 393.4 362 393.1 361.8 393.1 361.1 393.3 358.2 395.6 357.9 396.4 357.9 398.4 358.1 399.1ZM388.1 394.5 387.3 394.5 386.7 395.1 386 397.1 386.2 398.1 388.5 400.8 389.1 401.1 389.8 401 392.3 399.3 392.7 398.8 392.7 398.2 392.3 396.8 391.8 396.2ZM408.6 392.7 408.2 391.8 406 390.4 405 390.3 402.4 391.7 401.8 392.6 402 395.6 402.3 396.3 403.1 396.6 407.5 396.2 408.1 395.9 408.4 395.3ZM423.3 396.9 423.6 397.6 424.3 397.9 428.5 397.8 429.3 397.4 431 395.3 431.2 394.5 430.7 393.8 427.1 391.7 426.2 391.6 424 392.6 423.4 393.5ZM456.6 393.2 455.9 392.6 455.1 392.7 452.4 394.5 452 395.5 452.4 397.4 452.9 398.1 456.5 399.7 457.3 399.7 457.8 399.5 458.2 399.2 458.3 399.1 458.4 398.1ZM459 391 458.4 391.2 458 391.7 458 392.3 459.5 396.3 460 396.8 460.8 396.9 461.3 396.4 463.3 392.9 463.2 391.8 463 391.5 462.2 391.1ZM465.8 393.3 464.8 393.8 463.2 396.6 463.1 397.4 463.7 398 468.2 399.6 468.9 399.6 469.5 399.1 469.5 398.4 468.4 394.2 468.1 393.7 467.6 393.5ZM493.3 392.6 492.8 392.8 492.5 393.3 492.3 394 492.3 394.6 493.5 397.4 493.9 397.8 495.6 398.9 496.6 399 500.3 397.2 500.7 396.8 500.8 396.2 500.5 393.2 500.2 392.6 499.9 392.3 499 392ZM430.5 404.6 431.2 404.4 431.6 403.7 431.4 403 429.3 399.9 428.4 399.5 425 399.6 424.2 400 424.1 401 425.1 403.5 425.9 404.1ZM459.1 402 458.5 401.6 457.8 401.8 457.4 402.4 457 403.7 457.1 404.5 459.1 408.4 459.6 408.8 460.3 408.9 462.6 408.1 463.2 407.7 463.3 407.1 463.1 406.5ZM493.1 407.1 493.7 406.8 495 405.6 495.3 404.8 495.2 401.2 494.7 400.4 493.6 399.7 493 399.5 492.5 399.7 491.2 400.8 490.8 401.8 491.8 406.4 492.2 407 492.9 407.1ZM360.9 412.6 361.4 412.3 361.6 411.6 361.6 408.7 361.4 408.2 361.1 407.7 360.6 407.2 359.9 407.2 358.5 407.7 358 408 357.9 408.6 357.9 412 358.2 412.8 359.1 413ZM398.5 410.1 398.1 409.4 397.2 409.2 396.6 409.4 396 409.9 395.2 411.5 395.2 412.3 395.8 412.9 397 413.3 397.8 413.2 398.1 413 398.6 412.1ZM484.1 404.9 483.4 404.7 482.8 405 482.5 405.7 482.4 411.4 482.7 412.1 483.5 412.4 486.7 412.2 487.5 411.7 488.8 409.5 488.9 408.8 488.6 408.2ZM491.3 409.1 490.8 409.5 489.1 412.4 489.1 413.5 490.3 415.1 491 415.5 491.8 415.2 494.1 412.9 494.4 411.9 493.5 409.6 493.1 409 492.5 408.9 491.6 409 491.4 409ZM499.6 408.5 499.5 407.9 499 407.6 497 406.8 496 407 495.3 407.7 495 408.7 496.1 411.7 496.6 412.3 498.2 413.1 498.8 413.2 499.4 412.8 499.6 412.2ZM524.2 412.2 524.6 412.7 525.2 412.9 526.6 412.9 527.2 412.7 527.5 412.2 528.9 408.3 528.9 407.5 528.4 407 527.6 406.6 526.8 406.5 526.2 407.1 524.2 411.2 524.1 412ZM536.2 406.4 535.5 406.8 535.3 407.4 535.6 412.6 535.8 413.2 536.4 413.5 539.3 414 540.3 413.6 542.2 411.2 542.4 410.7 542.9 407 542.6 406.1 542.3 405.9 541.4 405.6ZM387.8 417.8 388.4 417.1 388.3 416.2 386.5 413.6 385.9 413.1 385.1 413.3 380.6 416.6 380.3 417.3 380.4 418 381 418.9 381.5 419.4 382.1 419.4ZM450.2 421.8 450.8 422 451.4 421.9 454.7 420.1 455.1 419.6 455.2 418.9 453.7 414.1 453 413.4 450.8 412.9 449.9 413.1 449.5 413.5 449.2 414.2 449.4 420.5 449.7 421.2ZM508.5 422.9 509.3 422.9 509.9 422.3 510.9 419.6 510.9 419 509.8 415.6 509 415 508.5 414.9 507.8 415 506.8 415.6 506.3 416.3 505.8 420.6 505.9 421.2 506.3 421.6ZM527.9 414.6 527.7 414.6 526.2 414.6 525.5 415 525.3 415.8 526 420.3 526.3 420.8 526.9 421.1 530.5 421.5 531.2 421.3 531.6 420.7 532.3 416.5 532.2 415.7 531.5 415.3ZM388.8 420.9 388.9 420.2 388.4 419.6 387.6 419.6 382.2 421.1 381.5 421.8 380.9 424.1 381 424.8 381.5 425.3 385 426.8 385.8 426.8 386.3 426.3ZM387.5 427.8 387.5 428.4 387.7 429 387.8 429 388.5 429.3 391.3 429.2 391.9 429 392.2 428.4 393.4 422.1 393.3 421.5 392.7 421 391.8 420.7 391.1 420.7 390.6 421.2ZM415.9 423.1 415.3 423.3 415 423.9 414.4 427 414.8 428 416.8 429.4 417.4 429.6 418 429.5 420 428.1 420.4 427.4 420.7 424.1 420.5 423.3 419.7 423ZM444 426.9 444.8 427.4 447.1 427.9 447.9 427.7 449.5 426.5 449.9 425.7 449.8 424.1 449.5 423.5 448.5 422.5 447.8 422.2 443.5 422.3 442.9 422.6 442.5 423.1 442.6 423.8ZM476.3 422.2 475.8 423 475.1 427.2 475.2 427.9 475.9 428.3 481.5 429.3 482.2 429.2 482.6 428.6 482.5 427.8 480.3 424.1 479.9 423.7 477.3 422.2 476.4 422.2ZM482.5 422.9 482.2 423.5 482.3 424.1 483.8 426.6 484.3 427 485 427 486.5 426.4 487.1 425.6 487.5 422.1 487.3 421.4 486.7 421 485.6 420.7 484.8 421ZM499.8 424.4 499.6 423.6 497.4 421.1 496.6 420.7 495.8 420.8 495.2 421.1 494.9 421.6 494.2 426.5 494.3 427.1 494.7 427.5 497 428.5 497.7 428.5 498.6 428.2 499.2 427.5ZM370.1 434.8 370.5 435.6 371.4 435.8 375.9 434.5 376.5 434 376.6 433.4 376.1 429.6 375.7 428.9 375 428.7 371 429.3 370.4 429.6 370.2 430.2ZM378.3 432.8 378.6 433.4 379.2 433.6 379.9 433.4 384.4 430 384.8 429.4 384.7 428.8 384.2 428.3 380.1 426.5 379.3 426.5 378.4 426.9 378 427.3 377.8 427.5 377.6 428.3ZM389.6 436.7 390.5 437.2 391.3 437.2 392 436.9 395.1 433.9 395.4 433 395.3 432.6 394.8 431.9 392.8 431 392.4 430.9 389.6 431 388.9 431.3 388.6 432 388.6 434.7 388.7 435.2ZM464 435.1 464.5 435.5 465.2 435.5 465.7 435.1 466.7 433.6 466.8 433.3 467.4 431.4 467.2 430.4 465.6 428.6 464.8 428.2 461.9 428.2 461.3 428.5 460.9 428.8 460.6 429.4 460.7 430.1ZM483.8 431 484.3 431.8 488 434 488.9 434.1 489.5 433.4 490.5 429.4 490.4 428.7 489.8 428.2 488.2 427.7 487.5 427.8 484.9 428.9 484.3 429.4 483.9 430.4 483.8 430.8ZM509.3 430 509.3 429.3 508.9 428.7 508.2 428.6 503.4 429.3 502.8 429.6 502.5 430.2 502.7 430.9 504.4 433.3 505.2 433.7 507.2 433.6 508.1 433ZM524 434.3 524.7 433.8 525.4 432.4 525.4 431.7 525 431.2 522.6 429.4 521.7 429.3 519 430.4 518.4 431.2 518.1 433.9 518.4 434.8 519.2 435.1ZM536.8 432.9 537.5 433.1 538.1 432.7 539.8 430.3 540 429.6 539.7 429 538.1 427.4 537.5 427.1 536.8 427.3 533.9 429.4 533.5 430.3 534 431.1ZM364.1 441.5 363.8 442.2 364.2 442.9 367.4 445.4 368.2 445.6 368.9 445.1 370.4 442.2 370.5 441.4 369.5 438.3 369.1 437.8 368.4 437.6 367.9 437.7 367.4 438ZM395.9 440.8 396.7 441.1 397.5 440.6 399 438 399.1 437.3 398.7 436.7 397.2 435.5 396.5 435.3 395.9 435.5 394 437.3 393.7 438 393.9 438.7ZM421.8 436.4 421.5 436.1 419.5 435.4 418.8 435.3 418.3 435.8 415.5 440.3 415.4 441 415.7 441.6 416.4 442.2 417.1 442.5 421.4 442.5 422.1 442.2 422.4 441.6 422.9 438.1 422.6 437.3ZM434 436 433.7 435.2 432.3 434 431.6 433.8 430.9 434.1 428.6 436.8 428.4 437.5 428.7 438.2 430.4 439.8 431.1 440.1 433.1 440.1 433.8 439.8 434.1 439.1ZM458.5 436.5 457.7 436.5 457.2 437.1 457.3 437.9 459.7 441.9 460.3 442.4 461.1 442.2 463.7 440.4 464.1 439.6 464.1 439.1 463.4 438.2ZM474.5 439.7 475.1 440.5 476.4 441.2 477.3 441.2 479.2 440.2 479.7 439.4 479.9 437.1 479.7 436.4 479.1 436 476.2 435.3 475.5 435.4 475 435.9 474.4 437.1 474.3 437.7ZM526.6 441.2 527.2 441.3 528 441.2 528.8 440.6 529.7 438.1 529.6 437.2 527.9 434.6 527.3 434.2 526.7 434.2 526.2 434.7 525.9 435.2 525.9 435.4 525.2 439.7 525.3 440.3 525.8 440.8ZM543.6 440.6 543.5 440 542.9 439.6 539.9 438.6 539.1 438.7 538.6 439.3 537.7 442 537.7 442.6 538.1 443.1 540.5 444.9 541.1 445.1 541.7 444.9 543.2 443.8 543.6 443ZM426.6 445.4 426.2 446.1 426.5 446.8 427.2 447.1 429.7 447.1 430.5 446.8 433.6 443.5 433.9 442.8 433.6 442.1 432.9 441.8 431 441.8 430.4 442.1ZM438.4 444.9 437.9 444.1 436.9 443.6 436.2 443.5 435.7 443.8 434.1 445.5 433.8 446.2 434.1 446.9 434.8 447.1 437.5 447.1 438.2 446.8 438.5 446.1ZM451.6 445.2 451.2 444.4 450.3 444.3 448.9 444.8 448.4 445.2 448.2 445.8 448.2 446.2 448.5 446.9 449.2 447.1 450.6 447.1 451.3 446.9 451.6 446.2ZM477.1 446 477.3 446.8 478.1 447.1 482.5 447.1 483.2 446.8 483.5 446.1 483.3 443.5 482.8 442.7 480.9 441.7 480 441.7 478.1 442.7 477.5 443.4ZM491.9 443.8 491.2 444.5 490.7 445.9 490.9 446.7 491.7 447.1 494 447.1 494.7 446.8 494.8 446.7 495 446.1 494.8 445.5 493.8 444 493.3 443.6 492.7 443.6ZM534 446 534.2 446.8 535 447.1 537.7 447.1 538.4 446.8 538.7 446.1 538.3 445.3 536.9 444.3 535.9 444.2 534.6 444.9 534 445.6Z"/><path fill="#b4b4b4" d="M392.3 317.9 391.7 318.1 391.3 318.8 391.6 319.5 393.5 321.7 394.2 322 394.9 321.8 395.2 321.1 395.3 318.9 395 318.2 394.3 317.9ZM438.9 318.3 438 317.9 435.4 317.9 434.8 318.1 434.4 318.6 434.1 320.4 434.2 321 434.7 321.5 435.9 321.9 436.3 322 439.2 321.6 439.8 321.4 440.1 320.8 439.9 320.1ZM453.8 317.9 453.2 318.1 452.8 318.6 452.9 319.3 453.4 320.4 454 320.9 456.8 321.7 457.5 321.6 458 321.1 458.8 319.2 458.8 318.6 458.4 318.1 457.8 317.9ZM380.7 322.4 380.6 323.4 381.2 324.8 381.9 325.4 384.6 326 385.5 325.8 385.8 325 385.5 321.8 385.1 321.2 383.8 320 383.1 319.8 382.4 320.2ZM404.2 325.7 404.8 326.1 405.5 326 405.9 325.5 407.5 321.1 407.5 320.4 407.1 319.9 406.4 319.8 404.3 320.2 403.6 320.8 402.8 323 402.9 323.9ZM429.2 325.7 429.8 325.2 430.3 323.7 430.3 323 429.9 322.5 426.3 320.3 425.6 320.2 424.9 320.6 422.7 324.1 422.5 324.8 422.7 325.8 423.3 326.6 424.8 327.1 425.5 327.1ZM444.5 322.1 444.3 323 444.8 323.7 448.7 326 449.5 326.1 450.1 325.6 451.8 321.9 451.8 321.1 451.3 319.8 450.9 319.4 450.3 319.2 447.4 319.3 446.7 319.7ZM475.3 322.4 474.7 323.1 474.3 326.5 474.8 327.5 477.8 329.3 478.5 329.4 479.1 329 479.3 328.3 478.7 323.4 478.5 322.9 478 322.6 476.3 322.1 475.6 322.2ZM358.7 328.1 358.3 328.6 358.4 329.3 359.6 331.7 360 332.2 360.6 332.3 364 331.8 364.7 331.5 364.9 330.8 364.7 326.2 364.6 325.8 364.4 325.5 363.8 325 363 325.2ZM387.6 329.7 387.1 329.2 386.5 329.1 385.9 329.5 382.7 333.1 382.5 334 383.1 334.7 385.5 335.6 386.2 335.6 386.7 335.2 388.3 332.5 388.3 331.6ZM402.2 331.5 401.7 330.8 401 330.7 398.3 331.3 397.7 331.7 397.2 332.5 397.1 333.4 397.8 334 400.8 334.8 401.5 334.7 402 334.2 402.3 333.5 402.4 332.9ZM487.7 329.5 486.6 329.6 485.8 330.4 485.5 331.2 485.8 334.2 486.1 334.8 486.7 335.1 491.1 335.3 491.8 335.1 492.1 334.6 492.1 333.9 491 331.3 490.5 330.8ZM499.3 326.1 498.9 327.1 500.1 333.4 500.6 334.1 501.4 334.1 503.6 333.3 504.2 332.7 505.7 329.1 505.7 328.4 505.2 327.9 500.9 325.6 499.8 325.7ZM538.5 335.1 539.3 334.4 540.3 330.4 540.2 329.7 539.6 329.2 534.9 328.2 534 328.4 532.9 329.3 532.6 330.3 533.6 334.1 533.9 334.6 534.5 334.9 537.7 335.2 538 335.2ZM541 334.4 541.1 335.1 541.6 335.6 542.3 335.6 542.9 335.4 543.4 335.1 543.6 334.5 543.6 332.2 543.4 331.5 542.8 331.2 542.1 331.4 541.7 331.9ZM455.7 339.9 455.7 340.6 456.1 341.1 456.8 341.3 461.3 340.5 462 340.1 462.1 339.3 461.8 338 461.5 337.5 460.9 337.2 457.6 336.9 457 337 456.6 337.5ZM463.3 336.3 463.3 336.9 463.7 338.7 464 339.2 464.6 339.5 470 339.8 470.7 339.6 471.1 339 471.2 338.3 471.1 337.6 468.4 333.2 467.9 332.8 467.1 332.9 464.4 334.2 464 334.7ZM480.7 343.3 481.5 343.4 483.7 342.8 484.3 342.4 484.4 341.7 484.1 338.5 483.7 337.8 483 337.6 481.5 337.7 480.6 338.4 479.5 341.7 479.6 342.4 480 342.9ZM486.8 336.8 486 337.1 485.7 337.9 486.2 342.1 486.7 342.8 487.3 343.1 488.4 343.1 491.3 341 491.7 340.1 491.6 338 491.4 337.3 490.7 337ZM525.2 335.6 524.4 335.4 523.7 335.7 523.5 336.5 523.7 338 524.1 338.7 524.8 338.9 526 338.7 526.6 338.4 526.8 337.7 526.5 337ZM357.9 349.5 358.1 350.2 358.7 350.5 359.3 350.4 360.7 349.7 361.2 348.9 361.5 345.3 361.2 344.6 360.4 343.6 359.8 343.3 359.1 343.4 358.3 343.9 357.9 344.8ZM391.4 347.8 391.5 348.5 391.9 349 392.6 349.1 395.4 348.5 396 348 398 344.1 398.1 343.3 397.5 342.7 395.3 341.8 394.5 341.9 393.4 342.4 392.9 343ZM427.2 344.8 426.3 344.9 425.8 345.7 425.8 349 426.1 349.7 427.8 351.4 428.6 351.7 429.3 351.4 431.6 348.8 431.8 348 431.7 347.1 431.1 346.2ZM477.9 349.7 478.8 349.6 479.3 349 479.9 345.6 479.8 345 479.4 344.5 478.2 343.8 477.8 343.7 476.5 343.6 475.7 343.8 475.4 344.6 475.6 348.2 475.8 348.8 476.3 349.1ZM497.2 344.5 497 343.9 496.5 343.5 493.2 342.2 492.2 342.4 489.5 344.3 489.2 344.8 489.2 345.4 490.1 348.5 491 349.2 491.3 349.2 491.8 349.1 496.5 346.9 497.1 346.1ZM501.4 342.3 500.4 342.4 499.3 343.4 498.9 344.1 498.7 346.4 499 347.2 501.4 349.5 502 349.8 502.7 349.6 505.3 347.9 505.7 347.4 505.7 346.8 504.8 344.1 504.2 343.5ZM531.2 343.2 530.4 342.8 529.6 343.2 527.3 346.2 527.1 347 527.5 347.6 530.4 349.7 531.3 349.8 533.1 349 533.6 348.5 533.6 347.7 532.4 344.7 532.2 344.4ZM372.8 354.9 373.2 355.7 374.1 355.9 377.9 355 378.4 354.6 378.6 354 378.6 350.3 378.4 349.7 377.8 349.4 377.2 349.2 376.5 349.3 373.3 351.1 372.8 351.9ZM380.3 354.6 380.7 355.3 381.7 356.1 382.6 356.3 384.1 355.9 384.7 355.3 386.6 350.6 386.6 349.8 386.1 349.3 383 348 382 348.1 380.7 349 380.3 349.8ZM479.3 355 479.4 355.6 479.9 356 480.1 356.1 480.9 356 484.8 354.2 485.3 353.6 485.2 352.8 484.6 352.3 480.9 351.2 480 351.3 479.6 352ZM538.9 355.2 539.3 355.8 540 355.9 542.8 355.5 543.4 355.1 543.6 354.5 543.6 350.2 543.4 349.6 542.9 349.2 541.1 348.7 540.3 348.8 538.5 349.9 538 350.3 538 350.9ZM360.1 363.8 360.7 364.3 361.4 364.2 365.3 362.1 365.9 361.2 365.9 359.3 365.5 358.6 364.8 358.3 360.4 358.5 359.7 358.8 359.4 359.5 359.5 362.6 359.6 363.1ZM392.7 365.2 393.8 364.8 394.8 363.5 394.9 362.4 393.5 359.5 393 359.1 392.4 359 390.9 359.4 390.2 360 389 363.2 389.1 364 389.8 364.5ZM395.5 357.2 394.9 357.8 394.9 358.6 396.5 361.9 397.3 362.4 401.2 363 402 362.7 402.3 361.8 401.3 356.5 400.8 355.8 400 355.7ZM433 361.6 433.4 362.4 434.2 362.6 440.2 361.2 440.7 360.9 441 360.4 441.1 359.6 440.9 358.9 440.4 358.5 437.6 357.4 436.8 357.5 433.8 358.9 433.2 359.7ZM442.6 361 442.8 361.7 443.4 362.1 446.5 362.7 447.3 362.5 447.7 361.8 448 359.3 447.8 358.7 447.2 358.3 444.9 357.6 444 357.8 443.2 358.4 442.8 359.1ZM449.2 363 449.4 363.6 449.9 364.1 450.5 364.1 454.1 362.9 454.7 362.4 454.7 361.7 453.6 358.1 453.1 357.5 452.3 357.5 450.3 358.3 449.7 359.1ZM455.7 356.8 455.4 357.3 455.4 357.9 456.7 362.3 457 362.8 457.8 363.4 458.4 363.6 459 363.4 459.8 362.9 460.2 362.2 460.8 357.6 460.6 356.8 459.9 356.4 457.2 356.1 456.5 356.3ZM469.2 361.5 469.5 362 470.1 362.3 472.6 362.6 473.3 362.4 473.7 362 475.2 358.3 475.2 357.5 474.8 357 472.8 356 472.1 355.9 471.5 356.4 469.3 360.3 469.1 361ZM497.1 359.7 496.9 359.2 496.4 358.9 490.3 357.5 489.5 357.7 489.1 358.4 488.9 359.8 489 360.4 489.5 360.8 494.1 363.1 495.1 363 496.9 361.6 497.2 360.7ZM507.1 356.5 506.5 356.7 506.1 357.2 505.1 360.5 505.2 361.2 505.7 361.7 507.8 362.6 508.4 362.7 508.9 362.4 509.9 361.4 510.2 360.6 509.9 357.6 509.6 357 509 356.7ZM520.6 356.2 520 356.5 519.8 357.1 519.5 359.5 519.6 360.1 520.2 360.5 522.8 361.3 523.4 361.3 523.9 360.9 525.8 357.7 525.9 357 525.4 356.4 524.2 355.7 523.5 355.6ZM388.7 366 388 366.1 387.6 366.6 387.5 367.3 388.2 369.4 388.7 369.9 391.1 371.4 392 371.4 392.5 371.3 393 370.9 393.1 370.3 393 367.7 392.7 367.1 392.2 366.8ZM422.1 364.7 421.6 365.4 421.7 366.2 424.3 369.6 424.8 369.9 425.5 369.9 429.1 368.5 429.7 367.8 430.3 365.3 430.1 364.4 429.4 364 424.6 363.8 424.1 363.9ZM439 368.2 439.7 368.5 440.4 368.3 440.8 367.6 441.1 364.1 440.8 363.3 439.9 363 437 363.7 436.4 364.1 436.2 364.7 436.5 365.4ZM509.8 364 509.5 364.7 509.5 367.3 510 368.2 514.6 370.5 515.2 370.6 515.8 370.3 516.6 369.4 516.8 368.6 516.1 363.5 515.8 362.9 515.2 362.6 512 362.3 511.1 362.6ZM367.8 376.1 367.5 376.9 368 377.6 368.8 377.7 371.6 376.6 372.2 376.1 372.2 375.3 371.7 374.8 370.5 374.2 369.9 374.2 369.4 374.4ZM375.4 375.8 375.5 376 375.6 376 376 376.4 376.5 376.6 377.1 376.7 381.8 375.6 382.3 375.2 382.5 374.7 382.6 374.2 382.4 373.7 379.8 369 379.2 368.5 378.5 368.5 378 369 375.3 374.6 375.3 375.4ZM441.7 378.1 442.1 378.6 442.6 378.9 443.4 379 444 378.5 445.8 375.5 445.8 374.7 445 372.1 444.3 371.4 441.7 370.7 441.1 370.7 440.6 370.9 440.1 371.2 439.5 371.9 439.4 372.9ZM514.2 379.6 515 379.7 515.6 379.3 517.6 376.2 517.8 375.6 517.6 375 516.4 373.6 515.5 373.2 514.7 373.7 512.7 377.4 512.6 378.2 513 378.8ZM366.5 380.4 366 380.9 365.9 381.5 366.2 382.1 367.9 383.8 368.7 384 369.5 383.9 370.2 383.4 372.2 380.1 372.4 379.3 371.8 378.7 371 378.7ZM402.5 379.1 401.7 379.7 400.5 383 400.6 383.9 401.3 384.4 404.2 384.6 404.8 384.4 405.2 383.9 406.2 381.2 406.2 380.5 406.1 380.1 405.5 379.5 404.2 379 403.7 378.9ZM442.7 383.1 443.1 382.6 443.2 382 443.1 381.5 442.6 380.9 441.2 380 440.6 379.9 435.7 380.4 435.1 380.7 434.9 381.3 434.7 383.2 435.2 384.2 437.9 385.6 438.9 385.6ZM499.6 383.3 500.3 383.2 501.2 382.8 501.7 382 502.2 377.9 501.9 377.1 501.1 376.8 497.8 377.1 496.9 377.6 496.4 378.8 496.3 379.5 496.9 382 497.6 382.7ZM518.2 383.8 518.9 383.9 519.7 383.6 520.4 382.8 521 377.9 520.9 377.2 520.3 376.8 520.2 376.8 519.5 376.8 519 377.2 516.5 381 516.4 381.9 516.8 382.9 517.3 383.5ZM526.2 382.3 526.7 381.4 526.5 378 526 377.2 525.3 376.8 524.5 376.6 523.5 377 522.8 377.8 522.1 382.6 522.3 383.2 522.9 383.7 523.3 383.8 524.1 383.7ZM360 386.5 359.7 387.1 359.8 387.7 361.4 390.9 362.2 391.4 363.1 391.5 363.6 391.5 364.7 391 365.3 390.4 366.8 385.8 366.5 384.8 364.9 383.3 364.2 383 363.5 383.3ZM393.4 387.4 392.7 387.2 392 387.6 389 391.7 388.8 392.5 389.4 393.2 391.5 394.2 392.3 394.2 392.8 393.6 394.6 389.1 394.6 388.5 394.3 388ZM406.4 385.5 406.4 385.8 406.4 388.1 406.8 388.9 407.7 389.4 408.5 389.6 409.1 389.1 411.3 385 411.3 384.3 410.8 383.7 408.7 382.6 407.9 382.5 407.3 383.1ZM485.7 393.7 486.1 394.2 486.7 394.3 490 393.7 490.8 393 491 392.2 491 391.6 489.7 387.7 489.2 387.1 488.9 387 488.3 386.9 487.8 387.2 484.7 390.4 484.5 390.9 484.6 391.5ZM500.8 390.2 501 390.8 501.5 391.2 502.2 391.1 503.9 390.4 504.3 389.9 506 386.6 506.1 385.8 505.5 385.2 502.9 384.2 502.1 384.3 501.4 384.6 500.9 385.5ZM370.8 393.7 370.1 394.1 370 394.9 370.7 397.9 371.1 398.5 371.7 398.7 375.8 398.8 376.6 398.5 376.8 397.7 376.5 393.6 376.1 392.9 375.3 392.7ZM396.4 399 397.1 399 399.8 397.5 400.3 396.6 400.1 392.6 399.6 391.7 397.2 390.3 396.4 390.3 395.8 390.8 393.9 395.5 393.9 396.1 394.5 398 395.2 398.7ZM420.8 398.4 421.3 398 421.5 397.5 421.7 393.1 421.4 392.3 419 390.1 418.4 389.8 417.7 390 416.5 390.9 416.1 391.7 416.1 398.5 416.4 399.2 417.1 399.5 417.2 399.5 417.5 399.4ZM478.6 395.1 479.1 395.9 481.3 397.4 482 397.6 482.6 397.3 484.1 395.7 484.3 395.2 484.2 394.6 483 392.1 482.1 391.5 479.9 391.5 479.3 391.7 478.9 392.2 478.6 393.4 478.5 393.7ZM502.8 392.7 502.4 393.1 502.2 393.7 502.6 396.3 503.1 397.1 504 397.6 505.1 397.4 507.9 395.2 508.2 394.3 507.7 393.5 505.2 392.1 504.3 392ZM536.2 392.3 535.4 392.6 535.1 393.4 535.3 396 535.6 396.7 536.2 397 540.4 397.2 541.3 396.8 541.7 396.2 541.9 395.2 541.1 393.4 540.3 392.8ZM359.6 405.5 360.3 404.7 360.4 404.2 360.1 403.4 359.6 402.8 358.8 402.5 358.1 402.8 357.9 403.5 357.9 404.7 358.3 405.5 359.2 405.7ZM368.1 407 368.9 406.6 369 405.7 368.1 402.6 367.7 402.1 367.1 401.9 365.3 402 364.7 402.2 362.5 403.6 362.1 404.4 362 405.4 362.1 406.1 362.6 406.8 363.5 407.3ZM378 402.5 377.5 402 376.8 402 376.3 402.5 374.1 406.1 374 407 374.6 407.6 377.1 408.5 378 408.4 379.7 407.3 380.1 406.7 380 405.9ZM446.6 402.3 446.3 401.3 443.2 398.7 442.4 398.5 441.7 398.6 441.1 398.8 440.8 399.4 440.1 403.5 440.2 404.1 440.7 404.6 441.3 404.9 441.9 404.9 445.6 404.2 446.1 404 446.4 403.4ZM454.9 403.9 455.3 403.3 455.7 402.1 455.6 401.4 455.1 400.9 452.3 399.7 451.3 399.8 448.8 401.6 448.4 402.3 448 404.2 448.2 405 449.3 406.4 449.9 406.7 450.6 406.6ZM469.9 405.3 470 405.9 470.6 406.3 472.1 406.9 472.9 406.8 476 405.2 476.6 404.4 476.2 403.5 472.7 400.4 471.9 400.1 471.6 400.2 470.9 400.6 470.5 401 470.3 401.5ZM478.4 397.5 477.3 397.4 475.2 398.6 474.7 399.4 475.1 400.2 478.8 403.5 479.5 403.8 480.9 403.7 481.6 403.4 481.7 403.3 482 402.4 481.5 400 481.1 399.4ZM506.7 404.8 506.8 405.7 507.6 406.1 511.2 406.4 512.1 406.1 512.3 405.2 511.8 404.5 509.8 403.5 509.3 403.4 507.8 403.5 507.2 403.7 506.9 404.2ZM371.3 411.1 371.5 411.7 372 412.2 374.8 413.2 375.6 413.1 376.1 412.5 376.5 411 376.4 410.3 375.8 409.8 372.8 408.8 372 408.9 371.5 409.6ZM384.8 409.3 384.1 408.6 382.2 408.1 381.4 408.2 378.8 409.9 378.3 410.5 377.5 414.4 377.5 414.9 377.5 415.1 378 415.6 378.2 415.7 379.2 415.6 384.7 411.5 385.1 410.5ZM392.7 412.6 393 412.3 393.9 410.3 394 409.5 393.4 408.9 388.5 407 387.5 407.2 386.8 407.9 386.5 408.9 386.9 411 387 411.3 389 414.2 389.7 414.6 390.5 414.4ZM424.3 412.6 424.8 413.2 425.6 413.3 428.5 412.4 429.1 411.9 431 407.6 430.9 406.7 430.2 406.2 426.1 405.8 425.5 406 425.1 406.5 423.8 410.3 423.8 410.9ZM460.4 410.6 459.8 411.2 459.8 412 461.6 415.4 462.1 415.9 462.9 415.8 465.5 414.6 466 413.6 465.9 410.2 465.5 409.4 464.6 409.3ZM505.4 407.9 504.9 407.3 504.2 407.2 502.1 407.7 501.5 408.1 501.3 408.7 501.3 413 501.6 413.7 502.2 414 505.1 414.4 505.7 414.3 506.3 413.9 506.8 413.4 506.8 412.8ZM367.8 420.7 368.3 420.1 368.2 419.3 366.9 416.8 366.3 416.4 365.1 416 364.4 416 363.9 416.5 361.3 421.1 361.3 422 362 422.5 362.9 422.8 363.5 422.7ZM368.8 415.4 368.5 415.9 368.6 416.5 369.7 418.4 370.5 419 371.5 419 372.2 418.8 374.9 416.6 375.2 416 375.1 415.4 374.6 414.9 371.2 413.7 370.1 413.9ZM393.3 419.4 394 419.4 394.6 418.9 395.9 415.8 395.9 415 395.3 414.5 394.2 414.2 393.3 414.3 390.8 416.4 390.4 417.3 390.4 417.5 390.6 418 390.9 418.3 391.3 418.7ZM398.8 421 399.6 420.9 400 420.3 400.8 416.6 400.6 415.7 399.9 414.9 399.3 414.6 398.6 414.7 398.5 414.8 398 415.2 396.3 419.2 396.3 420 397 420.5ZM421.2 421.3 421.8 421.1 423.8 419.6 424.3 418.7 423.9 415.9 423.5 415.2 422.7 415.1 420.2 415.8 419.6 416.2 417.3 419.8 417.2 420.5 417.5 421.1 418.2 421.3ZM520.5 416.5 520 417 518.9 419.7 519.1 420.8 521.7 423.4 522.4 423.7 523.2 423.3 524.3 421.9 524.5 421.1 523.6 416.2 523 415.5 522.1 415.5ZM541.7 414.6 541.6 415.7 541.8 416.1 542.4 416.6 543.3 416.4 543.6 415.6 543.6 415 543.3 414.3 542.6 414 541.9 414.4ZM365.4 423.7 364.9 424.3 364.9 425 366.1 427.4 366.7 428 367.9 428.2 368.5 428.2 369 427.7 369.1 427 368.4 423.6 367.8 423 367 422.9ZM422.2 426.2 422.5 427 423.3 427.3 425.6 427 426.3 426.7 426.5 426.1 426.6 422.8 426.3 422.1 425.7 421.4 425.1 421.1 424.4 421.3 423 422.3 422.5 423ZM435.3 425 435.5 424.4 435.4 423.8 434.9 423.4 432.7 422.5 432.2 422.5 429.2 422.8 428.6 423.1 428.3 423.7 428.2 427.1 428.4 427.7 429.3 428.9 429.7 429.2 429.9 429.3 430.5 429.4 431.1 429.1ZM440.4 423.1 439.7 422.5 438.9 422.7 437.9 423.4 437.6 424 437.5 424.4 437.6 425.1 439.5 428.4 440.1 428.8 440.9 428.7 441.8 428.2 442.2 427.6 442.2 426.9ZM491.8 419.7 491.2 419.5 490.6 419.8 489.7 420.6 489.3 421.3 488.8 425.3 489 425.9 489.5 426.4 491.2 426.8 492 426.7 492.5 426 493.3 421.2 493.2 420.6 492.8 420.2ZM531.4 427 531.5 427.8 532.2 428.2 532.9 428 535.4 426.2 535.8 425.6 535.7 425 535.3 424.5 533.4 423.6 532.5 423.6 532 424.3ZM538.6 424.2 538.4 424.8 538.6 425.4 540.3 427.2 540.9 427.5 541.6 427.3 542 426.7 543.5 420.8 543.4 420.2 543 419.7 542.8 419.6 542.1 419.5 541.5 419.9ZM357.9 433.9 358.2 434.7 359 434.9 359.7 434.5 360.3 433.5 360.5 432.7 360.4 432.5 360 432 359.4 431.6 358.7 431.4 358.1 431.7 357.9 432.4ZM362.9 431.5 362.5 432 362.5 432.6 362.9 433.1 366.9 435.8 367.6 435.9 368.2 435.6 368.4 435 368.5 430.9 368.2 430.3 367.7 429.9 366.3 429.6 365.5 429.8ZM413.1 438.2 413.6 438.6 414.3 438.6 414.8 438.2 417.2 434.3 417.3 433.4 416.7 431.7 416.4 431.2 413.6 429.2 412.8 429 410.7 429.6 410 430.4 409.8 432.1 409.9 432.7ZM426.8 430.4 427.1 429.7 426.8 428.9 426 428.7 421.7 429.1 421.3 429.3 419 430.8 418.6 431.3 418.6 432 418.9 432.9 419.5 433.5 421.5 434.3 422.5 434.1ZM443.8 434.1 444.7 434.2 445.3 433.6 446.3 430.6 446.2 429.8 445.5 429.3 444.2 429.1 443.5 429.2 441 430.7 440.5 431.4 440.5 431.5 441 432.4ZM475.3 429.9 474.6 430.1 474.2 430.7 474.3 431.4 475.2 433 475.9 433.5 479.8 434.4 480.4 434.4 480.9 434 481.8 432.5 481.8 431.5 481.1 431ZM493.6 428.9 492.8 428.9 492.2 429.6 491 434.2 491.1 434.9 491.6 435.4 493.5 436.1 494.3 436.1 494.8 435.5 496.1 430.9 496 430.2 495.5 429.7ZM538.8 436.2 539.5 436.7 542.4 437.6 543.2 437.5 543.6 436.7 543.6 431.4 543.4 430.7 542.8 430.4 542.6 430.3 541.6 430.7 538.8 434.6 538.7 435.2 538.7 435.5 538.7 436ZM378.2 436.3 377.7 435.9 377 435.9 372.1 437.3 371.4 437.8 371.4 438.6 372.1 440.7 372.8 441.3 376.1 442.2 376.8 442.1 378.8 441 379.3 440.6 379.4 440 379.1 437.9 378.9 437.5ZM440.3 442.3 440.7 441.9 443.4 437 443.5 436.2 443.1 435.6 440 433.8 439 433.8 436.2 435.3 435.7 436.2 435.8 440.3 436 440.9 436.4 441.3 436.7 441.6 438.7 442.6 439.6 442.7ZM496.5 438.7 495.8 438.8 495.4 439.4 494.8 441.9 494.9 442.7 496.6 445.1 497.2 445.5 497.4 445.5 498 445.5 501.9 443.8 502.4 443.2 502.4 442.5 501.2 439.9 500.5 439.4ZM503.8 441.3 504.3 441.8 505 441.9 505.5 441.4 508.3 436.9 508.4 436.2 508.1 435.6 507.4 435.3 505.3 435.4 504.5 435.8 502.9 438.3 502.8 439.3ZM512.6 440.6 513.2 440.1 513.2 439.3 512.7 438.7 510.8 437.8 510.1 437.7 509.5 438.1 508.3 440.1 508.2 440.9 508.7 441.5 509.5 441.6ZM370.5 445.7 370.4 446.3 370.7 446.9 371.4 447.1 374.4 447.1 375.1 446.9 375.4 446.2 375.6 444.7 375.4 444 374.8 443.6 372.8 443.1 372.1 443.1 371.6 443.6ZM388 446 387.6 445.1 386.9 444.7 386.2 444.5 385.4 444.6 384.7 445.2 384.5 445.8 384.6 446.7 385.4 447.1 387 447.1 387.7 446.9 388 446.2ZM423 444.5 422.3 444.2 418.5 444.2 417.8 444.5 417.6 445.3 417.7 446.3 418.1 446.9 418.7 447.1 423.2 447.1 424 446.9 424.2 446.2 424 445.4ZM474.4 447.1 475 446.9 475.3 446.3 475.8 443.6 475.7 442.9 475.2 442.5 473.9 441.8 473.3 441.7 469.5 442.2 468.8 442.7 468.7 443.5 469.7 446.5 470 447 470.6 447.1Z"/><path fill="#a6a6a6" d="M396.9 321 397.1 321.7 397.7 322 400.3 322.5 400.9 322.4 401.4 321.9 402 320 402 319.2 401.5 318.4 400.7 317.9 398 317.9 397.3 318.1 397 318.8ZM412.8 317.9 412.1 318.1 411.8 318.8 412 319.5 413.4 321.2 414.4 321.6 416.1 321.2 416.7 320.8 416.8 320.1 416.6 318.7 416.3 318.1 415.6 317.9ZM418.6 320.8 419 321.4 420.5 322.5 421.3 322.6 421.9 322.2 423.7 319.4 423.9 318.7 423.5 318.1 422.9 317.9 419.4 317.9 418.6 318.2 418.4 319ZM479.2 321.2 479.7 321.2 480.7 320.9 481.4 320.2 481.7 319.1 481.6 318.3 480.8 317.9 478 317.9 477.4 318.1 477 318.7 476.9 319.6 477.1 320.3 477.6 320.7ZM490.6 319.3 491.1 319.9 492 319.9 492.3 319.7 492.9 319.1 492.7 318.2 491.9 317.9 491.5 317.9 490.7 318.2 490.5 319.1ZM366 322.7 365.5 323.3 365.5 324.1 365.9 324.6 366.5 325.1 371.4 326.2 372.2 326 372.6 325.3 372.9 322.8 372.8 322.2 372.4 321.8 370.7 320.9 369.9 320.9ZM395.5 324 395.2 324.6 395.3 325.3 397.5 329 397.9 329.4 398.5 329.5 401.8 328.8 402.4 328.3 402.8 327.8 403 327.3 402.8 326.7 401.4 324.7 400.8 324.3 396.7 323.6 395.9 323.8ZM411 321 410.4 320.6 409.7 320.7 409.3 321.2 407.7 325.7 407.7 326.4 408.3 326.9 409.3 327.3 409.9 327.4 410.7 327.2 411.4 326.5 412.3 323.4 412.2 322.5ZM468.8 320.9 468.1 320.9 467.5 321.4 466.1 324.9 466.2 325.8 468.2 328.7 468.8 329.1 469.5 328.9 472.1 327.4 472.6 326.6 473 323.4 472.9 322.7 472.4 322.3ZM482.1 322.6 481.3 322.5 481.2 322.5 480.6 322.9 480.5 323.6 481 328.2 481.2 328.8 481.8 329.1 483.8 329.4 484.6 329.1 485.8 328 486.2 327.4 486.3 325.8 485.8 324.8ZM508.6 326.7 508.4 327.5 509 328.1 512 329.3 512.6 329.4 513.1 329.1 514.9 327.2 515.2 326.6 515 326 513.1 323 512.8 322.7 512.4 322.5 511.6 322.4 511 322.8ZM372.9 328.7 372.2 328.1 367.7 327.1 366.8 327.3 366.5 328.1 366.6 331.6 367 332.3 367.6 332.8 368.7 333 373 331.1 373.5 330.5 373.4 329.7ZM413.5 334.2 414.1 334.3 414.6 334 416.3 332.3 416.6 331.4 416 330.7 412.1 328.8 411.5 328.7 411.2 328.8 410.6 329.2 410.4 329.8 410.3 332.2 410.9 333.1ZM419.2 330.7 418.8 331.3 419 332 421.6 335.9 422.2 336.3 423 336.1 425.8 334.3 426.2 333.7 426.2 333.1 424.7 329.3 424.1 328.7 422.8 328.2 421.8 328.4ZM431.9 334.7 432 335.4 432.5 335.8 435.2 336.8 436.2 336.6 438.6 334.5 438.9 333.6 438.7 332.1 438.3 331.4 436.2 330 435.8 329.9 434 329.5 433.3 329.7 432.9 330.3ZM493.2 330.1 492.8 330.7 492.9 331.3 493.7 333.4 494.1 333.9 494.7 334 497.3 333.7 498 333.3 498.2 332.6 497.5 328.8 497.2 328.3 496.6 328 495.9 328.2ZM386 338.2 385.4 337.4 380.6 335.5 380 335.4 379.5 335.5 379 335.8 378.8 336.3 378.5 337.9 378.8 338.8 381.8 341.5 382.4 341.8 383.1 341.5 385.7 339.4 386 338.4ZM407.3 336.4 406.6 335.5 404.6 334.7 403.9 334.7 403.3 335.3 403.1 335.8 403 336.4 403.4 339.3 403.7 339.9 404.4 340.2 406.4 340.1 407.1 339.8 407.4 339.1ZM431.4 344.5 432 344.6 432.6 344.2 435 340.8 435.2 340.2 435.1 339.2 434.9 338.7 434.5 338.3 432.5 337.6 431.4 337.9 427.8 341.7 427.6 342.6 428.2 343.3ZM472.7 339.7 473.2 340.7 474.5 341.5 474.9 341.7 476.9 341.9 477.5 341.7 477.9 341.2 478.9 338.1 478.9 337.4 478.5 336.9 477.4 336.1 476.3 336.1 473.3 338 472.8 338.7ZM502.3 335.6 501.8 336 501.6 336.5 501.6 339.8 502.2 340.7 504.6 341.8 505.6 341.6 507 340.3 507.3 339.8 507.8 337.9 507.8 337.3 507.4 336.8 505 335.1 504.1 334.9ZM509.2 339.4 509.2 340 509.7 340.5 512.6 342.1 513.7 342 515.3 340.7 515.7 340.2 515.6 339.6 514.9 337.5 514.5 337 514.4 336.9 513.6 336.8 510.2 337.5 509.5 338.2ZM521.6 335.5 521.3 334.9 520.8 334.6 520 334.5 519.3 334.7 517.1 336.5 516.7 337 516.7 337.6 517.5 339.6 517.9 340.2 519.1 340.8 520.1 340.8 521.6 339.9 522.1 338.9ZM408.3 342 407.8 341.8 403.4 341.9 402.8 342 402.2 342.5 401.8 343 401.9 343.6 403.4 347.7 403.8 348.1 404.4 348.3 406.9 348.2 407.8 347.5 409.3 343.5 409.3 342.8 408.9 342.3ZM464.5 341.2 463.7 341.5 463.5 342.3 464 347.2 464.4 347.9 465.5 348.7 466.3 348.9 467 348.4 469.7 342.9 469.8 342.2 469.5 341.7 468.9 341.4ZM394.1 350.5 393.4 351 393.3 351.8 394.3 354.8 394.8 355.4 395.6 355.4 399.3 354.2 399.9 353.7 400 353 399.6 352.4 396.6 350.3 395.8 350.1ZM402 353.3 402.3 354 403 354.3 407.6 354.1 408.1 353.9 408.5 353.4 408.8 352.4 408.7 351.6 408 350.4 407.1 349.9 404.2 350 403.3 350.5 402.1 352.4 402 352.9ZM445.6 350.7 445 351.1 444.8 351.7 445 355.2 445.2 355.7 445.7 356.1 448.6 356.9 449.3 356.9 450.5 356.4 451.1 355.8 451.1 355.1 449.7 351.7 449.1 351.1 447.1 350.5 446.5 350.4ZM467.6 351.2 466.9 351.1 466.3 351.6 464.9 354.4 464.8 355 465 355.5 467.1 358 468 358.3 468.7 357.8 470.4 354.8 470.5 353.9 469.8 352.5 469.4 352.1ZM494.3 349.8 493.8 350.5 494 351.4 497.3 355 498 355.3 498.8 354.9 500.7 352.6 500.9 352.1 500.9 352 500.6 351.1 498.2 348.7 497.6 348.4 497 348.5ZM510.4 348.3 509.9 348.8 509.9 349.6 511.3 353 511.8 353.6 512.5 353.6 515.4 352.6 516 351.8 516.1 351.3 515.7 350.3 512.2 348 511.2 347.9ZM525.8 348.5 525.1 348.3 524.4 348.7 524.2 349.4 524.8 353.6 525.3 354.3 526.4 355 527.2 355.1 527.8 354.6 529.2 352 529.3 351.3 528.9 350.7ZM378.1 365.5 379.1 365.4 380 364.8 380.4 364.1 380.9 358.3 380.6 357.4 379.7 356.7 378.8 356.5 375.3 357.4 374.7 357.8 374.5 358.5 375.2 363.5 375.8 364.3ZM385.6 364.8 386.2 364.7 386.5 364.5 387 364 388.4 360 388.4 359.3 387.9 358.8 385.5 357.6 384.7 357.5 383.3 357.9 382.8 358.2 382.6 358.8 382.1 363.3 382.4 364 383 364.4ZM487.5 356 486.9 355.4 486.1 355.4 482.6 357.1 482.1 357.7 482.2 358.5 483.7 361.3 484.3 361.8 485 361.7 486.7 360.7 487.2 359.9 487.6 356.5 487.5 356.1ZM538.3 358.5 537.8 357.8 537 357.7 533.1 359.1 532.6 359.6 532.5 360.2 532.6 360.6 533.2 361.4 537.4 363.2 538.1 363.3 538.7 362.9 538.8 362.2ZM381.9 366 381.2 366.1 380.8 366.7 380.9 367.4 383.1 371.4 383.8 371.9 384.6 371.7 386.1 370.5 386.5 370 386.4 369.4 385.7 367.1 384.9 366.4ZM433.8 364.9 433.1 364.6 432.4 364.8 432 365.4 431.3 368.3 431.5 369.1 433.6 372.2 434.1 372.5 434.8 372.5 437.4 371.6 437.8 371.3 438.1 370.9 438.3 370.3 438.1 369.6ZM448 365.1 447.3 364.6 444 363.9 443.2 364.1 442.8 364.8 442.4 368.2 442.6 368.9 443.1 369.3 444.7 369.8 445.7 369.6 447.6 367.9 447.9 367.3 448.2 366 448.1 365.3ZM459.6 369.8 460 370.5 460.7 370.7 464.8 370.3 465.7 369.7 467.2 365 467.1 364.1 466.2 363.7 461.5 363.9 461 364.1 459.7 365 459.3 365.9ZM475.9 364.3 475.3 364.3 474.8 364.8 474.7 365.5 475.4 368.2 475.8 368.8 476.4 369 477.1 368.7 479.2 366.5 479.5 365.9 479.3 365.2 478.7 364.8ZM494.4 368.3 494.5 369.1 495.2 369.6 499.9 370.1 500.6 369.9 501 369.3 500.9 368.6 498.1 364.2 497.4 363.7 496.6 363.9 495.7 364.6 495.3 365.2ZM529.9 365.4 529.7 364.8 529.1 364.5 526.1 364.1 525.3 364.3 524.9 365.1 525 367.1 525.3 367.9 525.5 368.1 526.4 368.4 529.2 367.9 529.9 367.6 530.1 366.9ZM534.5 368.9 535.3 368.5 536.8 366.1 536.9 365.2 536.4 364.6 533.1 363.2 532.3 363.1 531.8 363.6 531.7 363.8 531.6 364.4 531.8 367.5 532.3 368.2 533.5 368.9 534.1 369ZM368 371.9 367.4 371.5 366.7 371.5 362.2 373.8 361.8 374.2 361.7 374.9 362.1 376.9 362.5 377.5 362.6 377.6 363.3 377.8 363.9 377.5 368 373.4 368.3 372.8 368.1 372.1ZM390 376.6 389.9 377.3 390.3 377.9 392.5 379.6 393.1 379.8 393.8 379.6 395.9 377.7 396.2 377.2 396.1 376.5 394.6 373.3 394.1 372.8 393.4 372.8 392.4 373.1 391.8 373.5ZM421.5 368.8 420.8 368.4 420 368.8 417.5 372 417.3 372.8 417.6 374.3 418.2 375 421.8 376.5 422.7 376.4 423.2 375.7 423.6 371.8 423.4 371.1ZM449.4 369.4 448.3 369.5 446.9 370.7 446.7 371.8 447.4 373.9 448.1 374.6 450.9 375 451.8 374.7 453.5 372.8 453.8 371.9 453.2 371.2ZM466.2 377.1 466.5 376.2 465.7 372.8 465.3 372.2 464.6 372.1 461.8 372.3 461.2 372.7 460.9 373.4 461.1 377.3 461.7 378.1 463.5 379 464.1 379.1 464.6 378.8ZM535.6 371 535 370.7 534.4 370.8 533.9 371.3 532.2 375.2 532.2 375.8 532.5 376.4 534.5 377.8 535.6 377.9 538.5 376.1 539 375.4 538.8 374.6ZM376.5 379.4 376 378.9 375.3 378.8 374.8 379.3 372.1 383.5 372 384.3 372.5 384.9 375 386.6 375.7 386.7 376.4 386.3 377.9 383.9 378 383ZM412.5 382.6 413.4 382.6 414 381.9 414.4 378.4 414.1 377.5 413.3 377.2 409.7 377.5 409.1 377.8 408 378.8 407.8 379.8 407.8 379.9 408.3 380.5ZM427.1 378.1 426.5 378.5 426.3 379.2 426.7 379.9 431.4 383.5 432.1 383.7 432.7 383.4 433 382.8 433.3 380.1 433.2 379.6 432.4 378 431.9 377.6 431.3 377.5ZM471.7 380.6 471.8 379.7 471.2 379 468.4 378.2 467.4 378.4 465.8 380 465.6 380.5 465.7 381.1 466.5 382.7 467.2 383.2 468.9 383.5 469.9 383.1ZM488.5 384.1 488.6 384.7 489 385.1 489.8 385.5 490.8 385.5 494.7 383.2 495.1 382.7 495.2 382.1 494.7 380.4 494 379.6 490.4 378.8 489.6 378.9 489.2 379.6ZM505.5 376.4 504.9 376.3 504.3 376.6 504 377.2 503.5 381.8 503.6 382.5 504.1 382.9 505.9 383.5 506.5 383.5 507.1 383.1 509.1 379.7 509.2 379 508.7 378.4ZM528.4 381.4 528.9 382.2 532 383.7 532.9 383.7 533.4 383 533.9 380.2 533.5 379.2 531 377.4 530.2 377.2 529 377.5 528.4 377.8 528.2 378.5ZM428.7 388.5 428.4 388.8 428.2 389.3 428.1 390 428.6 390.6 430.3 391.6 431 391.7 431.6 391.3 431.8 390.6 431.6 388.2 431.3 387.6 430.6 387.3 430 387.5ZM464.2 389.6 464.3 390.5 464.9 391.2 465.5 391.5 467.9 391.8 468.5 391.7 468.9 391.2 470.2 387.8 470.2 387 469.6 385.7 468.8 385.2 466.9 384.9 466.1 385.2 465.2 386.1 464.9 386.5ZM476.2 392.4 476.9 392.2 477.3 391.7 477.5 391 477.5 390.3 477.2 389.7 476.5 389.1 472.6 388.5 472 388.6 471.5 389.1 471 390.4 471.1 391.3 471.8 391.8ZM508.8 387.2 508 387.1 507.4 387.6 506.4 389.7 506.3 390.4 506.7 391 509.4 392.6 510.2 392.7 510.8 392.2 510.9 391.5 510.2 388.3 509.7 387.7ZM526.5 389.6 527 390.1 527.8 390.1 531.5 388.8 532.2 388.1 532.5 386.8 532.5 386.1 532 385.6 528.1 383.7 527.2 383.7 525.6 384.7 525.1 385.3 525.1 385.9ZM366.2 392.7 365.3 392.6 365.2 392.7 364.7 393.1 364.5 393.8 365.3 399.4 365.7 400 366.3 400.3 367.8 400.2 368.4 400 368.8 399.6 369.1 398.6 368.1 394.2 367.6 393.6ZM433.9 395.1 433.1 395.5 430.9 398.1 430.7 398.7 430.9 399.3 431.7 400.5 432.3 400.9 433 400.9 433.5 400.4 435.4 396.6 435.5 395.9 435.2 395.4 434.6 395.1ZM437.9 393.7 437.8 394.4 438.2 394.9 440.1 396.7 440.9 396.9 442.2 396.8 442.9 396.4 444.5 394.1 444.7 393.4 444.4 392.8 443.8 392.5 439.7 391.8 439 391.9 438.6 392.3ZM448.2 393.5 447.4 393.3 446.8 393.7 444.8 396.7 444.6 397.4 445 398 447.1 399.8 447.7 400 448.3 399.9 450.3 398.5 450.7 397.5 450.2 395.3 449.8 394.7ZM471.4 393.4 470.8 393.5 470.3 394 470.3 394.7 471.1 397.6 471.7 398.3 472.6 398.2 476.4 395.9 476.9 395.3 476.7 394.5 476 394.1ZM370.7 405.3 371.2 405.8 371.9 405.9 372.5 405.5 374.6 402 374.7 401.3 374.4 400.7 373.7 400.4 370.9 400.4 370.3 400.7 369.9 400.9 369.6 402ZM379.7 399.2 379.1 399.5 378.8 400.1 378.9 400.7 382 406 382.6 406.4 384.7 407 385.6 406.7 386.9 405.5 387.1 405.1 387.8 403.3 387.6 402.3 384.9 399.1 384 398.8ZM389.9 403 389.5 403.5 389.2 404.4 389.2 405.2 389.8 405.7 395.3 407.8 395.9 407.8 397 407.5 397.6 407 397.7 406.3 396.3 401.3 395.6 400.6 394.6 400.3 393.7 400.4ZM399.4 406.3 399.8 406.8 400.5 407 404.1 406.7 404.7 406.5 405 405.9 404.8 405.2 401.2 399.7 400.7 399.3 399.9 399.4 398.6 400.1 398.1 400.6 398.1 401.3ZM404 398.2 403.4 398.5 403.1 399.1 403.3 399.7 406.7 404.9 407.2 405.3 407.9 405.3 409.2 404.8 409.7 404.3 411 401.7 410.9 400.7 409.1 398.3 408.2 397.9ZM433.9 403.3 433.9 404.2 434.6 404.7 435.4 404.9 435.9 404.8 437.7 404.2 438.4 403.4 439.2 398.7 438.9 397.8 438.3 397.3 437.5 397.1 436.8 397.6ZM460.7 399.2 460.1 399.9 460.3 400.8 465.6 406.8 466.2 407.1 466.9 407 467.7 406.4 468.1 405.7 468.5 402.3 468.4 401.7 467.9 401.2 461.7 399.1 461 399.1ZM505.4 403.1 505.4 402.4 504.2 399.8 503.8 399.3 502.3 398.6 501.4 398.6 497.5 400.4 496.9 401.4 497 404.4 497.7 405.2 500.2 406.2 500.8 406.3 504.2 405.4 504.9 404.8ZM517.4 401.9 517.3 401.1 516 398.6 515.2 398.1 514.4 398.5 511.9 401.3 511.7 402.1 512.2 402.8 515.1 404.4 515.9 404.4 516.5 403.9ZM517.7 405.5 517.6 406.1 518 406.7 521.8 409.5 522.7 409.7 523.3 409.2 525.3 405.1 525.4 404.6 525.3 402.7 524.9 402 524.2 401.8 519.7 402.2 518.8 402.8ZM527.1 403.9 527.6 404.7 530.3 406 530.7 406.1 532.8 406.1 533.6 405.6 533.7 404.7 532.1 401.1 531.2 400.5 528.2 400.5 527.7 400.6 527.3 400.9 526.9 401.8ZM540.3 404.1 540.9 403.7 541.1 402.9 540.7 399.7 540.4 399.1 539.8 398.9 535.3 398.6 534.5 398.9 534 399.4 533.7 399.9 533.7 400.5 535.3 404.1 535.7 404.5 536.3 404.7ZM369.8 409.8 369.5 409 368.7 408.7 364.2 408.9 363.6 409.3 363.3 410 363.4 412.4 363.6 413.1 364.2 413.8 364.7 414.1 366.4 414.6 367.4 414.3 369.3 412.3 369.5 411.8ZM421.8 413.6 422.4 413.1 422.5 412.3 422.2 411.5 421.7 410.9 419 409.5 418.4 409.3 415.2 409.7 414.5 410.1 414.3 410.8 414.4 411.8 415 412.6 419 414.1 419.6 414.2ZM438.3 413.1 438.9 413.8 439.8 413.7 440.8 413.1 441.2 412.2 440.7 407 440.2 406.2 439.4 405.8 438.6 405.7 437.6 406.1 437 406.5 436.9 407.3ZM447 406.2 446.1 405.9 443.3 406.4 442.7 406.8 442.5 407.5 442.9 411.5 443.2 412.1 443.8 412.4 447.5 412.6 448.3 412.3 448.8 411.8 449.1 411 448.9 408.8 448.7 408.3ZM480.8 406.5 480.5 405.7 479.8 405.5 479.2 405.5 478.8 405.6 474.8 407.8 474.3 408.4 474.4 409.2 476.1 411.8 476.5 412.1 478.5 413.2 479.4 413.2 480.1 412.9 480.7 412ZM509.8 413.4 510.4 413.3 510.9 413.1 511.3 412.7 513.1 409.7 513.3 409.1 513 408.5 512.4 408.2 508.5 407.9 507.7 408.3 507.5 409.2 508.5 412.6 509.3 413.3ZM517.3 408.3 516.5 408.1 515.9 408.6 513.7 412 513.6 412.9 514.3 413.5 519 415 519.8 414.9 522 413.6 522.5 413.1 522.5 412.4 522.5 412.4 522.1 411.9ZM531.6 407.8 531 408 530.7 408.5 529.4 412 529.5 412.8 530.2 413.3 532.7 413.8 533.6 413.6 533.9 412.8 533.7 408.7 533.4 408.1 532.7 407.8ZM378.6 425 379.1 424.3 380 421.1 379.8 420.4 378.3 417.9 377.9 417.5 377.6 417.3 376.6 417.5 374.2 419.3 373.8 420 374 420.8 377.4 424.7 377.9 425.1 378.5 425ZM403 421.4 403.8 421.2 408.2 418.2 408.7 417.4 408.3 416.6 406.7 415.2 405.6 415.1 403 416.3 402.5 417 401.8 420.1 401.9 420.8 402.5 421.3ZM440.1 419.8 440.4 420.5 441.2 420.7 446.7 420.5 447.4 420.2 447.6 419.5 447.5 415.2 447.2 414.5 446.6 414.3 442.7 414.1 442.1 414.2 440.3 415.4 439.9 416.3ZM463.3 417.5 462.8 418 462.8 418.7 463.2 419.2 466.5 421.6 467.1 421.8 467.7 421.6 468.8 420.6 469.2 420.1 469.1 419.5 468.4 417.4 468.1 417 467.3 416.3 466.8 416 466.2 416.1ZM476.2 413.9 475.2 413.9 470.8 416.6 470.3 417.2 470.3 417.8 470.8 419.2 471.5 419.8 474.7 420.8 475.4 420.8 475.7 420.6 476.3 420 477.7 415.6 477.6 414.9 477.2 414.4ZM481.9 415.1 481.3 414.5 480.5 414.5 480 414.8 479.5 415.4 478.1 419.9 478.1 420.5 478.6 421 480.1 421.9 480.7 422 481.2 421.7 483.3 420 483.6 419.4 483.5 418.8ZM485.3 418.5 486 419.1 487.9 419.5 488.7 419.2 489.6 418.5 489.9 417.8 489.7 417.1 487.6 414.3 486.8 413.9 484.7 414 483.9 414.5 483.9 415.4ZM492.6 416.7 492.4 417.6 492.9 418.3 494.2 419.1 494.8 419.2 496.3 419.1 497.2 418.5 498.3 416.2 498.4 415.4 497.9 414.9 496.4 414.1 495.7 414 495.2 414.2ZM535.3 415 534.6 415.2 534.1 415.8 533.3 420.8 533.4 421.4 533.8 421.9 536.2 423.1 536.9 423.1 537.5 422.7 540.5 418.4 540.5 417.4 539.9 416.3 539.2 415.7ZM370.7 420.7 369.9 421 369.7 421.9 370.7 426.7 371.1 427.3 371.9 427.4 375 427 375.7 426.7 375.9 426 375.7 425.4 372.1 421 371.3 420.7ZM401.4 422.7 400.6 422.9 400.2 423.6 399.8 427.4 400 428 400.5 428.4 403.5 429.5 404.2 429.5 405.8 428.9 406.4 428.3 406.3 427.4 403.4 423.5 402.8 423.1ZM408.7 427.8 409.2 428.1 409.8 428.1 412 427.5 412.8 426.7 413.3 423.2 413.1 422.4 410.6 419.7 410 419.4 409.3 419.5 405.7 422 405.3 422.7 405.5 423.4ZM459.7 427.6 460 427.1 460 426.5 458.4 421.7 457.5 421 456.9 421 456.3 421.1 452 423.5 451.5 424.5 451.6 425.8 452 426.5 455.1 429.1 456.1 429.3 458.5 428.5 458.8 428.3ZM468.1 423.5 467.8 423.9 466.8 426.6 467 427.6 468.5 429.3 469.4 429.7 471.9 429.3 472.4 429.1 472.9 428.6 473.2 428 474 423.3 473.8 422.6 473.3 422.2 471.1 421.5 470.1 421.7ZM511.2 425.5 511.7 426.1 512.4 426.2 513 425.8 515.3 422.3 515.5 421.7 515.3 421.1 514.7 420.8 513.3 420.5 512.6 420.6 512.2 421.1 511 424.3 511 425ZM520.9 427.8 521.6 427 521.6 426.3 521.3 425.5 518.6 422.7 517.8 422.4 517 422.8 514.6 426.4 514.5 427.2 515 427.8 517.3 428.9 518.1 428.9ZM397.2 433 397.5 433.6 399.7 435.4 400.6 435.6 401.3 435 402.4 432 402.4 431.2 401.8 430.7 399.6 429.9 398.6 430.1 397.3 431.4 397 432.3ZM424.3 434.8 423.9 435.5 424.2 436.3 424.9 436.6 426 436.7 426.8 436.3 430 432.6 430.2 431.7 429.6 431.1 429.6 431 428.5 431.2ZM473.7 434.7 473.7 433.8 472.5 431.6 472 431.2 471.4 431.1 469.8 431.3 469 432 468.8 432.7 468.8 433.3 469.2 433.8 472.1 435.5 472.9 435.6 473.5 435.1ZM389 444.1 389.4 444.3 394.8 445.2 395.8 444.9 395.9 444.7 396.1 444.1 396.1 443.9 395.8 443.2 392 439.2 391.2 438.9 390.5 438.9 389.7 439.5 388.2 442.5 388.2 443.2 388.5 443.8ZM411.5 441.2 412.1 440.6 412 439.8 409.6 435.6 409.1 435.2 408.4 435.2 407.9 435.6 406.3 437.9 406.2 438.5 406.4 439 408 441.4 408.7 441.8 409.6 441.9 410 441.8ZM468.6 435.4 467.9 435.3 467.3 435.7 465.9 437.8 465.7 438.4 465.8 439.5 466.3 440.3 467 440.6 467.6 440.8 471.9 440.2 472.5 439.8 472.8 439.1 472.7 438.3 472.2 437.5ZM481.8 435.6 481.7 436 481.4 439.4 482 440.4 483.8 441.4 484.6 441.4 484.9 441.3 485.5 440.8 487.6 436.8 487.6 436.1 487.2 435.5 484.1 433.7 483.4 433.6 482.8 434.1ZM362.7 443.9 361.9 443.7 361.2 444.2 361.1 445 361.6 446.4 361.9 447 362.5 447.1 364 447.1 364.7 446.8 365 446.1 364.6 445.4ZM377.9 443.5 377.3 444.3 377.2 446.1 377.4 446.8 378.2 447.1 381.4 447.1 382 447 382.4 446.5 382.9 445 383 444.3 382.6 443.8 380.8 442.5 379.8 442.5ZM406 445.4 405.7 446.1 406 446.8 406.7 447.1 408.6 447.1 409.4 446.8 409.6 446 409.4 444.4 409 443.8 408.3 443.6 407.7 443.8ZM414.2 442.6 413.2 442.4 411.7 443 411.1 443.4 411 444.1 411.4 446.3 411.8 446.9 412.4 447.1 415 447.1 415.7 446.8 416 446 415.6 444.1 415.3 443.5ZM486.3 442.9 485.4 443.1 485 444 485.2 446.2 485.5 446.9 486.2 447.1 487.8 447.1 488.4 447 488.8 446.4 489.3 444.8 489.2 444 488.6 443.6ZM507.1 444.1 506.4 444.7 506.5 445.5 507.1 446.6 508 447.1 511.5 447.1 512.2 446.9 512.5 446.3 513 443.8 512.9 443.1 512.4 442.7 511.7 442.6Z"/></g><rect x="361" y="319.5" width="181" height="3.5" fill="#fafafa"/><rect x="538.5" y="322" width="4" height="121" fill="#fafafa"/><rect x="361" y="442" width="182" height="3.5" fill="#fafafa"/><rect x="361" y="322" width="2" height="121" fill="#fafafa"/><path d="M49 234.3H74" stroke="#dcdcdc" stroke-width="1" fill="none"/><path d="M549 242.5L612 241.5" stroke="#c9c5bf" stroke-width="1" fill="none"/><circle cx="861.5" cy="12.5" r="0.8" fill="#999"/><circle cx="873" cy="14" r="0.8" fill="#999"/><circle cx="864" cy="31" r="0.8" fill="#999"/><circle cx="869" cy="31" r="0.8" fill="#999"/><circle cx="161" cy="125.5" r="0.8" fill="#999"/><circle cx="812" cy="98" r="0.8" fill="#999"/><circle cx="451.3" cy="427" r="9.6" fill="#ffffff"/><circle cx="450.3" cy="426.4" r="1.1" fill="#222"/><polyline points="358.7,198 358.7,448 392,448" stroke="#e4a43a" stroke-width="3.8" fill="none"/><polyline points="516.7,448 544.6,448 544.6,200 573,198.6" stroke="#e4a43a" stroke-width="3.6" fill="none"/><line x1="392" y1="447.5" x2="516.7" y2="447.5" stroke="#f4f4f4" stroke-width="3"/><line x1="392" y1="448" x2="516.7" y2="448" stroke="#444" stroke-width="1" stroke-dasharray="1.2 4.5"/><rect x="678.4" y="159" width="19.5" height="37" fill="#ededed"/><path d="M679 159.5H697.5V196M694 197V222.5" stroke="#d9d9d9" stroke-width="1" fill="none"/><rect x="658" y="196" width="36" height="27" fill="#dcd8d3"/><path d="M347 37.7V82.3M550 37.7V82.3M350 49H547" stroke-width="1.3" stroke="#1c1c1c" fill="none"/><path d="M347 49L357.5 45L354.6 49L357.5 53Z" fill="#222"/><path d="M550 49L539.5 45L542.4 49L539.5 53Z" fill="#222"/><path d="M345.8 153.3V189.5M469.7 154.2V190M349 164.2H466" stroke-width="1.3" stroke="#1c1c1c" fill="none"/><path d="M345.8 164.2L356.3 160.2L353.4 164.2L356.3 168.2Z" fill="#222"/><path d="M469.7 164.2L459.2 160.2L462.1 164.2L459.2 168.2Z" fill="#222"/><path d="M284 76H337.2V189.5" stroke-width="1.35" stroke="#1c1c1c" fill="none"/><path d="M292.9 147V184.5" stroke-width="1.3" stroke="#1c1c1c" fill="none"/><path d="M217 205.2H368.4" stroke-width="1.3" stroke="#1c1c1c" fill="none"/><path d="M217.8 261H361" stroke-width="1.35" stroke="#1c1c1c" fill="none"/><path d="M215.6 355H363" stroke-width="1.35" stroke="#1c1c1c" fill="none"/><path d="M49 234.3H74" stroke="#dcdcdc" stroke-width="1" fill="none"/><path d="M549 242.5L612 241.5" stroke="#c9c5bf" stroke-width="1" fill="none"/><circle cx="861.5" cy="12.5" r="0.8" fill="#999"/><circle cx="873" cy="14" r="0.8" fill="#999"/><circle cx="864" cy="31" r="0.8" fill="#999"/><circle cx="869" cy="31" r="0.8" fill="#999"/><circle cx="161" cy="125.5" r="0.8" fill="#999"/><circle cx="812" cy="98" r="0.8" fill="#999"/><path d="M297 426.3H450" stroke-width="1.35" stroke="#1c1c1c" fill="none"/><path d="M654.5 181L659 249H669.5" stroke-width="1.3" stroke="#1c1c1c" fill="none"/><path d="M538.6 405H649" stroke-width="1.35" stroke="#1c1c1c" fill="none"/><path d="M544 445H608.5V493.3H645" stroke-width="1.35" stroke="#1c1c1c" fill="none"/><g transform="rotate(-6 560 208)"><path d="M545.5 203V221M575 197V217M549 208H572" stroke-width="1.3" stroke="#1c1c1c" fill="none"/><path d="M546 208L556.5 204L553.6 208L556.5 212Z" fill="#222"/><path d="M575 208L564.5 204L567.4 208L564.5 212Z" fill="#222"/></g><path d="M510.9 449V470.3M544 447V470.3M514 456.1H541" stroke-width="1.4" stroke="#1c1c1c" fill="none"/><path d="M511.5 456.1L522 452.1L519.1 456.1L522 460.1Z" fill="#222"/><path d="M543.5 456.1L533 452.1L535.9 456.1L533 460.1Z" fill="#222"/><text x="330.7" y="22" textLength="205.8" lengthAdjust="spacingAndGlyphs" font-family="Liberation Sans, sans-serif" font-size="15.4" fill="#1a1a1a" stroke="#1a1a1a" stroke-width="0.25" >Permeable paving width to vary</text><text x="103.9" y="79.6" textLength="178.9" lengthAdjust="spacingAndGlyphs" font-family="Liberation Sans, sans-serif" font-size="15.4" fill="#1a1a1a" stroke="#1a1a1a" stroke-width="0.25" >125 x 225mm concrete kerb</text><text x="187.5" y="111.2" textLength="124.2" lengthAdjust="spacingAndGlyphs" font-family="Liberation Sans, sans-serif" font-size="15.4" fill="#1a1a1a" stroke="#1a1a1a" stroke-width="0.25" >Existing level of car-</text><rect x="315.6" y="105.8" width="2.6" height="1.3" fill="#555"/><text x="256.8" y="133.2" textLength="58" lengthAdjust="spacingAndGlyphs" font-family="Liberation Sans, sans-serif" font-size="15.4" fill="#1a1a1a" stroke="#1a1a1a" stroke-width="0.25" >riageway</text><text x="353.1" y="109.9" textLength="176.2" lengthAdjust="spacingAndGlyphs" font-family="Liberation Sans, sans-serif" font-size="15.4" fill="#1a1a1a" stroke="#1a1a1a" stroke-width="0.25" >First 2.00m to be horizontal</text><text x="353.1" y="131.5" textLength="254.4" lengthAdjust="spacingAndGlyphs" font-family="Liberation Sans, sans-serif" font-size="15.4" fill="#1a1a1a" stroke="#1a1a1a" stroke-width="0.25" >and 20mm below adjacent carriageway</text><text x="81.8" y="208.7" textLength="131.9" lengthAdjust="spacingAndGlyphs" font-family="Liberation Sans, sans-serif" font-size="15.4" fill="#1a1a1a" stroke="#1a1a1a" stroke-width="0.25" >0.10m bedding layer</text><text x="40" y="263.4" textLength="173.3" lengthAdjust="spacingAndGlyphs" font-family="Liberation Sans, sans-serif" font-size="15.4" fill="#1a1a1a" stroke="#1a1a1a" stroke-width="0.25" >Fill with Type 3 sub-base to</text><text x="97.8" y="285.7" textLength="115.5" lengthAdjust="spacingAndGlyphs" font-family="Liberation Sans, sans-serif" font-size="15.4" fill="#1a1a1a" stroke="#1a1a1a" stroke-width="0.25" >MCHW clause 805</text><text x="32.4" y="358.9" textLength="180.7" lengthAdjust="spacingAndGlyphs" font-family="Liberation Sans, sans-serif" font-size="15.4" fill="#1a1a1a" stroke="#1a1a1a" stroke-width="0.25" >0.85m drainage layer - clean</text><text x="26.9" y="380.4" textLength="186.2" lengthAdjust="spacingAndGlyphs" font-family="Liberation Sans, sans-serif" font-size="15.4" fill="#1a1a1a" stroke="#1a1a1a" stroke-width="0.25" >crushed type 4/40 aggregate</text><text x="16.6" y="432.2" textLength="277.7" lengthAdjust="spacingAndGlyphs" font-family="Liberation Sans, sans-serif" font-size="15.4" fill="#1a1a1a" stroke="#1a1a1a" stroke-width="0.25" >150mm diameter perforated pipe wrapped</text><text x="62.3" y="454" textLength="233" lengthAdjust="spacingAndGlyphs" font-family="Liberation Sans, sans-serif" font-size="15.4" fill="#1a1a1a" stroke="#1a1a1a" stroke-width="0.25" >in Geotextile running longitudinally</text><text x="27.7" y="476" textLength="266.6" lengthAdjust="spacingAndGlyphs" font-family="Liberation Sans, sans-serif" font-size="15.4" fill="#1a1a1a" stroke="#1a1a1a" stroke-width="0.25" >through permeable paving at gradient of</text><text x="11" y="497.9" textLength="283.3" lengthAdjust="spacingAndGlyphs" font-family="Liberation Sans, sans-serif" font-size="15.4" fill="#1a1a1a" stroke="#1a1a1a" stroke-width="0.25" >1:200. Perforated pipes to connect to cham-</text><text x="48.3" y="519.6" textLength="247" lengthAdjust="spacingAndGlyphs" font-family="Liberation Sans, sans-serif" font-size="15.4" fill="#1a1a1a" stroke="#1a1a1a" stroke-width="0.25" >bers at invert level of chamber outfall.</text><text x="670" y="252.4" textLength="225.2" lengthAdjust="spacingAndGlyphs" font-family="Liberation Sans, sans-serif" font-size="15.4" fill="#1a1a1a" stroke="#1a1a1a" stroke-width="0.25" >Marshalls Priora permeable paving</text><text x="670" y="274.8" textLength="204.4" lengthAdjust="spacingAndGlyphs" font-family="Liberation Sans, sans-serif" font-size="15.4" fill="#1a1a1a" stroke="#1a1a1a" stroke-width="0.25" >blocks 200 x 100 x 80, to be laid</text><text x="670" y="296.4" textLength="189.6" lengthAdjust="spacingAndGlyphs" font-family="Liberation Sans, sans-serif" font-size="15.4" fill="#1a1a1a" stroke="#1a1a1a" stroke-width="0.25" >in herringbone pattern. Build</text><text x="670" y="318.1" textLength="210.6" lengthAdjust="spacingAndGlyphs" font-family="Liberation Sans, sans-serif" font-size="15.4" fill="#1a1a1a" stroke="#1a1a1a" stroke-width="0.25" >up and details to be cofirmed by</text><text x="670" y="340" textLength="88.3" lengthAdjust="spacingAndGlyphs" font-family="Liberation Sans, sans-serif" font-size="15.4" fill="#1a1a1a" stroke="#1a1a1a" stroke-width="0.25" >manufacturer</text><text x="649.8" y="409.6" textLength="215.5" lengthAdjust="spacingAndGlyphs" font-family="Liberation Sans, sans-serif" font-size="15.4" fill="#1a1a1a" stroke="#1a1a1a" stroke-width="0.25" >Permafilter geotextile with 0.30m</text><text x="649.8" y="430.6" textLength="50" lengthAdjust="spacingAndGlyphs" font-family="Liberation Sans, sans-serif" font-size="15.4" fill="#1a1a1a" stroke="#1a1a1a" stroke-width="0.25" >overlap</text><text x="649.8" y="496.7" textLength="171.1" lengthAdjust="spacingAndGlyphs" font-family="Liberation Sans, sans-serif" font-size="15.4" fill="#1a1a1a" stroke="#1a1a1a" stroke-width="0.25" >Permavoid geomembrane</text><text x="501.6" y="486.9" textLength="48" lengthAdjust="spacingAndGlyphs" font-family="Liberation Sans, sans-serif" font-size="15.4" fill="#1a1a1a" stroke="#1a1a1a" stroke-width="0.25" >200mm</text><text x="549" y="238" textLength="48" lengthAdjust="spacingAndGlyphs" font-family="Liberation Sans, sans-serif" font-size="15.4" fill="#1a1a1a" stroke="#1a1a1a" stroke-width="0.25" transform="rotate(-5 549 238)">200mm</text></svg></body></html>
